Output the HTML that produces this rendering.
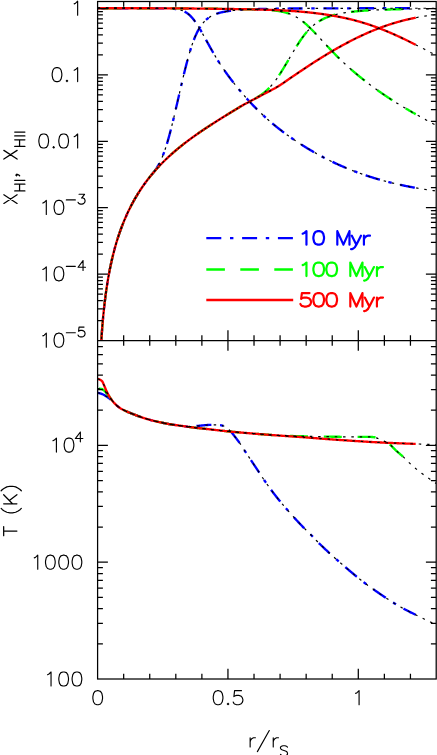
<!DOCTYPE html>
<html><head><meta charset="utf-8"><title>x_HI, x_HII and T profiles</title>
<style>
html,body{margin:0;padding:0;background:#ffffff;font-family:"Liberation Sans",sans-serif;}
body{width:437px;height:755px;overflow:hidden;}
svg{display:block;}
</style></head>
<body>
<svg width="437" height="755" viewBox="0 0 437 755" role="img" aria-label="Profiles of X_HI, X_HII and T (K) versus r/r_S at 10 Myr, 100 Myr and 500 Myr">
<desc>Top panel: X_HI, X_HII (1, 0.1, 0.01, 10^-3, 10^-4, 10^-5) versus r/r_S. Bottom panel: T (K) (10^4, 1000, 100) versus r/r_S (0, 0.5, 1). Legend: 10 Myr (blue dash-dot), 100 Myr (green dashed), 500 Myr (red solid).</desc>
<rect x="0" y="0" width="437" height="755" fill="#ffffff"/>
<defs><clipPath id="ct"><rect x="97.60" y="1.50" width="338.60" height="339.00"/></clipPath>
<clipPath id="cb"><rect x="97.60" y="340.50" width="338.60" height="338.50"/></clipPath></defs>
<g clip-path="url(#ct)">
<path d="M100.70 351.51L100.80 349.65L100.90 347.85L101.00 346.09L101.10 344.39L101.20 342.74L101.30 341.12L101.40 339.56L101.50 338.03L101.60 336.54L101.70 335.08L101.80 333.66L101.90 332.27L102.00 330.91L102.10 329.58L102.20 328.28L102.30 327.01L102.40 325.76L102.50 324.54L102.60 323.35L102.70 322.17L102.80 321.02L102.90 319.89L103.00 318.78L103.10 317.69L103.20 316.61L103.30 315.56L103.40 314.52L103.50 313.51L103.60 312.50L103.70 311.52L103.80 310.55L103.90 309.59L104.00 308.65L104.10 307.72L104.20 306.81L104.30 305.91L104.40 305.02L104.50 304.15L104.60 303.28L104.70 302.43L104.80 301.59L104.90 300.76L105.00 299.95L105.10 299.14L105.20 298.34L105.30 297.55L105.40 296.78L105.50 296.01L105.60 295.25L105.70 294.50L105.80 293.76L105.90 293.03L106.00 292.31L106.10 291.59L106.20 290.88L106.30 290.18L106.40 289.49L106.50 288.81L106.60 288.13L106.70 287.46L106.80 286.80L106.90 286.14L107.00 285.49L107.10 284.85L107.20 284.21L107.30 283.58L107.40 282.96L107.50 282.34L107.60 281.73L107.70 281.12L107.80 280.52L107.90 279.93L108.00 279.34L108.10 278.75L108.20 278.17L108.30 277.60L108.40 277.03L108.50 276.47L108.60 275.91L108.70 275.36L108.80 274.81L108.90 274.26L109.00 273.72L109.10 273.19L109.20 272.66L109.30 272.13L109.40 271.61L109.50 271.09L109.60 270.57L109.70 270.06L109.80 269.56L109.90 269.06L110.00 268.56L110.10 268.06L110.20 267.57L110.30 267.09L110.40 266.60L110.50 266.12L110.60 265.65L110.70 265.17L110.80 264.70L110.90 264.24L111.00 263.77L111.10 263.31L111.20 262.86L111.30 262.41L111.40 261.96L111.50 261.51L111.60 261.06L111.70 260.62L111.80 260.19L111.90 259.75L112.00 259.32L112.10 258.89L112.20 258.46L112.30 258.04L112.40 257.62L112.50 257.20L112.60 256.78L112.70 256.37L112.80 255.96L112.90 255.55L113.00 255.15L113.10 254.74L113.20 254.34L113.30 253.94L113.40 253.55L113.50 253.15L113.60 252.76L113.70 252.37L113.80 251.99L113.90 251.60L114.00 251.22L114.10 250.84L114.20 250.46L114.30 250.09L114.40 249.72L114.50 249.34L114.60 248.98L114.70 248.61L114.80 248.24L114.90 247.88L115.00 247.52L115.10 247.16L115.20 246.80L115.30 246.45L115.40 246.09L115.50 245.74L115.60 245.39L115.70 245.04L115.80 244.70L115.90 244.35L116.00 244.01L116.10 243.67L116.20 243.33L116.30 242.99L116.40 242.66L116.50 242.32L116.60 241.99L116.70 241.66L116.80 241.33L116.90 241.01L117.00 240.68L117.10 240.36L117.20 240.03L117.30 239.71L117.40 239.39L117.50 239.07L117.60 238.76L117.70 238.44L117.80 238.13L117.90 237.82L118.00 237.51L118.10 237.20L118.20 236.89L118.30 236.58L118.40 236.28L118.50 235.98L118.60 235.67L118.70 235.37L118.80 235.07L118.90 234.78L119.00 234.48L119.10 234.18L119.20 233.89L119.30 233.60L119.40 233.30L119.50 233.01L119.60 232.73L119.70 232.44L119.80 232.15L119.90 231.87L120.00 231.58L120.10 231.30L120.20 231.02L120.30 230.74L120.40 230.46L120.50 230.18L120.60 229.90L120.70 229.63L120.80 229.35L120.90 229.08L121.00 228.80L121.10 228.53L121.20 228.26L121.30 227.99L121.40 227.73L121.50 227.46L121.60 227.19L121.70 226.93L121.80 226.66L121.90 226.40L122.00 226.14L122.10 225.88L122.20 225.62L122.30 225.36L122.40 225.10L122.50 224.84L122.60 224.59L122.70 224.33L122.80 224.08L122.90 223.83L123.00 223.57L123.10 223.32L123.20 223.07L123.30 222.82L123.40 222.57L123.50 222.33L123.60 222.08L123.70 221.84L123.80 221.59L123.90 221.35L124.00 221.10L124.10 220.86L124.20 220.62L124.30 220.38L124.40 220.14L124.50 219.90L124.60 219.66L124.70 219.43L124.80 219.19L124.90 218.96L125.00 218.72L125.50 217.56L126.00 216.42L126.50 215.30L127.00 214.20L127.50 213.11L128.00 212.04L128.50 210.99L129.00 209.96L129.50 208.94L130.00 207.93L130.50 206.95L131.00 205.97L131.50 205.01L132.00 204.06L132.50 203.13L133.00 202.21L133.50 201.30L134.00 200.40L134.50 199.52L135.00 198.65L135.50 197.79L136.00 196.94L136.50 196.10L137.00 195.27L137.50 194.45L138.00 193.64L138.50 192.84L139.00 192.05L139.50 191.27L140.00 190.50L140.50 189.74L141.00 188.98L141.50 188.24L142.00 187.50L142.50 186.77L143.00 186.05L143.50 185.34L144.00 184.63L144.50 183.92L145.00 183.23L145.50 182.55L146.00 181.87L146.50 181.20L147.00 180.54L147.50 179.88L148.00 179.24L148.50 178.60L149.00 177.97L149.50 177.35L150.00 176.73L150.50 176.12L151.00 175.52L151.50 174.92L152.00 174.31L152.50 173.71L153.00 173.09L153.50 172.47L154.00 171.83L154.50 171.17L155.00 170.50L155.50 169.80L156.00 169.07L156.50 168.32L157.00 167.54L157.50 166.72L158.00 165.86L158.50 164.97L159.00 164.04L159.50 163.07L160.00 162.07L160.50 161.02L161.00 159.94L161.50 158.81L162.00 157.65L162.50 156.44L163.00 155.18L163.50 153.89L164.00 152.55L164.50 151.16L165.00 149.74L165.50 148.26L166.00 146.74L166.50 145.17L167.00 143.55L167.50 141.88L168.00 140.17L168.50 138.41L169.00 136.61L169.50 134.77L170.00 132.90L170.50 130.99L171.00 129.04L171.50 127.06L172.00 125.06L172.50 123.02L173.00 120.97L173.50 118.89L174.00 116.79L174.50 114.67L175.00 112.54L175.50 110.40L176.00 108.24L176.50 106.08L177.00 103.91L177.50 101.74L178.00 99.57L178.50 97.39L179.00 95.21L179.50 93.04L180.00 90.87L180.50 88.70L181.00 86.55L181.50 84.40L182.00 82.27L182.50 80.15L183.00 78.04L183.50 75.95L184.00 73.89L184.50 71.84L185.00 69.82L185.50 67.82L186.00 65.85L186.50 63.91L187.00 62.00L187.50 60.13L188.00 58.29L188.50 56.49L189.00 54.73L189.50 53.00L190.00 51.32L190.50 49.68L191.00 48.09L191.50 46.54L192.00 45.04L192.50 43.58L193.00 42.17L193.50 40.81L194.00 39.50L194.50 38.24L195.00 37.02L195.50 35.85L196.00 34.72L196.50 33.64L197.00 32.60L197.50 31.61L198.00 30.65L198.50 29.73L199.00 28.86L199.50 28.01L200.00 27.21L200.50 26.44L201.00 25.70L201.50 25.00L202.00 24.32L202.50 23.68L203.00 23.07L203.50 22.48L204.00 21.92L204.50 21.38L205.00 20.87L205.50 20.38L206.00 19.92L206.50 19.47L207.00 19.05L207.50 18.64L208.00 18.26L208.50 17.89L209.00 17.54L209.50 17.20L210.00 16.88L210.50 16.57L211.00 16.28L211.50 16.00L212.00 15.73L212.50 15.48L213.00 15.23L213.50 15.00L214.00 14.78L214.50 14.56L215.00 14.36L215.50 14.16L216.00 13.97L216.50 13.79L217.00 13.62L217.50 13.46L218.00 13.30L218.50 13.15L219.00 13.00L219.50 12.86L220.00 12.73L220.50 12.60L221.00 12.47L221.50 12.36L222.00 12.24L222.50 12.13L223.00 12.02L223.50 11.92L224.00 11.82L224.50 11.73L225.00 11.64L225.50 11.55L226.00 11.46L226.50 11.38L227.00 11.30L227.50 11.23L228.00 11.15L228.50 11.08L229.00 11.01L229.50 10.94L230.00 10.88L230.50 10.81L231.00 10.75L231.50 10.69L232.00 10.64L232.50 10.58L233.00 10.52L233.50 10.47L234.00 10.42L234.50 10.37L235.00 10.32L235.50 10.27L236.00 10.23L236.50 10.18L237.00 10.14L237.50 10.10L238.00 10.06L238.50 10.02L239.00 9.98L239.50 9.94L240.00 9.90L240.50 9.87L241.00 9.83L241.50 9.80L242.00 9.76L242.50 9.73L243.00 9.70L243.50 9.67L244.00 9.64L244.50 9.61L245.00 9.58L245.50 9.55L246.00 9.53L246.50 9.50L247.00 9.48L247.50 9.45L248.00 9.43L248.50 9.40L249.00 9.38L249.50 9.36L250.00 9.34L250.50 9.31L251.00 9.29L251.50 9.27L252.00 9.25L252.50 9.23L253.00 9.21L253.50 9.20L254.00 9.18L254.50 9.16L255.00 9.14L255.50 9.13L256.00 9.11L256.50 9.09L257.00 9.08L257.50 9.06L258.00 9.05L258.50 9.03L259.00 9.02L259.50 9.01L260.00 8.99L260.50 8.98L261.00 8.97L261.50 8.95L262.00 8.94L262.50 8.93L263.00 8.92L263.50 8.90L264.00 8.89L264.50 8.88L265.00 8.87L265.50 8.86L266.00 8.85L266.50 8.84L267.00 8.83L267.50 8.82L268.00 8.81L268.50 8.80L269.00 8.79L269.50 8.78L270.00 8.77L270.50 8.77L271.00 8.76L271.50 8.75L272.00 8.74L272.50 8.73L273.00 8.73L273.50 8.72L274.00 8.71L274.50 8.70L275.00 8.70L275.50 8.69L276.00 8.68L276.50 8.68L277.00 8.67L277.50 8.66L278.00 8.66L278.50 8.65L279.00 8.64L279.50 8.64L280.00 8.63L280.50 8.63L281.00 8.62L281.50 8.61L282.00 8.61L282.50 8.60L283.00 8.60L283.50 8.59L284.00 8.59L284.50 8.58L285.00 8.58L285.50 8.57L286.00 8.57L286.50 8.56L287.00 8.56L287.50 8.56L288.00 8.55L288.50 8.55L289.00 8.54L289.50 8.54L290.00 8.53L290.50 8.53L291.00 8.53L291.50 8.52L292.00 8.52L292.50 8.51L293.00 8.51L293.50 8.51L294.00 8.50L294.50 8.50L295.00 8.50L295.50 8.49L296.00 8.49L296.50 8.49L297.00 8.48L297.50 8.48L298.00 8.48L298.50 8.47L299.00 8.47L299.50 8.47L300.00 8.46L300.50 8.46L301.00 8.46L301.50 8.46L302.00 8.45L302.50 8.45L303.00 8.45L303.50 8.44L304.00 8.44L304.50 8.44L305.00 8.44L305.50 8.43L306.00 8.43L306.50 8.43L307.00 8.43L307.50 8.42L308.00 8.42L308.50 8.42L309.00 8.42L309.50 8.42L310.00 8.41L310.50 8.41L311.00 8.41L311.50 8.41L312.00 8.40L312.50 8.40L313.00 8.40L313.50 8.40L314.00 8.40L314.50 8.39L315.00 8.39L315.50 8.39L316.00 8.39L316.50 8.39L317.00 8.39L317.50 8.38L318.00 8.38L318.50 8.38L319.00 8.38L319.50 8.38L320.00 8.37L320.50 8.37L321.00 8.37L321.50 8.37L322.00 8.37L322.50 8.37L323.00 8.37L323.50 8.36L324.00 8.36L324.50 8.36L325.00 8.36L325.50 8.36L326.00 8.36L326.50 8.36L327.00 8.35L327.50 8.35L328.00 8.35L328.50 8.35L329.00 8.35L329.50 8.35L330.00 8.35L330.50 8.34L331.00 8.34L331.50 8.34L332.00 8.34L332.50 8.34L333.00 8.34L333.50 8.34L334.00 8.34L334.50 8.34L335.00 8.33L335.50 8.33L336.00 8.33L336.50 8.33L337.00 8.33L337.50 8.33L338.00 8.33L338.50 8.33L339.00 8.33L339.50 8.33L340.00 8.32L340.50 8.32L341.00 8.32L341.50 8.32L342.00 8.32L342.50 8.32L343.00 8.32L343.50 8.32L344.00 8.32L344.50 8.32L345.00 8.32L345.50 8.31L346.00 8.31L346.50 8.31L347.00 8.31L347.50 8.31L348.00 8.31L348.50 8.31L349.00 8.31L349.50 8.31L350.00 8.31L350.50 8.31L351.00 8.31L351.50 8.31L352.00 8.30L352.50 8.30L353.00 8.30L353.50 8.30L354.00 8.30L354.50 8.30L355.00 8.30L355.50 8.30L356.00 8.30L356.50 8.30L357.00 8.30L357.50 8.30L358.00 8.30L358.50 8.30L359.00 8.30L359.50 8.29L360.00 8.29L360.50 8.29L361.00 8.29L361.50 8.29L362.00 8.29L362.50 8.29L363.00 8.29L363.50 8.29L364.00 8.29L364.50 8.29L365.00 8.29L365.50 8.29L366.00 8.29L366.50 8.29L367.00 8.29L367.50 8.29L368.00 8.29L368.50 8.29L369.00 8.28L369.50 8.28L370.00 8.28L370.50 8.28L371.00 8.28L371.50 8.28L372.00 8.28L372.50 8.28L373.00 8.28L373.50 8.28L374.00 8.28L374.50 8.28L375.00 8.28L375.50 8.28L376.00 8.28L376.50 8.28L377.00 8.28L377.50 8.28L378.00 8.28L378.50 8.28L379.00 8.28L379.50 8.28L380.00 8.28L380.50 8.27L381.00 8.27L381.50 8.27L382.00 8.27L382.50 8.27L383.00 8.27L383.50 8.27L384.00 8.27L384.50 8.27L385.00 8.27L385.50 8.27L386.00 8.27L386.50 8.27L387.00 8.27L387.50 8.27L388.00 8.27L388.50 8.27L389.00 8.27L389.50 8.27L390.00 8.27L390.50 8.27L391.00 8.27L391.50 8.27L392.00 8.27L392.50 8.27L393.00 8.27L393.50 8.27L394.00 8.27L394.50 8.27L395.00 8.27L395.50 8.27L396.00 8.27L396.50 8.27L397.00 8.26L397.50 8.26L398.00 8.26L398.50 8.26L399.00 8.26L399.50 8.26L400.00 8.26L400.50 8.26L401.00 8.26L401.50 8.26L402.00 8.26L402.50 8.26L403.00 8.26L403.50 8.26L404.00 8.26L404.50 8.26L405.00 8.26L405.50 8.26L406.00 8.26L406.50 8.26L407.00 8.26L407.50 8.26L408.00 8.26L408.50 8.26L409.00 8.26L409.50 8.26L410.00 8.26L410.50 8.26L411.00 8.26L411.50 8.26L412.00 8.26L412.50 8.26L413.00 8.26L413.50 8.26L414.00 8.26L414.50 8.26L415.00 8.26L415.50 8.26L415.70 8.26" fill="none" stroke="#0000ff" stroke-width="2.35" stroke-dasharray="15 8.7 3.4 8.7" stroke-dashoffset="28.61" stroke-linejoin="round" />
<path d="M97.60 8.20L98.10 8.20L98.60 8.20L99.10 8.20L99.60 8.20L100.10 8.20L100.60 8.20L101.10 8.20L101.60 8.20L102.10 8.20L102.60 8.20L103.10 8.20L103.60 8.20L104.10 8.20L104.60 8.20L105.10 8.20L105.60 8.20L106.10 8.20L106.60 8.20L107.10 8.20L107.60 8.20L108.10 8.20L108.60 8.20L109.10 8.20L109.60 8.20L110.10 8.20L110.60 8.20L111.10 8.20L111.60 8.20L112.10 8.20L112.60 8.21L113.10 8.21L113.60 8.21L114.10 8.21L114.60 8.21L115.10 8.21L115.60 8.21L116.10 8.21L116.60 8.21L117.10 8.21L117.60 8.21L118.10 8.21L118.60 8.21L119.10 8.21L119.60 8.21L120.10 8.21L120.60 8.21L121.10 8.21L121.60 8.21L122.10 8.22L122.60 8.22L123.10 8.22L123.60 8.22L124.10 8.22L124.60 8.22L125.10 8.22L125.60 8.22L126.10 8.22L126.60 8.22L127.10 8.22L127.60 8.22L128.10 8.22L128.60 8.23L129.10 8.23L129.60 8.23L130.10 8.23L130.60 8.23L131.10 8.23L131.60 8.23L132.10 8.23L132.60 8.23L133.10 8.23L133.60 8.24L134.10 8.24L134.60 8.24L135.10 8.24L135.60 8.24L136.10 8.24L136.60 8.24L137.10 8.24L137.60 8.25L138.10 8.25L138.60 8.25L139.10 8.25L139.60 8.25L140.10 8.25L140.60 8.25L141.10 8.25L141.60 8.26L142.10 8.26L142.60 8.26L143.10 8.26L143.60 8.26L144.10 8.26L144.60 8.27L145.10 8.27L145.60 8.27L146.10 8.27L146.60 8.27L147.10 8.27L147.60 8.28L148.10 8.28L148.60 8.28L149.10 8.28L149.60 8.28L150.10 8.28L150.60 8.29L151.10 8.29L151.60 8.29L152.10 8.29L152.60 8.29L153.10 8.30L153.60 8.30L154.10 8.30L154.60 8.30L155.10 8.30L155.60 8.31L156.10 8.31L156.60 8.31L157.10 8.32L157.60 8.32L158.10 8.32L158.60 8.33L159.10 8.33L159.60 8.34L160.10 8.34L160.60 8.35L161.10 8.35L161.60 8.36L162.10 8.36L162.60 8.37L163.10 8.38L163.60 8.39L164.10 8.40L164.60 8.41L165.10 8.42L165.60 8.43L166.10 8.44L166.60 8.45L167.10 8.47L167.60 8.48L168.10 8.50L168.60 8.52L169.10 8.54L169.60 8.56L170.10 8.59L170.60 8.62L171.10 8.65L171.60 8.68L172.10 8.71L172.60 8.75L173.10 8.79L173.60 8.84L174.10 8.89L174.60 8.94L175.10 9.00L175.60 9.06L176.10 9.13L176.60 9.20L177.10 9.28L177.60 9.37L178.10 9.46L178.60 9.56L179.10 9.67L179.60 9.79L180.10 9.92L180.60 10.05L181.10 10.20L181.60 10.36L182.10 10.54L182.60 10.72L183.10 10.92L183.60 11.14L184.10 11.37L184.60 11.61L185.10 11.88L185.60 12.16L186.10 12.46L186.60 12.78L187.10 13.12L187.60 13.48L188.10 13.86L188.60 14.27L189.10 14.69L189.60 15.14L190.10 15.62L190.60 16.11L191.10 16.63L191.60 17.17L192.10 17.74L192.60 18.33L193.10 18.94L193.60 19.57L194.10 20.22L194.60 20.89L195.10 21.58L195.60 22.28L196.10 23.01L196.60 23.75L197.10 24.51L197.60 25.29L198.10 26.08L198.60 26.88L199.10 27.70L199.60 28.53L200.10 29.37L200.60 30.22L201.10 31.08L201.60 31.95L202.10 32.83L202.60 33.71L203.10 34.60L203.60 35.49L204.10 36.39L204.60 37.29L205.10 38.20L205.60 39.10L206.10 40.01L206.60 40.92L207.10 41.83L207.60 42.73L208.10 43.64L208.60 44.54L209.10 45.44L209.60 46.34L210.10 47.24L210.60 48.13L211.10 49.01L211.60 49.90L212.10 50.77L212.60 51.64L213.10 52.51L213.60 53.37L214.10 54.23L214.60 55.08L215.10 55.92L215.60 56.76L216.10 57.59L216.60 58.41L217.10 59.23L217.60 60.04L218.10 60.84L218.60 61.64L219.10 62.42L219.60 63.21L220.10 63.98L220.60 64.75L221.10 65.51L221.60 66.27L222.10 67.02L222.60 67.76L223.10 68.50L223.60 69.23L224.10 69.95L224.60 70.67L225.10 71.38L225.60 72.08L226.10 72.78L226.60 73.48L227.10 74.17L227.60 74.85L228.10 75.53L228.60 76.21L229.10 76.88L229.60 77.54L230.10 78.20L230.60 78.86L231.10 79.51L231.60 80.17L232.10 80.81L232.60 81.46L233.10 82.10L233.60 82.74L234.10 83.37L234.60 84.00L235.10 84.63L235.60 85.26L236.10 85.88L236.60 86.51L237.10 87.12L237.60 87.74L238.10 88.35L238.60 88.96L239.10 89.57L239.60 90.17L240.10 90.77L240.60 91.37L241.10 91.97L241.60 92.56L242.10 93.15L242.60 93.73L243.10 94.31L243.60 94.89L244.10 95.47L244.60 96.04L245.10 96.62L245.60 97.18L246.10 97.75L246.60 98.31L247.10 98.87L247.60 99.42L248.10 99.98L248.60 100.53L249.10 101.07L249.60 101.62L250.10 102.16L250.60 102.70L251.10 103.23L251.60 103.76L252.10 104.29L252.60 104.82L253.10 105.34L253.60 105.86L254.10 106.38L254.60 106.90L255.10 107.41L255.60 107.92L256.10 108.42L256.60 108.93L257.10 109.43L257.60 109.92L258.10 110.42L258.60 110.91L259.10 111.40L259.60 111.89L260.10 112.37L260.60 112.85L261.10 113.33L261.60 113.80L262.10 114.28L262.60 114.75L263.10 115.22L263.60 115.68L264.10 116.14L264.60 116.60L265.10 117.06L265.60 117.51L266.10 117.97L266.60 118.42L267.10 118.86L267.60 119.31L268.10 119.75L268.60 120.19L269.10 120.62L269.60 121.06L270.10 121.49L270.60 121.92L271.10 122.35L271.60 122.77L272.10 123.20L272.60 123.62L273.10 124.04L273.60 124.45L274.10 124.86L274.60 125.28L275.10 125.68L275.60 126.09L276.10 126.50L276.60 126.90L277.10 127.30L277.60 127.70L278.10 128.09L278.60 128.49L279.10 128.88L279.60 129.27L280.10 129.66L280.60 130.04L281.10 130.43L281.60 130.81L282.10 131.19L282.60 131.57L283.10 131.94L283.60 132.32L284.10 132.69L284.60 133.06L285.10 133.43L285.60 133.80L286.10 134.16L286.60 134.53L287.10 134.89L287.60 135.25L288.10 135.61L288.60 135.96L289.10 136.32L289.60 136.67L290.10 137.02L290.60 137.37L291.10 137.72L291.60 138.07L292.10 138.41L292.60 138.76L293.10 139.10L293.60 139.44L294.10 139.78L294.60 140.12L295.10 140.46L295.60 140.79L296.10 141.13L296.60 141.46L297.10 141.79L297.60 142.12L298.10 142.45L298.60 142.77L299.10 143.10L299.60 143.42L300.10 143.75L300.60 144.07L301.10 144.39L301.60 144.71L302.10 145.03L302.60 145.34L303.10 145.66L303.60 145.97L304.10 146.28L304.60 146.59L305.10 146.90L305.60 147.21L306.10 147.52L306.60 147.82L307.10 148.13L307.60 148.43L308.10 148.73L308.60 149.03L309.10 149.33L309.60 149.63L310.10 149.92L310.60 150.22L311.10 150.51L311.60 150.80L312.10 151.09L312.60 151.38L313.10 151.67L313.60 151.96L314.10 152.24L314.60 152.53L315.10 152.81L315.60 153.09L316.10 153.37L316.60 153.65L317.10 153.93L317.60 154.21L318.10 154.48L318.60 154.76L319.10 155.03L319.60 155.30L320.10 155.57L320.60 155.84L321.10 156.11L321.60 156.37L322.10 156.64L322.60 156.90L323.10 157.16L323.60 157.43L324.10 157.69L324.60 157.94L325.10 158.20L325.60 158.46L326.10 158.71L326.60 158.97L327.10 159.22L327.60 159.47L328.10 159.72L328.60 159.97L329.10 160.22L329.60 160.47L330.10 160.71L330.60 160.96L331.10 161.20L331.60 161.44L332.10 161.68L332.60 161.92L333.10 162.16L333.60 162.40L334.10 162.64L334.60 162.87L335.10 163.10L335.60 163.34L336.10 163.57L336.60 163.80L337.10 164.03L337.60 164.26L338.10 164.48L338.60 164.71L339.10 164.93L339.60 165.16L340.10 165.38L340.60 165.60L341.10 165.82L341.60 166.04L342.10 166.26L342.60 166.47L343.10 166.69L343.60 166.90L344.10 167.12L344.60 167.33L345.10 167.54L345.60 167.75L346.10 167.96L346.60 168.17L347.10 168.37L347.60 168.58L348.10 168.78L348.60 168.99L349.10 169.19L349.60 169.39L350.10 169.59L350.60 169.79L351.10 169.99L351.60 170.18L352.10 170.38L352.60 170.57L353.10 170.77L353.60 170.96L354.10 171.15L354.60 171.34L355.10 171.53L355.60 171.72L356.10 171.91L356.60 172.10L357.10 172.28L357.60 172.47L358.10 172.65L358.60 172.83L359.10 173.01L359.60 173.19L360.10 173.37L360.60 173.55L361.10 173.73L361.60 173.91L362.10 174.08L362.60 174.26L363.10 174.43L363.60 174.60L364.10 174.77L364.60 174.94L365.10 175.11L365.60 175.28L366.10 175.45L366.60 175.62L367.10 175.78L367.60 175.95L368.10 176.11L368.60 176.28L369.10 176.44L369.60 176.60L370.10 176.76L370.60 176.92L371.10 177.08L371.60 177.23L372.10 177.39L372.60 177.54L373.10 177.70L373.60 177.85L374.10 178.01L374.60 178.16L375.10 178.31L375.60 178.46L376.10 178.61L376.60 178.76L377.10 178.90L377.60 179.05L378.10 179.19L378.60 179.34L379.10 179.48L379.60 179.63L380.10 179.77L380.60 179.91L381.10 180.05L381.60 180.19L382.10 180.33L382.60 180.47L383.10 180.60L383.60 180.74L384.10 180.87L384.60 181.01L385.10 181.14L385.60 181.27L386.10 181.41L386.60 181.54L387.10 181.67L387.60 181.80L388.10 181.92L388.60 182.05L389.10 182.18L389.60 182.31L390.10 182.43L390.60 182.56L391.10 182.68L391.60 182.80L392.10 182.92L392.60 183.05L393.10 183.17L393.60 183.29L394.10 183.41L394.60 183.52L395.10 183.64L395.60 183.76L396.10 183.87L396.60 183.99L397.10 184.10L397.60 184.22L398.10 184.33L398.60 184.44L399.10 184.55L399.60 184.66L400.10 184.77L400.60 184.88L401.10 184.99L401.60 185.10L402.10 185.21L402.60 185.31L403.10 185.42L403.60 185.52L404.10 185.63L404.60 185.73L405.10 185.83L405.60 185.94L406.10 186.04L406.60 186.14L407.10 186.24L407.60 186.34L408.10 186.44L408.60 186.53L409.10 186.63L409.60 186.73L410.10 186.82L410.60 186.92L411.10 187.01L411.60 187.11L412.10 187.20L412.60 187.29L413.10 187.39L413.60 187.48L414.10 187.57L414.60 187.66L415.10 187.75L415.60 187.84L415.70 187.85" fill="none" stroke="#0000ff" stroke-width="2.35" stroke-dasharray="15 8.7 3.4 8.7" stroke-dashoffset="19.97" stroke-linejoin="round" />
<path d="M100.70 351.51L100.80 349.65L100.90 347.85L101.00 346.09L101.10 344.39L101.20 342.74L101.30 341.12L101.40 339.56L101.50 338.03L101.60 336.54L101.70 335.08L101.80 333.66L101.90 332.27L102.00 330.91L102.10 329.58L102.20 328.28L102.30 327.01L102.40 325.76L102.50 324.54L102.60 323.35L102.70 322.17L102.80 321.02L102.90 319.89L103.00 318.78L103.10 317.69L103.20 316.61L103.30 315.56L103.40 314.52L103.50 313.51L103.60 312.50L103.70 311.52L103.80 310.55L103.90 309.59L104.00 308.65L104.10 307.72L104.20 306.81L104.30 305.91L104.40 305.02L104.50 304.15L104.60 303.28L104.70 302.43L104.80 301.59L104.90 300.76L105.00 299.95L105.10 299.14L105.20 298.34L105.30 297.55L105.40 296.78L105.50 296.01L105.60 295.25L105.70 294.50L105.80 293.76L105.90 293.03L106.00 292.31L106.10 291.59L106.20 290.88L106.30 290.18L106.40 289.49L106.50 288.81L106.60 288.13L106.70 287.46L106.80 286.80L106.90 286.14L107.00 285.49L107.10 284.85L107.20 284.21L107.30 283.58L107.40 282.96L107.50 282.34L107.60 281.73L107.70 281.12L107.80 280.52L107.90 279.93L108.00 279.34L108.10 278.75L108.20 278.17L108.30 277.60L108.40 277.03L108.50 276.47L108.60 275.91L108.70 275.36L108.80 274.81L108.90 274.26L109.00 273.72L109.10 273.19L109.20 272.66L109.30 272.13L109.40 271.61L109.50 271.09L109.60 270.57L109.70 270.06L109.80 269.56L109.90 269.06L110.00 268.56L110.10 268.06L110.20 267.57L110.30 267.09L110.40 266.60L110.50 266.12L110.60 265.65L110.70 265.17L110.80 264.70L110.90 264.24L111.00 263.77L111.10 263.31L111.20 262.86L111.30 262.41L111.40 261.96L111.50 261.51L111.60 261.06L111.70 260.62L111.80 260.19L111.90 259.75L112.00 259.32L112.10 258.89L112.20 258.46L112.30 258.04L112.40 257.62L112.50 257.20L112.60 256.78L112.70 256.37L112.80 255.96L112.90 255.55L113.00 255.15L113.10 254.74L113.20 254.34L113.30 253.94L113.40 253.55L113.50 253.15L113.60 252.76L113.70 252.37L113.80 251.99L113.90 251.60L114.00 251.22L114.10 250.84L114.20 250.46L114.30 250.09L114.40 249.72L114.50 249.34L114.60 248.98L114.70 248.61L114.80 248.24L114.90 247.88L115.00 247.52L115.10 247.16L115.20 246.80L115.30 246.45L115.40 246.09L115.50 245.74L115.60 245.39L115.70 245.04L115.80 244.70L115.90 244.35L116.00 244.01L116.10 243.67L116.20 243.33L116.30 242.99L116.40 242.66L116.50 242.32L116.60 241.99L116.70 241.66L116.80 241.33L116.90 241.01L117.00 240.68L117.10 240.36L117.20 240.03L117.30 239.71L117.40 239.39L117.50 239.07L117.60 238.76L117.70 238.44L117.80 238.13L117.90 237.82L118.00 237.51L118.10 237.20L118.20 236.89L118.30 236.58L118.40 236.28L118.50 235.98L118.60 235.67L118.70 235.37L118.80 235.07L118.90 234.78L119.00 234.48L119.10 234.18L119.20 233.89L119.30 233.60L119.40 233.30L119.50 233.01L119.60 232.73L119.70 232.44L119.80 232.15L119.90 231.87L120.00 231.58L120.10 231.30L120.20 231.02L120.30 230.74L120.40 230.46L120.50 230.18L120.60 229.90L120.70 229.63L120.80 229.35L120.90 229.08L121.00 228.80L121.10 228.53L121.20 228.26L121.30 227.99L121.40 227.73L121.50 227.46L121.60 227.19L121.70 226.93L121.80 226.66L121.90 226.40L122.00 226.14L122.10 225.88L122.20 225.62L122.30 225.36L122.40 225.10L122.50 224.84L122.60 224.59L122.70 224.33L122.80 224.08L122.90 223.83L123.00 223.57L123.10 223.32L123.20 223.07L123.30 222.82L123.40 222.57L123.50 222.33L123.60 222.08L123.70 221.84L123.80 221.59L123.90 221.35L124.00 221.10L124.10 220.86L124.20 220.62L124.30 220.38L124.40 220.14L124.50 219.90L124.60 219.66L124.70 219.43L124.80 219.19L124.90 218.96L125.00 218.72L125.50 217.56L126.00 216.42L126.50 215.30L127.00 214.20L127.50 213.11L128.00 212.04L128.50 210.99L129.00 209.96L129.50 208.94L130.00 207.93L130.50 206.95L131.00 205.97L131.50 205.01L132.00 204.06L132.50 203.13L133.00 202.21L133.50 201.30L134.00 200.40L134.50 199.52L135.00 198.65L135.50 197.79L136.00 196.94L136.50 196.10L137.00 195.27L137.50 194.45L138.00 193.64L138.50 192.84L139.00 192.05L139.50 191.27L140.00 190.50L140.50 189.74L141.00 188.98L141.50 188.24L142.00 187.50L142.50 186.77L143.00 186.05L143.50 185.34L144.00 184.63L144.50 183.93L145.00 183.24L145.50 182.56L146.00 181.88L146.50 181.21L147.00 180.55L147.50 179.89L148.00 179.24L148.50 178.60L149.00 177.96L149.50 177.33L150.00 176.70L150.50 176.08L151.00 175.47L151.50 174.86L152.00 174.26L152.50 173.66L153.00 173.07L153.50 172.48L154.00 171.90L154.50 171.32L155.00 170.75L155.50 170.18L156.00 169.62L156.50 169.06L157.00 168.51L157.50 167.96L158.00 167.42L158.50 166.88L159.00 166.34L159.50 165.81L160.00 165.29L160.50 164.76L161.00 164.25L161.50 163.73L162.00 163.22L162.50 162.71L163.00 162.21L163.50 161.71L164.00 161.22L164.50 160.72L165.00 160.24L165.50 159.75L166.00 159.27L166.50 158.79L167.00 158.31L167.50 157.84L168.00 157.37L168.50 156.91L169.00 156.45L169.50 155.99L170.00 155.53L170.50 155.08L171.00 154.63L171.50 154.18L172.00 153.73L172.50 153.29L173.00 152.85L173.50 152.41L174.00 151.98L174.50 151.55L175.00 151.12L175.50 150.69L176.00 150.27L176.50 149.85L177.00 149.43L177.50 149.01L178.00 148.59L178.50 148.18L179.00 147.77L179.50 147.36L180.00 146.96L180.50 146.55L181.00 146.15L181.50 145.75L182.00 145.35L182.50 144.96L183.00 144.56L183.50 144.17L184.00 143.78L184.50 143.39L185.00 143.01L185.50 142.62L186.00 142.24L186.50 141.86L187.00 141.48L187.50 141.10L188.00 140.73L188.50 140.35L189.00 139.98L189.50 139.61L190.00 139.24L190.50 138.87L191.00 138.51L191.50 138.14L192.00 137.78L192.50 137.42L193.00 137.06L193.50 136.70L194.00 136.34L194.50 135.98L195.00 135.63L195.50 135.27L196.00 134.92L196.50 134.57L197.00 134.22L197.50 133.87L198.00 133.52L198.50 133.18L199.00 132.83L199.50 132.49L200.00 132.14L200.50 131.80L201.00 131.46L201.50 131.12L202.00 130.78L202.50 130.44L203.00 130.11L203.50 129.77L204.00 129.43L204.50 129.10L205.00 128.77L205.50 128.43L206.00 128.10L206.50 127.77L207.00 127.44L207.50 127.11L208.00 126.78L208.50 126.46L209.00 126.13L209.50 125.80L210.00 125.48L210.50 125.16L211.00 124.83L211.50 124.51L212.00 124.19L212.50 123.86L213.00 123.54L213.50 123.22L214.00 122.90L214.50 122.58L215.00 122.27L215.50 121.95L216.00 121.63L216.50 121.31L217.00 121.00L217.50 120.68L218.00 120.37L218.50 120.05L219.00 119.74L219.50 119.43L220.00 119.11L220.50 118.80L221.00 118.49L221.50 118.18L222.00 117.86L222.50 117.55L223.00 117.24L223.50 116.93L224.00 116.62L224.50 116.31L225.00 116.00L225.50 115.70L226.00 115.39L226.50 115.08L227.00 114.77L227.50 114.46L228.00 114.16L228.50 113.85L229.00 113.54L229.50 113.24L230.00 112.93L230.50 112.63L231.00 112.32L231.50 112.02L232.00 111.71L232.50 111.41L233.00 111.10L233.50 110.80L234.00 110.49L234.50 110.19L235.00 109.89L235.50 109.58L236.00 109.28L236.50 108.98L237.00 108.67L237.50 108.37L238.00 108.07L238.50 107.76L239.00 107.46L239.50 107.16L240.00 106.86L240.50 106.56L241.00 106.26L241.50 105.97L242.00 105.68L242.50 105.43L243.00 105.15L243.50 104.87L244.00 104.59L244.50 104.32L245.00 104.04L245.50 103.77L246.00 103.50L246.50 103.23L247.00 102.96L247.50 102.69L248.00 102.42L248.50 102.16L249.00 101.89L249.50 101.63L250.00 101.36L250.50 101.10L251.00 100.83L251.50 100.57L252.00 100.30L252.50 100.03L253.00 99.76L253.50 99.49L254.00 99.21L254.50 98.93L255.00 98.65L255.50 98.37L256.00 98.08L256.50 97.78L257.00 97.49L257.50 97.18L258.00 96.87L258.50 96.56L259.00 96.24L259.50 95.92L260.00 95.58L260.50 95.24L261.00 94.90L261.50 94.55L262.00 94.18L262.50 93.81L263.00 93.44L263.50 93.05L264.00 92.66L264.50 92.25L265.00 91.84L265.50 91.41L266.00 90.98L266.50 90.53L267.00 90.08L267.50 89.61L268.00 89.13L268.50 88.64L269.00 88.14L269.50 87.63L270.00 87.10L270.50 86.56L271.00 86.01L271.50 85.44L272.00 84.86L272.50 84.27L273.00 83.66L273.50 83.04L274.00 82.41L274.50 81.76L275.00 81.10L275.50 80.43L276.00 79.74L276.50 79.04L277.00 78.33L277.50 77.61L278.00 76.88L278.50 76.14L279.00 75.39L279.50 74.62L280.00 73.85L280.50 73.08L281.00 72.29L281.50 71.50L282.00 70.69L282.50 69.89L283.00 69.07L283.50 68.25L284.00 67.43L284.50 66.59L285.00 65.76L285.50 64.92L286.00 64.08L286.50 63.23L287.00 62.38L287.50 61.53L288.00 60.68L288.50 59.82L289.00 58.97L289.50 58.12L290.00 57.26L290.50 56.41L291.00 55.56L291.50 54.71L292.00 53.86L292.50 53.01L293.00 52.17L293.50 51.33L294.00 50.50L294.50 49.67L295.00 48.85L295.50 48.03L296.00 47.22L296.50 46.42L297.00 45.62L297.50 44.83L298.00 44.05L298.50 43.27L299.00 42.51L299.50 41.76L300.00 41.01L300.50 40.27L301.00 39.55L301.50 38.83L302.00 38.13L302.50 37.44L303.00 36.75L303.50 36.08L304.00 35.43L304.50 34.78L305.00 34.14L305.50 33.52L306.00 32.91L306.50 32.32L307.00 31.73L307.50 31.16L308.00 30.60L308.50 30.06L309.00 29.52L309.50 29.00L310.00 28.49L310.50 28.00L311.00 27.52L311.50 27.05L312.00 26.59L312.50 26.15L313.00 25.71L313.50 25.29L314.00 24.88L314.50 24.48L315.00 24.09L315.50 23.71L316.00 23.34L316.50 22.98L317.00 22.63L317.50 22.29L318.00 21.96L318.50 21.64L319.00 21.32L319.50 21.02L320.00 20.72L320.50 20.43L321.00 20.15L321.50 19.88L322.00 19.61L322.50 19.35L323.00 19.10L323.50 18.86L324.00 18.62L324.50 18.39L325.00 18.16L325.50 17.94L326.00 17.73L326.50 17.52L327.00 17.32L327.50 17.13L328.00 16.94L328.50 16.75L329.00 16.57L329.50 16.39L330.00 16.22L330.50 16.06L331.00 15.89L331.50 15.73L332.00 15.58L332.50 15.43L333.00 15.29L333.50 15.14L334.00 15.01L334.50 14.87L335.00 14.74L335.50 14.61L336.00 14.49L336.50 14.37L337.00 14.25L337.50 14.13L338.00 14.02L338.50 13.91L339.00 13.80L339.50 13.70L340.00 13.60L340.50 13.50L341.00 13.40L341.50 13.31L342.00 13.22L342.50 13.13L343.00 13.04L343.50 12.96L344.00 12.87L344.50 12.79L345.00 12.71L345.50 12.63L346.00 12.56L346.50 12.48L347.00 12.41L347.50 12.34L348.00 12.27L348.50 12.20L349.00 12.14L349.50 12.07L350.00 12.01L350.50 11.95L351.00 11.89L351.50 11.83L352.00 11.77L352.50 11.72L353.00 11.66L353.50 11.61L354.00 11.55L354.50 11.50L355.00 11.45L355.50 11.40L356.00 11.35L356.50 11.30L357.00 11.26L357.50 11.21L358.00 11.17L358.50 11.12L359.00 11.08L359.50 11.04L360.00 11.00L360.50 10.95L361.00 10.91L361.50 10.88L362.00 10.84L362.50 10.80L363.00 10.76L363.50 10.73L364.00 10.69L364.50 10.65L365.00 10.62L365.50 10.59L366.00 10.55L366.50 10.52L367.00 10.49L367.50 10.46L368.00 10.43L368.50 10.39L369.00 10.36L369.50 10.34L370.00 10.31L370.50 10.28L371.00 10.25L371.50 10.22L372.00 10.20L372.50 10.17L373.00 10.14L373.50 10.12L374.00 10.09L374.50 10.07L375.00 10.04L375.50 10.02L376.00 10.00L376.50 9.97L377.00 9.95L377.50 9.93L378.00 9.91L378.50 9.89L379.00 9.86L379.50 9.84L380.00 9.82L380.50 9.80L381.00 9.78L381.50 9.76L382.00 9.75L382.50 9.73L383.00 9.71L383.50 9.69L384.00 9.67L384.50 9.65L385.00 9.64L385.50 9.62L386.00 9.60L386.50 9.59L387.00 9.57L387.50 9.55L388.00 9.54L388.50 9.52L389.00 9.51L389.50 9.49L390.00 9.48L390.50 9.46L391.00 9.45L391.50 9.43L392.00 9.42L392.50 9.41L393.00 9.39L393.50 9.38L394.00 9.37L394.50 9.35L395.00 9.34L395.50 9.33L396.00 9.32L396.50 9.30L397.00 9.29L397.50 9.28L398.00 9.27L398.50 9.26L399.00 9.24L399.50 9.23L400.00 9.22L400.50 9.21L401.00 9.20L401.50 9.19L402.00 9.18L402.50 9.17L403.00 9.16L403.50 9.15L404.00 9.14L404.50 9.13L405.00 9.12L405.50 9.11L406.00 9.10L406.50 9.09L407.00 9.08L407.50 9.07L408.00 9.06L408.50 9.06L409.00 9.05L409.50 9.04L410.00 9.03L410.50 9.02L411.00 9.01L411.50 9.00L412.00 9.00L412.50 8.99L413.00 8.98L413.50 8.97L414.00 8.97L414.50 8.96L415.00 8.95L415.50 8.94L415.70 8.94" fill="none" stroke="#00ff00" stroke-width="2.35" stroke-dasharray="18 15.8" stroke-dashoffset="21.57" stroke-linejoin="round" />
<path d="M97.60 8.20L98.10 8.20L98.60 8.20L99.10 8.20L99.60 8.20L100.10 8.20L100.60 8.20L101.10 8.20L101.60 8.20L102.10 8.20L102.60 8.20L103.10 8.20L103.60 8.20L104.10 8.20L104.60 8.20L105.10 8.20L105.60 8.20L106.10 8.20L106.60 8.20L107.10 8.20L107.60 8.20L108.10 8.20L108.60 8.20L109.10 8.20L109.60 8.20L110.10 8.20L110.60 8.20L111.10 8.20L111.60 8.20L112.10 8.20L112.60 8.21L113.10 8.21L113.60 8.21L114.10 8.21L114.60 8.21L115.10 8.21L115.60 8.21L116.10 8.21L116.60 8.21L117.10 8.21L117.60 8.21L118.10 8.21L118.60 8.21L119.10 8.21L119.60 8.21L120.10 8.21L120.60 8.21L121.10 8.21L121.60 8.21L122.10 8.22L122.60 8.22L123.10 8.22L123.60 8.22L124.10 8.22L124.60 8.22L125.10 8.22L125.60 8.22L126.10 8.22L126.60 8.22L127.10 8.22L127.60 8.22L128.10 8.22L128.60 8.23L129.10 8.23L129.60 8.23L130.10 8.23L130.60 8.23L131.10 8.23L131.60 8.23L132.10 8.23L132.60 8.23L133.10 8.23L133.60 8.24L134.10 8.24L134.60 8.24L135.10 8.24L135.60 8.24L136.10 8.24L136.60 8.24L137.10 8.24L137.60 8.25L138.10 8.25L138.60 8.25L139.10 8.25L139.60 8.25L140.10 8.25L140.60 8.25L141.10 8.25L141.60 8.26L142.10 8.26L142.60 8.26L143.10 8.26L143.60 8.26L144.10 8.26L144.60 8.27L145.10 8.27L145.60 8.27L146.10 8.27L146.60 8.27L147.10 8.27L147.60 8.28L148.10 8.28L148.60 8.28L149.10 8.28L149.60 8.28L150.10 8.28L150.60 8.29L151.10 8.29L151.60 8.29L152.10 8.29L152.60 8.29L153.10 8.30L153.60 8.30L154.10 8.30L154.60 8.30L155.10 8.30L155.60 8.31L156.10 8.31L156.60 8.31L157.10 8.31L157.60 8.31L158.10 8.32L158.60 8.32L159.10 8.32L159.60 8.32L160.10 8.32L160.60 8.33L161.10 8.33L161.60 8.33L162.10 8.33L162.60 8.34L163.10 8.34L163.60 8.34L164.10 8.34L164.60 8.35L165.10 8.35L165.60 8.35L166.10 8.35L166.60 8.36L167.10 8.36L167.60 8.36L168.10 8.36L168.60 8.37L169.10 8.37L169.60 8.37L170.10 8.38L170.60 8.38L171.10 8.38L171.60 8.38L172.10 8.39L172.60 8.39L173.10 8.39L173.60 8.40L174.10 8.40L174.60 8.40L175.10 8.40L175.60 8.41L176.10 8.41L176.60 8.41L177.10 8.42L177.60 8.42L178.10 8.42L178.60 8.43L179.10 8.43L179.60 8.43L180.10 8.44L180.60 8.44L181.10 8.44L181.60 8.45L182.10 8.45L182.60 8.45L183.10 8.46L183.60 8.46L184.10 8.46L184.60 8.47L185.10 8.47L185.60 8.47L186.10 8.48L186.60 8.48L187.10 8.49L187.60 8.49L188.10 8.49L188.60 8.50L189.10 8.50L189.60 8.50L190.10 8.51L190.60 8.51L191.10 8.52L191.60 8.52L192.10 8.53L192.60 8.53L193.10 8.53L193.60 8.54L194.10 8.54L194.60 8.55L195.10 8.55L195.60 8.55L196.10 8.56L196.60 8.56L197.10 8.57L197.60 8.57L198.10 8.58L198.60 8.58L199.10 8.59L199.60 8.59L200.10 8.60L200.60 8.60L201.10 8.61L201.60 8.61L202.10 8.61L202.60 8.62L203.10 8.62L203.60 8.63L204.10 8.63L204.60 8.64L205.10 8.65L205.60 8.65L206.10 8.66L206.60 8.66L207.10 8.67L207.60 8.67L208.10 8.68L208.60 8.68L209.10 8.69L209.60 8.69L210.10 8.70L210.60 8.71L211.10 8.71L211.60 8.72L212.10 8.72L212.60 8.73L213.10 8.73L213.60 8.74L214.10 8.75L214.60 8.75L215.10 8.76L215.60 8.77L216.10 8.77L216.60 8.78L217.10 8.78L217.60 8.79L218.10 8.80L218.60 8.80L219.10 8.81L219.60 8.82L220.10 8.82L220.60 8.83L221.10 8.84L221.60 8.84L222.10 8.85L222.60 8.86L223.10 8.87L223.60 8.87L224.10 8.88L224.60 8.89L225.10 8.90L225.60 8.90L226.10 8.91L226.60 8.92L227.10 8.93L227.60 8.93L228.10 8.94L228.60 8.95L229.10 8.96L229.60 8.97L230.10 8.98L230.60 8.98L231.10 8.99L231.60 9.00L232.10 9.01L232.60 9.02L233.10 9.03L233.60 9.04L234.10 9.04L234.60 9.05L235.10 9.06L235.60 9.07L236.10 9.08L236.60 9.09L237.10 9.10L237.60 9.11L238.10 9.12L238.60 9.13L239.10 9.14L239.60 9.15L240.10 9.16L240.60 9.17L241.10 9.18L241.60 9.19L242.10 9.20L242.60 9.21L243.10 9.22L243.60 9.23L244.10 9.24L244.60 9.25L245.10 9.26L245.60 9.27L246.10 9.28L246.60 9.29L247.10 9.30L247.60 9.31L248.10 9.32L248.60 9.33L249.10 9.34L249.60 9.35L250.10 9.37L250.60 9.38L251.10 9.39L251.60 9.40L252.10 9.41L252.60 9.42L253.10 9.43L253.60 9.45L254.10 9.46L254.60 9.47L255.10 9.48L255.60 9.50L256.10 9.51L256.60 9.52L257.10 9.54L257.60 9.55L258.10 9.57L258.60 9.58L259.10 9.60L259.60 9.61L260.10 9.63L260.60 9.65L261.10 9.67L261.60 9.69L262.10 9.70L262.60 9.72L263.10 9.75L263.60 9.77L264.10 9.79L264.60 9.81L265.10 9.84L265.60 9.86L266.10 9.89L266.60 9.91L267.10 9.94L267.60 9.97L268.10 10.00L268.60 10.04L269.10 10.07L269.60 10.10L270.10 10.14L270.60 10.18L271.10 10.22L271.60 10.26L272.10 10.30L272.60 10.35L273.10 10.40L273.60 10.45L274.10 10.50L274.60 10.55L275.10 10.61L275.60 10.67L276.10 10.73L276.60 10.80L277.10 10.87L277.60 10.94L278.10 11.01L278.60 11.09L279.10 11.17L279.60 11.25L280.10 11.34L280.60 11.43L281.10 11.53L281.60 11.62L282.10 11.73L282.60 11.83L283.10 11.95L283.60 12.06L284.10 12.18L284.60 12.31L285.10 12.44L285.60 12.57L286.10 12.71L286.60 12.86L287.10 13.01L287.60 13.17L288.10 13.33L288.60 13.50L289.10 13.68L289.60 13.86L290.10 14.05L290.60 14.24L291.10 14.44L291.60 14.65L292.10 14.87L292.60 15.09L293.10 15.33L293.60 15.56L294.10 15.81L294.60 16.07L295.10 16.33L295.60 16.60L296.10 16.88L296.60 17.17L297.10 17.46L297.60 17.77L298.10 18.08L298.60 18.40L299.10 18.73L299.60 19.07L300.10 19.41L300.60 19.77L301.10 20.13L301.60 20.51L302.10 20.89L302.60 21.28L303.10 21.67L303.60 22.08L304.10 22.49L304.60 22.91L305.10 23.34L305.60 23.78L306.10 24.22L306.60 24.67L307.10 25.12L307.60 25.59L308.10 26.06L308.60 26.53L309.10 27.01L309.60 27.49L310.10 27.98L310.60 28.48L311.10 28.97L311.60 29.48L312.10 29.98L312.60 30.49L313.10 31.00L313.60 31.52L314.10 32.03L314.60 32.55L315.10 33.08L315.60 33.60L316.10 34.13L316.60 34.66L317.10 35.19L317.60 35.72L318.10 36.25L318.60 36.79L319.10 37.33L319.60 37.86L320.10 38.40L320.60 38.94L321.10 39.48L321.60 40.02L322.10 40.56L322.60 41.10L323.10 41.64L323.60 42.18L324.10 42.71L324.60 43.25L325.10 43.79L325.60 44.33L326.10 44.87L326.60 45.40L327.10 45.94L327.60 46.47L328.10 47.00L328.60 47.53L329.10 48.06L329.60 48.59L330.10 49.12L330.60 49.65L331.10 50.17L331.60 50.69L332.10 51.21L332.60 51.73L333.10 52.25L333.60 52.76L334.10 53.28L334.60 53.79L335.10 54.30L335.60 54.80L336.10 55.31L336.60 55.81L337.10 56.31L337.60 56.81L338.10 57.31L338.60 57.80L339.10 58.29L339.60 58.78L340.10 59.27L340.60 59.75L341.10 60.24L341.60 60.72L342.10 61.20L342.60 61.67L343.10 62.14L343.60 62.62L344.10 63.08L344.60 63.55L345.10 64.01L345.60 64.48L346.10 64.94L346.60 65.39L347.10 65.85L347.60 66.30L348.10 66.75L348.60 67.20L349.10 67.65L349.60 68.09L350.10 68.53L350.60 68.97L351.10 69.41L351.60 69.84L352.10 70.28L352.60 70.71L353.10 71.14L353.60 71.57L354.10 71.99L354.60 72.42L355.10 72.84L355.60 73.26L356.10 73.68L356.60 74.09L357.10 74.51L357.60 74.92L358.10 75.33L358.60 75.74L359.10 76.15L359.60 76.56L360.10 76.96L360.60 77.37L361.10 77.77L361.60 78.17L362.10 78.57L362.60 78.97L363.10 79.37L363.60 79.76L364.10 80.16L364.60 80.55L365.10 80.94L365.60 81.33L366.10 81.72L366.60 82.11L367.10 82.49L367.60 82.88L368.10 83.26L368.60 83.64L369.10 84.02L369.60 84.40L370.10 84.78L370.60 85.15L371.10 85.53L371.60 85.90L372.10 86.27L372.60 86.65L373.10 87.01L373.60 87.38L374.10 87.75L374.60 88.11L375.10 88.48L375.60 88.84L376.10 89.20L376.60 89.56L377.10 89.92L377.60 90.28L378.10 90.63L378.60 90.99L379.10 91.34L379.60 91.69L380.10 92.04L380.60 92.39L381.10 92.74L381.60 93.09L382.10 93.43L382.60 93.78L383.10 94.12L383.60 94.46L384.10 94.80L384.60 95.14L385.10 95.48L385.60 95.81L386.10 96.15L386.60 96.48L387.10 96.82L387.60 97.15L388.10 97.48L388.60 97.81L389.10 98.14L389.60 98.46L390.10 98.79L390.60 99.12L391.10 99.44L391.60 99.76L392.10 100.08L392.60 100.40L393.10 100.72L393.60 101.04L394.10 101.36L394.60 101.68L395.10 101.99L395.60 102.30L396.10 102.62L396.60 102.93L397.10 103.24L397.60 103.55L398.10 103.86L398.60 104.17L399.10 104.48L399.60 104.78L400.10 105.09L400.60 105.39L401.10 105.69L401.60 106.00L402.10 106.30L402.60 106.60L403.10 106.90L403.60 107.20L404.10 107.50L404.60 107.79L405.10 108.09L405.60 108.38L406.10 108.68L406.60 108.97L407.10 109.27L407.60 109.56L408.10 109.85L408.60 110.14L409.10 110.43L409.60 110.72L410.10 111.01L410.60 111.30L411.10 111.58L411.60 111.87L412.10 112.16L412.60 112.44L413.10 112.72L413.60 113.01L414.10 113.29L414.60 113.57L415.10 113.86L415.60 114.14L415.70 114.19" fill="none" stroke="#00ff00" stroke-width="2.35" stroke-dasharray="18 15.8" stroke-dashoffset="28.62" stroke-linejoin="round" />
<path d="M100.70 351.51L100.80 349.65L100.90 347.85L101.00 346.09L101.10 344.39L101.20 342.74L101.30 341.12L101.40 339.56L101.50 338.03L101.60 336.54L101.70 335.08L101.80 333.66L101.90 332.27L102.00 330.91L102.10 329.58L102.20 328.28L102.30 327.01L102.40 325.76L102.50 324.54L102.60 323.35L102.70 322.17L102.80 321.02L102.90 319.89L103.00 318.78L103.10 317.69L103.20 316.61L103.30 315.56L103.40 314.52L103.50 313.51L103.60 312.50L103.70 311.52L103.80 310.55L103.90 309.59L104.00 308.65L104.10 307.72L104.20 306.81L104.30 305.91L104.40 305.02L104.50 304.15L104.60 303.28L104.70 302.43L104.80 301.59L104.90 300.76L105.00 299.95L105.10 299.14L105.20 298.34L105.30 297.55L105.40 296.78L105.50 296.01L105.60 295.25L105.70 294.50L105.80 293.76L105.90 293.03L106.00 292.31L106.10 291.59L106.20 290.88L106.30 290.18L106.40 289.49L106.50 288.81L106.60 288.13L106.70 287.46L106.80 286.80L106.90 286.14L107.00 285.49L107.10 284.85L107.20 284.21L107.30 283.58L107.40 282.96L107.50 282.34L107.60 281.73L107.70 281.12L107.80 280.52L107.90 279.93L108.00 279.34L108.10 278.75L108.20 278.17L108.30 277.60L108.40 277.03L108.50 276.47L108.60 275.91L108.70 275.36L108.80 274.81L108.90 274.26L109.00 273.72L109.10 273.19L109.20 272.66L109.30 272.13L109.40 271.61L109.50 271.09L109.60 270.57L109.70 270.06L109.80 269.56L109.90 269.06L110.00 268.56L110.10 268.06L110.20 267.57L110.30 267.09L110.40 266.60L110.50 266.12L110.60 265.65L110.70 265.17L110.80 264.70L110.90 264.24L111.00 263.77L111.10 263.31L111.20 262.86L111.30 262.41L111.40 261.96L111.50 261.51L111.60 261.06L111.70 260.62L111.80 260.19L111.90 259.75L112.00 259.32L112.10 258.89L112.20 258.46L112.30 258.04L112.40 257.62L112.50 257.20L112.60 256.78L112.70 256.37L112.80 255.96L112.90 255.55L113.00 255.15L113.10 254.74L113.20 254.34L113.30 253.94L113.40 253.55L113.50 253.15L113.60 252.76L113.70 252.37L113.80 251.99L113.90 251.60L114.00 251.22L114.10 250.84L114.20 250.46L114.30 250.09L114.40 249.72L114.50 249.34L114.60 248.98L114.70 248.61L114.80 248.24L114.90 247.88L115.00 247.52L115.10 247.16L115.20 246.80L115.30 246.45L115.40 246.09L115.50 245.74L115.60 245.39L115.70 245.04L115.80 244.70L115.90 244.35L116.00 244.01L116.10 243.67L116.20 243.33L116.30 242.99L116.40 242.66L116.50 242.32L116.60 241.99L116.70 241.66L116.80 241.33L116.90 241.01L117.00 240.68L117.10 240.36L117.20 240.03L117.30 239.71L117.40 239.39L117.50 239.07L117.60 238.76L117.70 238.44L117.80 238.13L117.90 237.82L118.00 237.51L118.10 237.20L118.20 236.89L118.30 236.58L118.40 236.28L118.50 235.98L118.60 235.67L118.70 235.37L118.80 235.07L118.90 234.78L119.00 234.48L119.10 234.18L119.20 233.89L119.30 233.60L119.40 233.30L119.50 233.01L119.60 232.73L119.70 232.44L119.80 232.15L119.90 231.87L120.00 231.58L120.10 231.30L120.20 231.02L120.30 230.74L120.40 230.46L120.50 230.18L120.60 229.90L120.70 229.63L120.80 229.35L120.90 229.08L121.00 228.80L121.10 228.53L121.20 228.26L121.30 227.99L121.40 227.73L121.50 227.46L121.60 227.19L121.70 226.93L121.80 226.66L121.90 226.40L122.00 226.14L122.10 225.88L122.20 225.62L122.30 225.36L122.40 225.10L122.50 224.84L122.60 224.59L122.70 224.33L122.80 224.08L122.90 223.83L123.00 223.57L123.10 223.32L123.20 223.07L123.30 222.82L123.40 222.57L123.50 222.33L123.60 222.08L123.70 221.84L123.80 221.59L123.90 221.35L124.00 221.10L124.10 220.86L124.20 220.62L124.30 220.38L124.40 220.14L124.50 219.90L124.60 219.66L124.70 219.43L124.80 219.19L124.90 218.96L125.00 218.72L125.50 217.56L126.00 216.42L126.50 215.30L127.00 214.20L127.50 213.11L128.00 212.04L128.50 210.99L129.00 209.96L129.50 208.94L130.00 207.93L130.50 206.95L131.00 205.97L131.50 205.01L132.00 204.06L132.50 203.13L133.00 202.21L133.50 201.30L134.00 200.40L134.50 199.52L135.00 198.65L135.50 197.79L136.00 196.94L136.50 196.10L137.00 195.27L137.50 194.45L138.00 193.64L138.50 192.84L139.00 192.05L139.50 191.27L140.00 190.50L140.50 189.74L141.00 188.98L141.50 188.24L142.00 187.50L142.50 186.77L143.00 186.05L143.50 185.34L144.00 184.63L144.50 183.93L145.00 183.24L145.50 182.56L146.00 181.88L146.50 181.21L147.00 180.55L147.50 179.89L148.00 179.24L148.50 178.60L149.00 177.96L149.50 177.33L150.00 176.70L150.50 176.08L151.00 175.47L151.50 174.86L152.00 174.26L152.50 173.66L153.00 173.07L153.50 172.48L154.00 171.90L154.50 171.32L155.00 170.75L155.50 170.18L156.00 169.62L156.50 169.06L157.00 168.51L157.50 167.96L158.00 167.42L158.50 166.88L159.00 166.34L159.50 165.81L160.00 165.29L160.50 164.76L161.00 164.25L161.50 163.73L162.00 163.22L162.50 162.71L163.00 162.21L163.50 161.71L164.00 161.22L164.50 160.72L165.00 160.24L165.50 159.75L166.00 159.27L166.50 158.79L167.00 158.31L167.50 157.84L168.00 157.37L168.50 156.91L169.00 156.45L169.50 155.99L170.00 155.53L170.50 155.08L171.00 154.63L171.50 154.18L172.00 153.73L172.50 153.29L173.00 152.85L173.50 152.41L174.00 151.98L174.50 151.55L175.00 151.12L175.50 150.69L176.00 150.27L176.50 149.85L177.00 149.43L177.50 149.01L178.00 148.59L178.50 148.18L179.00 147.77L179.50 147.36L180.00 146.96L180.50 146.55L181.00 146.15L181.50 145.75L182.00 145.35L182.50 144.96L183.00 144.56L183.50 144.17L184.00 143.78L184.50 143.39L185.00 143.01L185.50 142.62L186.00 142.24L186.50 141.86L187.00 141.48L187.50 141.10L188.00 140.73L188.50 140.35L189.00 139.98L189.50 139.61L190.00 139.24L190.50 138.87L191.00 138.51L191.50 138.14L192.00 137.78L192.50 137.42L193.00 137.06L193.50 136.70L194.00 136.34L194.50 135.98L195.00 135.63L195.50 135.27L196.00 134.92L196.50 134.57L197.00 134.22L197.50 133.87L198.00 133.52L198.50 133.18L199.00 132.83L199.50 132.49L200.00 132.14L200.50 131.80L201.00 131.46L201.50 131.12L202.00 130.78L202.50 130.44L203.00 130.11L203.50 129.77L204.00 129.43L204.50 129.10L205.00 128.77L205.50 128.43L206.00 128.10L206.50 127.77L207.00 127.44L207.50 127.11L208.00 126.78L208.50 126.46L209.00 126.13L209.50 125.80L210.00 125.48L210.50 125.16L211.00 124.83L211.50 124.51L212.00 124.19L212.50 123.86L213.00 123.54L213.50 123.22L214.00 122.90L214.50 122.58L215.00 122.27L215.50 121.95L216.00 121.63L216.50 121.31L217.00 121.00L217.50 120.68L218.00 120.37L218.50 120.05L219.00 119.74L219.50 119.43L220.00 119.11L220.50 118.80L221.00 118.49L221.50 118.18L222.00 117.86L222.50 117.55L223.00 117.24L223.50 116.93L224.00 116.62L224.50 116.31L225.00 116.00L225.50 115.70L226.00 115.39L226.50 115.08L227.00 114.77L227.50 114.46L228.00 114.16L228.50 113.85L229.00 113.54L229.50 113.24L230.00 112.93L230.50 112.63L231.00 112.32L231.50 112.02L232.00 111.71L232.50 111.41L233.00 111.10L233.50 110.80L234.00 110.49L234.50 110.19L235.00 109.89L235.50 109.58L236.00 109.28L236.50 108.98L237.00 108.67L237.50 108.37L238.00 108.07L238.50 107.76L239.00 107.46L239.50 107.16L240.00 106.86L240.50 106.56L241.00 106.26L241.50 105.97L242.00 105.68L242.50 105.40L243.00 105.12L243.50 104.84L244.00 104.56L244.50 104.29L245.00 104.02L245.50 103.75L246.00 103.49L246.50 103.22L247.00 102.96L247.50 102.69L248.00 102.43L248.50 102.17L249.00 101.90L249.50 101.64L250.00 101.38L250.50 101.12L251.00 100.85L251.50 100.58L252.00 100.32L252.50 100.05L253.00 99.78L253.50 99.52L254.00 99.25L254.50 98.99L255.00 98.72L255.50 98.46L256.00 98.19L256.50 97.93L257.00 97.67L257.50 97.41L258.00 97.15L258.50 96.88L259.00 96.62L259.50 96.36L260.00 96.10L260.50 95.84L261.00 95.57L261.50 95.31L262.00 95.05L262.50 94.79L263.00 94.52L263.50 94.26L264.00 93.99L264.50 93.73L265.00 93.46L265.50 93.20L266.00 92.93L266.50 92.67L267.00 92.41L267.50 92.15L268.00 91.89L268.50 91.63L269.00 91.38L269.50 91.12L270.00 90.86L270.50 90.60L271.00 90.34L271.50 90.08L272.00 89.82L272.50 89.56L273.00 89.29L273.50 89.02L274.00 88.75L274.50 88.48L275.00 88.20L275.50 87.92L276.00 87.63L276.50 87.34L277.00 87.05L277.50 86.75L278.00 86.45L278.50 86.14L279.00 85.83L279.50 85.51L280.00 85.19L280.50 84.87L281.00 84.54L281.50 84.21L282.00 83.88L282.50 83.54L283.00 83.20L283.50 82.86L284.00 82.51L284.50 82.17L285.00 81.82L285.50 81.48L286.00 81.13L286.50 80.78L287.00 80.43L287.50 80.08L288.00 79.73L288.50 79.38L289.00 79.03L289.50 78.68L290.00 78.34L290.50 77.99L291.00 77.65L291.50 77.31L292.00 76.97L292.50 76.63L293.00 76.29L293.50 75.95L294.00 75.62L294.50 75.28L295.00 74.94L295.50 74.60L296.00 74.26L296.50 73.92L297.00 73.59L297.50 73.25L298.00 72.91L298.50 72.57L299.00 72.24L299.50 71.90L300.00 71.57L300.50 71.23L301.00 70.90L301.50 70.56L302.00 70.23L302.50 69.90L303.00 69.57L303.50 69.24L304.00 68.90L304.50 68.57L305.00 68.24L305.50 67.91L306.00 67.57L306.50 67.24L307.00 66.91L307.50 66.58L308.00 66.25L308.50 65.92L309.00 65.59L309.50 65.26L310.00 64.93L310.50 64.60L311.00 64.27L311.50 63.95L312.00 63.62L312.50 63.29L313.00 62.97L313.50 62.64L314.00 62.32L314.50 62.00L315.00 61.68L315.50 61.36L316.00 61.04L316.50 60.72L317.00 60.40L317.50 60.08L318.00 59.77L318.50 59.45L319.00 59.14L319.50 58.83L320.00 58.52L320.50 58.21L321.00 57.90L321.50 57.59L322.00 57.28L322.50 56.97L323.00 56.67L323.50 56.36L324.00 56.05L324.50 55.75L325.00 55.44L325.50 55.14L326.00 54.83L326.50 54.53L327.00 54.23L327.50 53.93L328.00 53.63L328.50 53.33L329.00 53.03L329.50 52.73L330.00 52.43L330.50 52.13L331.00 51.84L331.50 51.54L332.00 51.25L332.50 50.95L333.00 50.66L333.50 50.37L334.00 50.08L334.50 49.79L335.00 49.50L335.50 49.21L336.00 48.92L336.50 48.64L337.00 48.36L337.50 48.07L338.00 47.79L338.50 47.51L339.00 47.23L339.50 46.95L340.00 46.68L340.50 46.40L341.00 46.13L341.50 45.85L342.00 45.58L342.50 45.31L343.00 45.03L343.50 44.76L344.00 44.49L344.50 44.22L345.00 43.96L345.50 43.69L346.00 43.42L346.50 43.16L347.00 42.89L347.50 42.63L348.00 42.37L348.50 42.10L349.00 41.84L349.50 41.58L350.00 41.32L350.50 41.07L351.00 40.81L351.50 40.55L352.00 40.30L352.50 40.04L353.00 39.79L353.50 39.54L354.00 39.29L354.50 39.04L355.00 38.79L355.50 38.54L356.00 38.29L356.50 38.05L357.00 37.80L357.50 37.56L358.00 37.31L358.50 37.07L359.00 36.83L359.50 36.59L360.00 36.35L360.50 36.12L361.00 35.88L361.50 35.65L362.00 35.41L362.50 35.18L363.00 34.95L363.50 34.72L364.00 34.49L364.50 34.26L365.00 34.04L365.50 33.81L366.00 33.59L366.50 33.37L367.00 33.14L367.50 32.92L368.00 32.70L368.50 32.49L369.00 32.27L369.50 32.05L370.00 31.84L370.50 31.63L371.00 31.42L371.50 31.21L372.00 31.00L372.50 30.79L373.00 30.58L373.50 30.38L374.00 30.17L374.50 29.97L375.00 29.77L375.50 29.57L376.00 29.37L376.50 29.17L377.00 28.98L377.50 28.78L378.00 28.59L378.50 28.40L379.00 28.21L379.50 28.02L380.00 27.83L380.50 27.64L381.00 27.46L381.50 27.27L382.00 27.09L382.50 26.91L383.00 26.73L383.50 26.55L384.00 26.37L384.50 26.19L385.00 26.02L385.50 25.85L386.00 25.67L386.50 25.50L387.00 25.33L387.50 25.16L388.00 25.00L388.50 24.83L389.00 24.67L389.50 24.50L390.00 24.34L390.50 24.18L391.00 24.02L391.50 23.87L392.00 23.71L392.50 23.55L393.00 23.40L393.50 23.25L394.00 23.10L394.50 22.95L395.00 22.80L395.50 22.65L396.00 22.51L396.50 22.36L397.00 22.22L397.50 22.07L398.00 21.93L398.50 21.79L399.00 21.66L399.50 21.52L400.00 21.38L400.50 21.25L401.00 21.11L401.50 20.98L402.00 20.85L402.50 20.72L403.00 20.59L403.50 20.47L404.00 20.34L404.50 20.22L405.00 20.09L405.50 19.97L406.00 19.85L406.50 19.73L407.00 19.61L407.50 19.49L408.00 19.37L408.50 19.26L409.00 19.14L409.50 19.03L410.00 18.92L410.50 18.81L411.00 18.70L411.50 18.59L412.00 18.48L412.50 18.38L413.00 18.27L413.50 18.17L414.00 18.06L414.50 17.96L415.00 17.86L415.50 17.76L415.70 17.72" fill="none" stroke="#ff0000" stroke-width="2.35" stroke-linejoin="round" />
<path d="M97.60 8.20L98.10 8.20L98.60 8.20L99.10 8.20L99.60 8.20L100.10 8.20L100.60 8.20L101.10 8.20L101.60 8.20L102.10 8.20L102.60 8.20L103.10 8.20L103.60 8.20L104.10 8.20L104.60 8.20L105.10 8.20L105.60 8.20L106.10 8.20L106.60 8.20L107.10 8.20L107.60 8.20L108.10 8.20L108.60 8.20L109.10 8.20L109.60 8.20L110.10 8.20L110.60 8.20L111.10 8.20L111.60 8.20L112.10 8.20L112.60 8.21L113.10 8.21L113.60 8.21L114.10 8.21L114.60 8.21L115.10 8.21L115.60 8.21L116.10 8.21L116.60 8.21L117.10 8.21L117.60 8.21L118.10 8.21L118.60 8.21L119.10 8.21L119.60 8.21L120.10 8.21L120.60 8.21L121.10 8.21L121.60 8.21L122.10 8.22L122.60 8.22L123.10 8.22L123.60 8.22L124.10 8.22L124.60 8.22L125.10 8.22L125.60 8.22L126.10 8.22L126.60 8.22L127.10 8.22L127.60 8.22L128.10 8.22L128.60 8.23L129.10 8.23L129.60 8.23L130.10 8.23L130.60 8.23L131.10 8.23L131.60 8.23L132.10 8.23L132.60 8.23L133.10 8.23L133.60 8.24L134.10 8.24L134.60 8.24L135.10 8.24L135.60 8.24L136.10 8.24L136.60 8.24L137.10 8.24L137.60 8.25L138.10 8.25L138.60 8.25L139.10 8.25L139.60 8.25L140.10 8.25L140.60 8.25L141.10 8.25L141.60 8.26L142.10 8.26L142.60 8.26L143.10 8.26L143.60 8.26L144.10 8.26L144.60 8.27L145.10 8.27L145.60 8.27L146.10 8.27L146.60 8.27L147.10 8.27L147.60 8.28L148.10 8.28L148.60 8.28L149.10 8.28L149.60 8.28L150.10 8.28L150.60 8.29L151.10 8.29L151.60 8.29L152.10 8.29L152.60 8.29L153.10 8.30L153.60 8.30L154.10 8.30L154.60 8.30L155.10 8.30L155.60 8.31L156.10 8.31L156.60 8.31L157.10 8.31L157.60 8.31L158.10 8.32L158.60 8.32L159.10 8.32L159.60 8.32L160.10 8.32L160.60 8.33L161.10 8.33L161.60 8.33L162.10 8.33L162.60 8.34L163.10 8.34L163.60 8.34L164.10 8.34L164.60 8.35L165.10 8.35L165.60 8.35L166.10 8.35L166.60 8.36L167.10 8.36L167.60 8.36L168.10 8.36L168.60 8.37L169.10 8.37L169.60 8.37L170.10 8.38L170.60 8.38L171.10 8.38L171.60 8.38L172.10 8.39L172.60 8.39L173.10 8.39L173.60 8.40L174.10 8.40L174.60 8.40L175.10 8.40L175.60 8.41L176.10 8.41L176.60 8.41L177.10 8.42L177.60 8.42L178.10 8.42L178.60 8.43L179.10 8.43L179.60 8.43L180.10 8.44L180.60 8.44L181.10 8.44L181.60 8.45L182.10 8.45L182.60 8.45L183.10 8.46L183.60 8.46L184.10 8.46L184.60 8.47L185.10 8.47L185.60 8.47L186.10 8.48L186.60 8.48L187.10 8.49L187.60 8.49L188.10 8.49L188.60 8.50L189.10 8.50L189.60 8.50L190.10 8.51L190.60 8.51L191.10 8.52L191.60 8.52L192.10 8.53L192.60 8.53L193.10 8.53L193.60 8.54L194.10 8.54L194.60 8.55L195.10 8.55L195.60 8.55L196.10 8.56L196.60 8.56L197.10 8.57L197.60 8.57L198.10 8.58L198.60 8.58L199.10 8.59L199.60 8.59L200.10 8.60L200.60 8.60L201.10 8.61L201.60 8.61L202.10 8.61L202.60 8.62L203.10 8.62L203.60 8.63L204.10 8.63L204.60 8.64L205.10 8.65L205.60 8.65L206.10 8.66L206.60 8.66L207.10 8.67L207.60 8.67L208.10 8.68L208.60 8.68L209.10 8.69L209.60 8.69L210.10 8.70L210.60 8.71L211.10 8.71L211.60 8.72L212.10 8.72L212.60 8.73L213.10 8.73L213.60 8.74L214.10 8.75L214.60 8.75L215.10 8.76L215.60 8.77L216.10 8.77L216.60 8.78L217.10 8.78L217.60 8.79L218.10 8.80L218.60 8.80L219.10 8.81L219.60 8.82L220.10 8.82L220.60 8.83L221.10 8.84L221.60 8.84L222.10 8.85L222.60 8.86L223.10 8.87L223.60 8.87L224.10 8.88L224.60 8.89L225.10 8.90L225.60 8.90L226.10 8.91L226.60 8.92L227.10 8.93L227.60 8.93L228.10 8.94L228.60 8.95L229.10 8.96L229.60 8.97L230.10 8.98L230.60 8.98L231.10 8.99L231.60 9.00L232.10 9.01L232.60 9.02L233.10 9.03L233.60 9.04L234.10 9.04L234.60 9.05L235.10 9.06L235.60 9.07L236.10 9.08L236.60 9.09L237.10 9.10L237.60 9.11L238.10 9.12L238.60 9.13L239.10 9.14L239.60 9.15L240.10 9.16L240.60 9.17L241.10 9.18L241.60 9.19L242.10 9.20L242.60 9.21L243.10 9.22L243.60 9.23L244.10 9.24L244.60 9.25L245.10 9.26L245.60 9.27L246.10 9.28L246.60 9.29L247.10 9.30L247.60 9.31L248.10 9.32L248.60 9.33L249.10 9.34L249.60 9.35L250.10 9.36L250.60 9.38L251.10 9.39L251.60 9.40L252.10 9.41L252.60 9.42L253.10 9.43L253.60 9.44L254.10 9.46L254.60 9.47L255.10 9.48L255.60 9.49L256.10 9.50L256.60 9.52L257.10 9.53L257.60 9.54L258.10 9.55L258.60 9.57L259.10 9.58L259.60 9.59L260.10 9.60L260.60 9.62L261.10 9.63L261.60 9.64L262.10 9.66L262.60 9.67L263.10 9.69L263.60 9.70L264.10 9.71L264.60 9.73L265.10 9.74L265.60 9.76L266.10 9.77L266.60 9.79L267.10 9.80L267.60 9.82L268.10 9.83L268.60 9.85L269.10 9.86L269.60 9.88L270.10 9.89L270.60 9.91L271.10 9.92L271.60 9.94L272.10 9.96L272.60 9.97L273.10 9.99L273.60 10.01L274.10 10.03L274.60 10.04L275.10 10.06L275.60 10.08L276.10 10.10L276.60 10.12L277.10 10.14L277.60 10.16L278.10 10.18L278.60 10.20L279.10 10.23L279.60 10.25L280.10 10.27L280.60 10.30L281.10 10.32L281.60 10.35L282.10 10.38L282.60 10.40L283.10 10.43L283.60 10.46L284.10 10.48L284.60 10.51L285.10 10.54L285.60 10.57L286.10 10.60L286.60 10.63L287.10 10.66L287.60 10.70L288.10 10.73L288.60 10.76L289.10 10.79L289.60 10.82L290.10 10.86L290.60 10.89L291.10 10.93L291.60 10.96L292.10 10.99L292.60 11.03L293.10 11.06L293.60 11.10L294.10 11.13L294.60 11.17L295.10 11.21L295.60 11.25L296.10 11.28L296.60 11.32L297.10 11.36L297.60 11.40L298.10 11.44L298.60 11.48L299.10 11.52L299.60 11.56L300.10 11.60L300.60 11.65L301.10 11.69L301.60 11.73L302.10 11.78L302.60 11.82L303.10 11.86L303.60 11.91L304.10 11.96L304.60 12.00L305.10 12.05L305.60 12.10L306.10 12.15L306.60 12.19L307.10 12.24L307.60 12.29L308.10 12.35L308.60 12.40L309.10 12.45L309.60 12.50L310.10 12.55L310.60 12.61L311.10 12.66L311.60 12.72L312.10 12.77L312.60 12.83L313.10 12.89L313.60 12.94L314.10 13.00L314.60 13.06L315.10 13.12L315.60 13.18L316.10 13.24L316.60 13.30L317.10 13.37L317.60 13.43L318.10 13.49L318.60 13.55L319.10 13.62L319.60 13.68L320.10 13.75L320.60 13.81L321.10 13.88L321.60 13.95L322.10 14.02L322.60 14.09L323.10 14.16L323.60 14.23L324.10 14.30L324.60 14.37L325.10 14.45L325.60 14.52L326.10 14.59L326.60 14.67L327.10 14.75L327.60 14.82L328.10 14.90L328.60 14.98L329.10 15.06L329.60 15.14L330.10 15.22L330.60 15.31L331.10 15.39L331.60 15.47L332.10 15.56L332.60 15.64L333.10 15.73L333.60 15.82L334.10 15.91L334.60 16.00L335.10 16.09L335.60 16.18L336.10 16.27L336.60 16.36L337.10 16.46L337.60 16.55L338.10 16.64L338.60 16.74L339.10 16.84L339.60 16.94L340.10 17.03L340.60 17.13L341.10 17.23L341.60 17.33L342.10 17.44L342.60 17.54L343.10 17.65L343.60 17.75L344.10 17.86L344.60 17.97L345.10 18.07L345.60 18.18L346.10 18.29L346.60 18.41L347.10 18.52L347.60 18.63L348.10 18.75L348.60 18.87L349.10 18.98L349.60 19.10L350.10 19.22L350.60 19.34L351.10 19.46L351.60 19.59L352.10 19.71L352.60 19.84L353.10 19.96L353.60 20.09L354.10 20.22L354.60 20.35L355.10 20.48L355.60 20.61L356.10 20.75L356.60 20.88L357.10 21.02L357.60 21.16L358.10 21.29L358.60 21.43L359.10 21.57L359.60 21.72L360.10 21.86L360.60 22.00L361.10 22.15L361.60 22.30L362.10 22.45L362.60 22.59L363.10 22.75L363.60 22.90L364.10 23.05L364.60 23.20L365.10 23.36L365.60 23.52L366.10 23.67L366.60 23.83L367.10 23.99L367.60 24.15L368.10 24.32L368.60 24.48L369.10 24.65L369.60 24.81L370.10 24.98L370.60 25.15L371.10 25.32L371.60 25.49L372.10 25.66L372.60 25.84L373.10 26.01L373.60 26.19L374.10 26.37L374.60 26.55L375.10 26.73L375.60 26.91L376.10 27.09L376.60 27.27L377.10 27.46L377.60 27.64L378.10 27.83L378.60 28.02L379.10 28.21L379.60 28.40L380.10 28.59L380.60 28.79L381.10 28.98L381.60 29.17L382.10 29.37L382.60 29.57L383.10 29.77L383.60 29.97L384.10 30.17L384.60 30.37L385.10 30.57L385.60 30.78L386.10 30.99L386.60 31.19L387.10 31.40L387.60 31.61L388.10 31.82L388.60 32.03L389.10 32.24L389.60 32.46L390.10 32.67L390.60 32.88L391.10 33.10L391.60 33.32L392.10 33.54L392.60 33.76L393.10 33.98L393.60 34.20L394.10 34.42L394.60 34.64L395.10 34.87L395.60 35.09L396.10 35.32L396.60 35.55L397.10 35.77L397.60 36.00L398.10 36.23L398.60 36.46L399.10 36.69L399.60 36.93L400.10 37.16L400.60 37.39L401.10 37.63L401.60 37.86L402.10 38.10L402.60 38.34L403.10 38.58L403.60 38.81L404.10 39.05L404.60 39.29L405.10 39.53L405.60 39.78L406.10 40.02L406.60 40.26L407.10 40.51L407.60 40.75L408.10 40.99L408.60 41.24L409.10 41.49L409.60 41.73L410.10 41.98L410.60 42.23L411.10 42.48L411.60 42.73L412.10 42.97L412.60 43.22L413.10 43.48L413.60 43.73L414.10 43.98L414.60 44.23L415.10 44.48L415.60 44.73L415.70 44.79" fill="none" stroke="#ff0000" stroke-width="2.35" stroke-linejoin="round" />
<path d="M100.70 351.51L100.80 349.65L100.90 347.85L101.00 346.09L101.10 344.39L101.20 342.74L101.30 341.12L101.40 339.56L101.50 338.03L101.60 336.54L101.70 335.08L101.80 333.66L101.90 332.27L102.00 330.91L102.10 329.58L102.20 328.28L102.30 327.01L102.40 325.76L102.50 324.54L102.60 323.35L102.70 322.17L102.80 321.02L102.90 319.89L103.00 318.78L103.10 317.69L103.20 316.61L103.30 315.56L103.40 314.52L103.50 313.51L103.60 312.50L103.70 311.52L103.80 310.55L103.90 309.59L104.00 308.65L104.10 307.72L104.20 306.81L104.30 305.91L104.40 305.02L104.50 304.15L104.60 303.28L104.70 302.43L104.80 301.59L104.90 300.76L105.00 299.95L105.10 299.14L105.20 298.34L105.30 297.55L105.40 296.78L105.50 296.01L105.60 295.25L105.70 294.50L105.80 293.76L105.90 293.03L106.00 292.31L106.10 291.59L106.20 290.88L106.30 290.18L106.40 289.49L106.50 288.81L106.60 288.13L106.70 287.46L106.80 286.80L106.90 286.14L107.00 285.49L107.10 284.85L107.20 284.21L107.30 283.58L107.40 282.96L107.50 282.34L107.60 281.73L107.70 281.12L107.80 280.52L107.90 279.93L108.00 279.34L108.10 278.75L108.20 278.17L108.30 277.60L108.40 277.03L108.50 276.47L108.60 275.91L108.70 275.36L108.80 274.81L108.90 274.26L109.00 273.72L109.10 273.19L109.20 272.66L109.30 272.13L109.40 271.61L109.50 271.09L109.60 270.57L109.70 270.06L109.80 269.56L109.90 269.06L110.00 268.56L110.10 268.06L110.20 267.57L110.30 267.09L110.40 266.60L110.50 266.12L110.60 265.65L110.70 265.17L110.80 264.70L110.90 264.24L111.00 263.77L111.10 263.31L111.20 262.86L111.30 262.41L111.40 261.96L111.50 261.51L111.60 261.06L111.70 260.62L111.80 260.19L111.90 259.75L112.00 259.32L112.10 258.89L112.20 258.46L112.30 258.04L112.40 257.62L112.50 257.20L112.60 256.78L112.70 256.37L112.80 255.96L112.90 255.55L113.00 255.15L113.10 254.74L113.20 254.34L113.30 253.94L113.40 253.55L113.50 253.15L113.60 252.76L113.70 252.37L113.80 251.99L113.90 251.60L114.00 251.22L114.10 250.84L114.20 250.46L114.30 250.09L114.40 249.72L114.50 249.34L114.60 248.98L114.70 248.61L114.80 248.24L114.90 247.88L115.00 247.52L115.10 247.16L115.20 246.80L115.30 246.45L115.40 246.09L115.50 245.74L115.60 245.39L115.70 245.04L115.80 244.70L115.90 244.35L116.00 244.01L116.10 243.67L116.20 243.33L116.30 242.99L116.40 242.66L116.50 242.32L116.60 241.99L116.70 241.66L116.80 241.33L116.90 241.01L117.00 240.68L117.10 240.36L117.20 240.03L117.30 239.71L117.40 239.39L117.50 239.07L117.60 238.76L117.70 238.44L117.80 238.13L117.90 237.82L118.00 237.51L118.10 237.20L118.20 236.89L118.30 236.58L118.40 236.28L118.50 235.98L118.60 235.67L118.70 235.37L118.80 235.07L118.90 234.78L119.00 234.48L119.10 234.18L119.20 233.89L119.30 233.60L119.40 233.30L119.50 233.01L119.60 232.73L119.70 232.44L119.80 232.15L119.90 231.87L120.00 231.58L120.10 231.30L120.20 231.02L120.30 230.74L120.40 230.46L120.50 230.18L120.60 229.90L120.70 229.63L120.80 229.35L120.90 229.08L121.00 228.80L121.10 228.53L121.20 228.26L121.30 227.99L121.40 227.73L121.50 227.46L121.60 227.19L121.70 226.93L121.80 226.66L121.90 226.40L122.00 226.14L122.10 225.88L122.20 225.62L122.30 225.36L122.40 225.10L122.50 224.84L122.60 224.59L122.70 224.33L122.80 224.08L122.90 223.83L123.00 223.57L123.10 223.32L123.20 223.07L123.30 222.82L123.40 222.57L123.50 222.33L123.60 222.08L123.70 221.84L123.80 221.59L123.90 221.35L124.00 221.10L124.10 220.86L124.20 220.62L124.30 220.38L124.40 220.14L124.50 219.90L124.60 219.66L124.70 219.43L124.80 219.19L124.90 218.96L125.00 218.72L125.50 217.56L126.00 216.42L126.50 215.30L127.00 214.20L127.50 213.11L128.00 212.04L128.50 210.99L129.00 209.96L129.50 208.94L130.00 207.93L130.50 206.95L131.00 205.97L131.50 205.01L132.00 204.06L132.50 203.13L133.00 202.21L133.50 201.30L134.00 200.40L134.50 199.52L135.00 198.65L135.50 197.79L136.00 196.94L136.50 196.10L137.00 195.27L137.50 194.45L138.00 193.64L138.50 192.84L139.00 192.05L139.50 191.27L140.00 190.50L140.50 189.74L141.00 188.98L141.50 188.24L142.00 187.50L142.50 186.77L143.00 186.05L143.50 185.34L144.00 184.63L144.50 183.92L145.00 183.23L145.50 182.55L146.00 181.87L146.50 181.20L147.00 180.54L147.50 179.88L148.00 179.24L148.50 178.60L149.00 177.97L149.50 177.35L150.00 176.73L150.50 176.12L151.00 175.52L151.50 174.92L152.00 174.31L152.50 173.71L153.00 173.09L153.50 172.47L154.00 171.83L154.50 171.17L155.00 170.50L155.50 169.80L156.00 169.07L156.50 168.32L157.00 167.54L157.50 166.72L158.00 165.86L158.50 164.97L159.00 164.04L159.50 163.07L160.00 162.07L160.50 161.02L161.00 159.94L161.50 158.81L162.00 157.65L162.50 156.44L163.00 155.18L163.50 153.89L164.00 152.55L164.50 151.16L165.00 149.74L165.50 148.26L166.00 146.74L166.50 145.17L167.00 143.55L167.50 141.88L168.00 140.17L168.50 138.41L169.00 136.61L169.50 134.77L170.00 132.90L170.50 130.99L171.00 129.04L171.50 127.06L172.00 125.06L172.50 123.02L173.00 120.97L173.50 118.89L174.00 116.79L174.50 114.67L175.00 112.54L175.50 110.40L176.00 108.24L176.50 106.08L177.00 103.91L177.50 101.74L178.00 99.57L178.50 97.39L179.00 95.21L179.50 93.04L180.00 90.87L180.50 88.70L181.00 86.55L181.50 84.40L182.00 82.27L182.50 80.15L183.00 78.04L183.50 75.95L184.00 73.89L184.50 71.84L185.00 69.82L185.50 67.82L186.00 65.85L186.50 63.91L187.00 62.00L187.50 60.13L188.00 58.29L188.50 56.49L189.00 54.73L189.50 53.00L190.00 51.32L190.50 49.68L191.00 48.09L191.50 46.54L192.00 45.04L192.50 43.58L193.00 42.17L193.50 40.81L194.00 39.50L194.50 38.24L195.00 37.02L195.50 35.85L196.00 34.72L196.50 33.64L197.00 32.60L197.50 31.61L198.00 30.65L198.50 29.73L199.00 28.86L199.50 28.01L200.00 27.21L200.50 26.44L201.00 25.70L201.50 25.00L202.00 24.32L202.50 23.68L203.00 23.07L203.50 22.48L204.00 21.92L204.50 21.38L205.00 20.87L205.50 20.38L206.00 19.92L206.50 19.47L207.00 19.05L207.50 18.64L208.00 18.26L208.50 17.89L209.00 17.54L209.50 17.20L210.00 16.88L210.50 16.57L211.00 16.28L211.50 16.00L212.00 15.73L212.50 15.48L213.00 15.23L213.50 15.00L214.00 14.78L214.50 14.56L215.00 14.36L215.50 14.16L216.00 13.97L216.50 13.79L217.00 13.62L217.50 13.46L218.00 13.30L218.50 13.15L219.00 13.00L219.50 12.86L220.00 12.73L220.50 12.60L221.00 12.47L221.50 12.36L222.00 12.24L222.50 12.13L223.00 12.02L223.50 11.92L224.00 11.82L224.50 11.73L225.00 11.64L225.50 11.55L226.00 11.46L226.50 11.38L227.00 11.30L227.50 11.23L228.00 11.15L228.50 11.08L229.00 11.01L229.50 10.94L230.00 10.88L230.50 10.81L231.00 10.75L231.50 10.69L232.00 10.64L232.50 10.58L233.00 10.52L233.50 10.47L234.00 10.42L234.50 10.37L235.00 10.32L235.50 10.27L236.00 10.23L236.50 10.18L237.00 10.14L237.50 10.10L238.00 10.06L238.50 10.02L239.00 9.98L239.50 9.94L240.00 9.90L240.50 9.87L241.00 9.83L241.50 9.80L242.00 9.76L242.50 9.73L243.00 9.70L243.50 9.67L244.00 9.64L244.50 9.61L245.00 9.58L245.50 9.55L246.00 9.53L246.50 9.50L247.00 9.48L247.50 9.45L248.00 9.43L248.50 9.40L249.00 9.38L249.50 9.36L250.00 9.34L250.50 9.31L251.00 9.29L251.50 9.27L252.00 9.25L252.50 9.23L253.00 9.21L253.50 9.20L254.00 9.18L254.50 9.16L255.00 9.14L255.50 9.13L256.00 9.11L256.50 9.09L257.00 9.08L257.50 9.06L258.00 9.05L258.50 9.03L259.00 9.02L259.50 9.01L260.00 8.99L260.50 8.98L261.00 8.97L261.50 8.95L262.00 8.94L262.50 8.93L263.00 8.92L263.50 8.90L264.00 8.89L264.50 8.88L265.00 8.87L265.50 8.86L266.00 8.85L266.50 8.84L267.00 8.83L267.50 8.82L268.00 8.81L268.50 8.80L269.00 8.79L269.50 8.78L270.00 8.77L270.50 8.77L271.00 8.76L271.50 8.75L272.00 8.74L272.50 8.73L273.00 8.73L273.50 8.72L274.00 8.71L274.50 8.70L275.00 8.70L275.50 8.69L276.00 8.68L276.50 8.68L277.00 8.67L277.50 8.66L278.00 8.66L278.50 8.65L279.00 8.64L279.50 8.64L280.00 8.63L280.50 8.63L281.00 8.62L281.50 8.61L282.00 8.61L282.50 8.60L283.00 8.60L283.50 8.59L284.00 8.59L284.50 8.58L285.00 8.58L285.50 8.57L286.00 8.57L286.50 8.56L287.00 8.56L287.50 8.56L288.00 8.55L288.50 8.55L289.00 8.54L289.50 8.54L290.00 8.53L290.50 8.53L291.00 8.53L291.50 8.52L292.00 8.52L292.50 8.51L293.00 8.51L293.50 8.51L294.00 8.50L294.50 8.50L295.00 8.50L295.50 8.49L296.00 8.49L296.50 8.49L297.00 8.48L297.50 8.48L298.00 8.48L298.50 8.47L299.00 8.47L299.50 8.47L300.00 8.46L300.50 8.46L301.00 8.46L301.50 8.46L302.00 8.45L302.50 8.45L303.00 8.45L303.50 8.44L304.00 8.44L304.50 8.44L305.00 8.44L305.50 8.43L306.00 8.43L306.50 8.43L307.00 8.43L307.50 8.42L308.00 8.42L308.50 8.42L309.00 8.42L309.50 8.42L310.00 8.41L310.50 8.41L311.00 8.41L311.50 8.41L312.00 8.40L312.50 8.40L313.00 8.40L313.50 8.40L314.00 8.40L314.50 8.39L315.00 8.39L315.50 8.39L316.00 8.39L316.50 8.39L317.00 8.39L317.50 8.38L318.00 8.38L318.50 8.38L319.00 8.38L319.50 8.38L320.00 8.37L320.50 8.37L321.00 8.37L321.50 8.37L322.00 8.37L322.50 8.37L323.00 8.37L323.50 8.36L324.00 8.36L324.50 8.36L325.00 8.36L325.50 8.36L326.00 8.36L326.50 8.36L327.00 8.35L327.50 8.35L328.00 8.35L328.50 8.35L329.00 8.35L329.50 8.35L330.00 8.35L330.50 8.34L331.00 8.34L331.50 8.34L332.00 8.34L332.50 8.34L333.00 8.34L333.50 8.34L334.00 8.34L334.50 8.34L335.00 8.33L335.50 8.33L336.00 8.33L336.50 8.33L337.00 8.33L337.50 8.33L338.00 8.33L338.50 8.33L339.00 8.33L339.50 8.33L340.00 8.32L340.50 8.32L341.00 8.32L341.50 8.32L342.00 8.32L342.50 8.32L343.00 8.32L343.50 8.32L344.00 8.32L344.50 8.32L345.00 8.32L345.50 8.31L346.00 8.31L346.50 8.31L347.00 8.31L347.50 8.31L348.00 8.31L348.50 8.31L349.00 8.31L349.50 8.31L350.00 8.31L350.50 8.31L351.00 8.31L351.50 8.31L352.00 8.30L352.50 8.30L353.00 8.30L353.50 8.30L354.00 8.30L354.50 8.30L355.00 8.30L355.50 8.30L356.00 8.30L356.50 8.30L357.00 8.30L357.50 8.30L358.00 8.30L358.50 8.30L359.00 8.30L359.50 8.29L360.00 8.29L360.50 8.29L361.00 8.29L361.50 8.29L362.00 8.29L362.50 8.29L363.00 8.29L363.50 8.29L364.00 8.29L364.50 8.29L365.00 8.29L365.50 8.29L366.00 8.29L366.50 8.29L367.00 8.29L367.50 8.29L368.00 8.29L368.50 8.29L369.00 8.28L369.50 8.28L370.00 8.28L370.50 8.28L371.00 8.28L371.50 8.28L372.00 8.28L372.50 8.28L373.00 8.28L373.50 8.28L374.00 8.28L374.50 8.28L375.00 8.28L375.50 8.28L376.00 8.28L376.50 8.28L377.00 8.28L377.50 8.28L378.00 8.28L378.50 8.28L379.00 8.28L379.50 8.28L380.00 8.28L380.50 8.27L381.00 8.27L381.50 8.27L382.00 8.27L382.50 8.27L383.00 8.27L383.50 8.27L384.00 8.27L384.50 8.27L385.00 8.27L385.50 8.27L386.00 8.27L386.50 8.27L387.00 8.27L387.50 8.27L388.00 8.27L388.50 8.27L389.00 8.27L389.50 8.27L390.00 8.27L390.50 8.27L391.00 8.27L391.50 8.27L392.00 8.27L392.50 8.27L393.00 8.27L393.50 8.27L394.00 8.27L394.50 8.27L395.00 8.27L395.50 8.27L396.00 8.27L396.50 8.27L397.00 8.26L397.50 8.26L398.00 8.26L398.50 8.26L399.00 8.26L399.50 8.26L400.00 8.26L400.50 8.26L401.00 8.26L401.50 8.26L402.00 8.26L402.50 8.26L403.00 8.26L403.50 8.26L404.00 8.26L404.50 8.26L405.00 8.26L405.50 8.26L406.00 8.26L406.50 8.26L407.00 8.26L407.50 8.26L408.00 8.26L408.50 8.26L409.00 8.26L409.50 8.26L410.00 8.26L410.50 8.26L411.00 8.26L411.50 8.26L412.00 8.26L412.50 8.26L413.00 8.26L413.50 8.26L414.00 8.26L414.50 8.26L415.00 8.26L415.50 8.26L416.00 8.26L416.50 8.26L417.00 8.26L417.50 8.26L418.00 8.26L418.50 8.26L419.00 8.26L419.50 8.26L420.00 8.26L420.50 8.26L421.00 8.26L421.50 8.25L422.00 8.25L422.50 8.25L423.00 8.25L423.50 8.25L424.00 8.25L424.50 8.25L425.00 8.25L425.50 8.25L426.00 8.25L426.50 8.25L427.00 8.25L427.50 8.25L428.00 8.25L428.50 8.25L429.00 8.25L429.50 8.25L430.00 8.25L430.50 8.25L431.00 8.25L431.50 8.25L432.00 8.25L432.50 8.25L433.00 8.25L433.50 8.25L434.00 8.25L434.50 8.25L435.00 8.25L435.50 8.25L436.00 8.25L436.20 8.25" fill="none" stroke="#000000" stroke-width="1.20" stroke-dasharray="2.5 5.8" stroke-dashoffset="0.00" stroke-linejoin="round" />
<path d="M97.60 8.20L98.10 8.20L98.60 8.20L99.10 8.20L99.60 8.20L100.10 8.20L100.60 8.20L101.10 8.20L101.60 8.20L102.10 8.20L102.60 8.20L103.10 8.20L103.60 8.20L104.10 8.20L104.60 8.20L105.10 8.20L105.60 8.20L106.10 8.20L106.60 8.20L107.10 8.20L107.60 8.20L108.10 8.20L108.60 8.20L109.10 8.20L109.60 8.20L110.10 8.20L110.60 8.20L111.10 8.20L111.60 8.20L112.10 8.20L112.60 8.21L113.10 8.21L113.60 8.21L114.10 8.21L114.60 8.21L115.10 8.21L115.60 8.21L116.10 8.21L116.60 8.21L117.10 8.21L117.60 8.21L118.10 8.21L118.60 8.21L119.10 8.21L119.60 8.21L120.10 8.21L120.60 8.21L121.10 8.21L121.60 8.21L122.10 8.22L122.60 8.22L123.10 8.22L123.60 8.22L124.10 8.22L124.60 8.22L125.10 8.22L125.60 8.22L126.10 8.22L126.60 8.22L127.10 8.22L127.60 8.22L128.10 8.22L128.60 8.23L129.10 8.23L129.60 8.23L130.10 8.23L130.60 8.23L131.10 8.23L131.60 8.23L132.10 8.23L132.60 8.23L133.10 8.23L133.60 8.24L134.10 8.24L134.60 8.24L135.10 8.24L135.60 8.24L136.10 8.24L136.60 8.24L137.10 8.24L137.60 8.25L138.10 8.25L138.60 8.25L139.10 8.25L139.60 8.25L140.10 8.25L140.60 8.25L141.10 8.25L141.60 8.26L142.10 8.26L142.60 8.26L143.10 8.26L143.60 8.26L144.10 8.26L144.60 8.27L145.10 8.27L145.60 8.27L146.10 8.27L146.60 8.27L147.10 8.27L147.60 8.28L148.10 8.28L148.60 8.28L149.10 8.28L149.60 8.28L150.10 8.28L150.60 8.29L151.10 8.29L151.60 8.29L152.10 8.29L152.60 8.29L153.10 8.30L153.60 8.30L154.10 8.30L154.60 8.30L155.10 8.30L155.60 8.31L156.10 8.31L156.60 8.31L157.10 8.32L157.60 8.32L158.10 8.32L158.60 8.33L159.10 8.33L159.60 8.34L160.10 8.34L160.60 8.35L161.10 8.35L161.60 8.36L162.10 8.36L162.60 8.37L163.10 8.38L163.60 8.39L164.10 8.40L164.60 8.41L165.10 8.42L165.60 8.43L166.10 8.44L166.60 8.45L167.10 8.47L167.60 8.48L168.10 8.50L168.60 8.52L169.10 8.54L169.60 8.56L170.10 8.59L170.60 8.62L171.10 8.65L171.60 8.68L172.10 8.71L172.60 8.75L173.10 8.79L173.60 8.84L174.10 8.89L174.60 8.94L175.10 9.00L175.60 9.06L176.10 9.13L176.60 9.20L177.10 9.28L177.60 9.37L178.10 9.46L178.60 9.56L179.10 9.67L179.60 9.79L180.10 9.92L180.60 10.05L181.10 10.20L181.60 10.36L182.10 10.54L182.60 10.72L183.10 10.92L183.60 11.14L184.10 11.37L184.60 11.61L185.10 11.88L185.60 12.16L186.10 12.46L186.60 12.78L187.10 13.12L187.60 13.48L188.10 13.86L188.60 14.27L189.10 14.69L189.60 15.14L190.10 15.62L190.60 16.11L191.10 16.63L191.60 17.17L192.10 17.74L192.60 18.33L193.10 18.94L193.60 19.57L194.10 20.22L194.60 20.89L195.10 21.58L195.60 22.28L196.10 23.01L196.60 23.75L197.10 24.51L197.60 25.29L198.10 26.08L198.60 26.88L199.10 27.70L199.60 28.53L200.10 29.37L200.60 30.22L201.10 31.08L201.60 31.95L202.10 32.83L202.60 33.71L203.10 34.60L203.60 35.49L204.10 36.39L204.60 37.29L205.10 38.20L205.60 39.10L206.10 40.01L206.60 40.92L207.10 41.83L207.60 42.73L208.10 43.64L208.60 44.54L209.10 45.44L209.60 46.34L210.10 47.24L210.60 48.13L211.10 49.01L211.60 49.90L212.10 50.77L212.60 51.64L213.10 52.51L213.60 53.37L214.10 54.23L214.60 55.08L215.10 55.92L215.60 56.76L216.10 57.59L216.60 58.41L217.10 59.23L217.60 60.04L218.10 60.84L218.60 61.64L219.10 62.42L219.60 63.21L220.10 63.98L220.60 64.75L221.10 65.51L221.60 66.27L222.10 67.02L222.60 67.76L223.10 68.50L223.60 69.23L224.10 69.95L224.60 70.67L225.10 71.38L225.60 72.08L226.10 72.78L226.60 73.48L227.10 74.17L227.60 74.85L228.10 75.53L228.60 76.21L229.10 76.88L229.60 77.54L230.10 78.20L230.60 78.86L231.10 79.51L231.60 80.17L232.10 80.81L232.60 81.46L233.10 82.10L233.60 82.74L234.10 83.37L234.60 84.00L235.10 84.63L235.60 85.26L236.10 85.88L236.60 86.51L237.10 87.12L237.60 87.74L238.10 88.35L238.60 88.96L239.10 89.57L239.60 90.17L240.10 90.77L240.60 91.37L241.10 91.97L241.60 92.56L242.10 93.15L242.60 93.73L243.10 94.31L243.60 94.89L244.10 95.47L244.60 96.04L245.10 96.62L245.60 97.18L246.10 97.75L246.60 98.31L247.10 98.87L247.60 99.42L248.10 99.98L248.60 100.53L249.10 101.07L249.60 101.62L250.10 102.16L250.60 102.70L251.10 103.23L251.60 103.76L252.10 104.29L252.60 104.82L253.10 105.34L253.60 105.86L254.10 106.38L254.60 106.90L255.10 107.41L255.60 107.92L256.10 108.42L256.60 108.93L257.10 109.43L257.60 109.92L258.10 110.42L258.60 110.91L259.10 111.40L259.60 111.89L260.10 112.37L260.60 112.85L261.10 113.33L261.60 113.80L262.10 114.28L262.60 114.75L263.10 115.22L263.60 115.68L264.10 116.14L264.60 116.60L265.10 117.06L265.60 117.51L266.10 117.97L266.60 118.42L267.10 118.86L267.60 119.31L268.10 119.75L268.60 120.19L269.10 120.62L269.60 121.06L270.10 121.49L270.60 121.92L271.10 122.35L271.60 122.77L272.10 123.20L272.60 123.62L273.10 124.04L273.60 124.45L274.10 124.86L274.60 125.28L275.10 125.68L275.60 126.09L276.10 126.50L276.60 126.90L277.10 127.30L277.60 127.70L278.10 128.09L278.60 128.49L279.10 128.88L279.60 129.27L280.10 129.66L280.60 130.04L281.10 130.43L281.60 130.81L282.10 131.19L282.60 131.57L283.10 131.94L283.60 132.32L284.10 132.69L284.60 133.06L285.10 133.43L285.60 133.80L286.10 134.16L286.60 134.53L287.10 134.89L287.60 135.25L288.10 135.61L288.60 135.96L289.10 136.32L289.60 136.67L290.10 137.02L290.60 137.37L291.10 137.72L291.60 138.07L292.10 138.41L292.60 138.76L293.10 139.10L293.60 139.44L294.10 139.78L294.60 140.12L295.10 140.46L295.60 140.79L296.10 141.13L296.60 141.46L297.10 141.79L297.60 142.12L298.10 142.45L298.60 142.77L299.10 143.10L299.60 143.42L300.10 143.75L300.60 144.07L301.10 144.39L301.60 144.71L302.10 145.03L302.60 145.34L303.10 145.66L303.60 145.97L304.10 146.28L304.60 146.59L305.10 146.90L305.60 147.21L306.10 147.52L306.60 147.82L307.10 148.13L307.60 148.43L308.10 148.73L308.60 149.03L309.10 149.33L309.60 149.63L310.10 149.92L310.60 150.22L311.10 150.51L311.60 150.80L312.10 151.09L312.60 151.38L313.10 151.67L313.60 151.96L314.10 152.24L314.60 152.53L315.10 152.81L315.60 153.09L316.10 153.37L316.60 153.65L317.10 153.93L317.60 154.21L318.10 154.48L318.60 154.76L319.10 155.03L319.60 155.30L320.10 155.57L320.60 155.84L321.10 156.11L321.60 156.37L322.10 156.64L322.60 156.90L323.10 157.16L323.60 157.43L324.10 157.69L324.60 157.94L325.10 158.20L325.60 158.46L326.10 158.71L326.60 158.97L327.10 159.22L327.60 159.47L328.10 159.72L328.60 159.97L329.10 160.22L329.60 160.47L330.10 160.71L330.60 160.96L331.10 161.20L331.60 161.44L332.10 161.68L332.60 161.92L333.10 162.16L333.60 162.40L334.10 162.64L334.60 162.87L335.10 163.10L335.60 163.34L336.10 163.57L336.60 163.80L337.10 164.03L337.60 164.26L338.10 164.48L338.60 164.71L339.10 164.93L339.60 165.16L340.10 165.38L340.60 165.60L341.10 165.82L341.60 166.04L342.10 166.26L342.60 166.47L343.10 166.69L343.60 166.90L344.10 167.12L344.60 167.33L345.10 167.54L345.60 167.75L346.10 167.96L346.60 168.17L347.10 168.37L347.60 168.58L348.10 168.78L348.60 168.99L349.10 169.19L349.60 169.39L350.10 169.59L350.60 169.79L351.10 169.99L351.60 170.18L352.10 170.38L352.60 170.57L353.10 170.77L353.60 170.96L354.10 171.15L354.60 171.34L355.10 171.53L355.60 171.72L356.10 171.91L356.60 172.10L357.10 172.28L357.60 172.47L358.10 172.65L358.60 172.83L359.10 173.01L359.60 173.19L360.10 173.37L360.60 173.55L361.10 173.73L361.60 173.91L362.10 174.08L362.60 174.26L363.10 174.43L363.60 174.60L364.10 174.77L364.60 174.94L365.10 175.11L365.60 175.28L366.10 175.45L366.60 175.62L367.10 175.78L367.60 175.95L368.10 176.11L368.60 176.28L369.10 176.44L369.60 176.60L370.10 176.76L370.60 176.92L371.10 177.08L371.60 177.23L372.10 177.39L372.60 177.54L373.10 177.70L373.60 177.85L374.10 178.01L374.60 178.16L375.10 178.31L375.60 178.46L376.10 178.61L376.60 178.76L377.10 178.90L377.60 179.05L378.10 179.19L378.60 179.34L379.10 179.48L379.60 179.63L380.10 179.77L380.60 179.91L381.10 180.05L381.60 180.19L382.10 180.33L382.60 180.47L383.10 180.60L383.60 180.74L384.10 180.87L384.60 181.01L385.10 181.14L385.60 181.27L386.10 181.41L386.60 181.54L387.10 181.67L387.60 181.80L388.10 181.92L388.60 182.05L389.10 182.18L389.60 182.31L390.10 182.43L390.60 182.56L391.10 182.68L391.60 182.80L392.10 182.92L392.60 183.05L393.10 183.17L393.60 183.29L394.10 183.41L394.60 183.52L395.10 183.64L395.60 183.76L396.10 183.87L396.60 183.99L397.10 184.10L397.60 184.22L398.10 184.33L398.60 184.44L399.10 184.55L399.60 184.66L400.10 184.77L400.60 184.88L401.10 184.99L401.60 185.10L402.10 185.21L402.60 185.31L403.10 185.42L403.60 185.52L404.10 185.63L404.60 185.73L405.10 185.83L405.60 185.94L406.10 186.04L406.60 186.14L407.10 186.24L407.60 186.34L408.10 186.44L408.60 186.53L409.10 186.63L409.60 186.73L410.10 186.82L410.60 186.92L411.10 187.01L411.60 187.11L412.10 187.20L412.60 187.29L413.10 187.39L413.60 187.48L414.10 187.57L414.60 187.66L415.10 187.75L415.60 187.84L416.10 187.92L416.60 188.01L417.10 188.10L417.60 188.19L418.10 188.27L418.60 188.36L419.10 188.44L419.60 188.52L420.10 188.61L420.60 188.69L421.10 188.77L421.60 188.85L422.10 188.94L422.60 189.02L423.10 189.10L423.60 189.17L424.10 189.25L424.60 189.33L425.10 189.41L425.60 189.49L426.10 189.56L426.60 189.64L427.10 189.71L427.60 189.79L428.10 189.86L428.60 189.94L429.10 190.01L429.60 190.08L430.10 190.15L430.60 190.22L431.10 190.30L431.60 190.37L432.10 190.44L432.60 190.51L433.10 190.57L433.60 190.64L434.10 190.71L434.60 190.78L435.10 190.85L435.60 190.91L436.10 190.98L436.20 190.99" fill="none" stroke="#000000" stroke-width="1.20" stroke-dasharray="2.5 5.8" stroke-dashoffset="0.00" stroke-linejoin="round" />
<path d="M100.70 351.51L100.80 349.65L100.90 347.85L101.00 346.09L101.10 344.39L101.20 342.74L101.30 341.12L101.40 339.56L101.50 338.03L101.60 336.54L101.70 335.08L101.80 333.66L101.90 332.27L102.00 330.91L102.10 329.58L102.20 328.28L102.30 327.01L102.40 325.76L102.50 324.54L102.60 323.35L102.70 322.17L102.80 321.02L102.90 319.89L103.00 318.78L103.10 317.69L103.20 316.61L103.30 315.56L103.40 314.52L103.50 313.51L103.60 312.50L103.70 311.52L103.80 310.55L103.90 309.59L104.00 308.65L104.10 307.72L104.20 306.81L104.30 305.91L104.40 305.02L104.50 304.15L104.60 303.28L104.70 302.43L104.80 301.59L104.90 300.76L105.00 299.95L105.10 299.14L105.20 298.34L105.30 297.55L105.40 296.78L105.50 296.01L105.60 295.25L105.70 294.50L105.80 293.76L105.90 293.03L106.00 292.31L106.10 291.59L106.20 290.88L106.30 290.18L106.40 289.49L106.50 288.81L106.60 288.13L106.70 287.46L106.80 286.80L106.90 286.14L107.00 285.49L107.10 284.85L107.20 284.21L107.30 283.58L107.40 282.96L107.50 282.34L107.60 281.73L107.70 281.12L107.80 280.52L107.90 279.93L108.00 279.34L108.10 278.75L108.20 278.17L108.30 277.60L108.40 277.03L108.50 276.47L108.60 275.91L108.70 275.36L108.80 274.81L108.90 274.26L109.00 273.72L109.10 273.19L109.20 272.66L109.30 272.13L109.40 271.61L109.50 271.09L109.60 270.57L109.70 270.06L109.80 269.56L109.90 269.06L110.00 268.56L110.10 268.06L110.20 267.57L110.30 267.09L110.40 266.60L110.50 266.12L110.60 265.65L110.70 265.17L110.80 264.70L110.90 264.24L111.00 263.77L111.10 263.31L111.20 262.86L111.30 262.41L111.40 261.96L111.50 261.51L111.60 261.06L111.70 260.62L111.80 260.19L111.90 259.75L112.00 259.32L112.10 258.89L112.20 258.46L112.30 258.04L112.40 257.62L112.50 257.20L112.60 256.78L112.70 256.37L112.80 255.96L112.90 255.55L113.00 255.15L113.10 254.74L113.20 254.34L113.30 253.94L113.40 253.55L113.50 253.15L113.60 252.76L113.70 252.37L113.80 251.99L113.90 251.60L114.00 251.22L114.10 250.84L114.20 250.46L114.30 250.09L114.40 249.72L114.50 249.34L114.60 248.98L114.70 248.61L114.80 248.24L114.90 247.88L115.00 247.52L115.10 247.16L115.20 246.80L115.30 246.45L115.40 246.09L115.50 245.74L115.60 245.39L115.70 245.04L115.80 244.70L115.90 244.35L116.00 244.01L116.10 243.67L116.20 243.33L116.30 242.99L116.40 242.66L116.50 242.32L116.60 241.99L116.70 241.66L116.80 241.33L116.90 241.01L117.00 240.68L117.10 240.36L117.20 240.03L117.30 239.71L117.40 239.39L117.50 239.07L117.60 238.76L117.70 238.44L117.80 238.13L117.90 237.82L118.00 237.51L118.10 237.20L118.20 236.89L118.30 236.58L118.40 236.28L118.50 235.98L118.60 235.67L118.70 235.37L118.80 235.07L118.90 234.78L119.00 234.48L119.10 234.18L119.20 233.89L119.30 233.60L119.40 233.30L119.50 233.01L119.60 232.73L119.70 232.44L119.80 232.15L119.90 231.87L120.00 231.58L120.10 231.30L120.20 231.02L120.30 230.74L120.40 230.46L120.50 230.18L120.60 229.90L120.70 229.63L120.80 229.35L120.90 229.08L121.00 228.80L121.10 228.53L121.20 228.26L121.30 227.99L121.40 227.73L121.50 227.46L121.60 227.19L121.70 226.93L121.80 226.66L121.90 226.40L122.00 226.14L122.10 225.88L122.20 225.62L122.30 225.36L122.40 225.10L122.50 224.84L122.60 224.59L122.70 224.33L122.80 224.08L122.90 223.83L123.00 223.57L123.10 223.32L123.20 223.07L123.30 222.82L123.40 222.57L123.50 222.33L123.60 222.08L123.70 221.84L123.80 221.59L123.90 221.35L124.00 221.10L124.10 220.86L124.20 220.62L124.30 220.38L124.40 220.14L124.50 219.90L124.60 219.66L124.70 219.43L124.80 219.19L124.90 218.96L125.00 218.72L125.50 217.56L126.00 216.42L126.50 215.30L127.00 214.20L127.50 213.11L128.00 212.04L128.50 210.99L129.00 209.96L129.50 208.94L130.00 207.93L130.50 206.95L131.00 205.97L131.50 205.01L132.00 204.06L132.50 203.13L133.00 202.21L133.50 201.30L134.00 200.40L134.50 199.52L135.00 198.65L135.50 197.79L136.00 196.94L136.50 196.10L137.00 195.27L137.50 194.45L138.00 193.64L138.50 192.84L139.00 192.05L139.50 191.27L140.00 190.50L140.50 189.74L141.00 188.98L141.50 188.24L142.00 187.50L142.50 186.77L143.00 186.05L143.50 185.34L144.00 184.63L144.50 183.93L145.00 183.24L145.50 182.56L146.00 181.88L146.50 181.21L147.00 180.55L147.50 179.89L148.00 179.24L148.50 178.60L149.00 177.96L149.50 177.33L150.00 176.70L150.50 176.08L151.00 175.47L151.50 174.86L152.00 174.26L152.50 173.66L153.00 173.07L153.50 172.48L154.00 171.90L154.50 171.32L155.00 170.75L155.50 170.18L156.00 169.62L156.50 169.06L157.00 168.51L157.50 167.96L158.00 167.42L158.50 166.88L159.00 166.34L159.50 165.81L160.00 165.29L160.50 164.76L161.00 164.25L161.50 163.73L162.00 163.22L162.50 162.71L163.00 162.21L163.50 161.71L164.00 161.22L164.50 160.72L165.00 160.24L165.50 159.75L166.00 159.27L166.50 158.79L167.00 158.31L167.50 157.84L168.00 157.37L168.50 156.91L169.00 156.45L169.50 155.99L170.00 155.53L170.50 155.08L171.00 154.63L171.50 154.18L172.00 153.73L172.50 153.29L173.00 152.85L173.50 152.41L174.00 151.98L174.50 151.55L175.00 151.12L175.50 150.69L176.00 150.27L176.50 149.85L177.00 149.43L177.50 149.01L178.00 148.59L178.50 148.18L179.00 147.77L179.50 147.36L180.00 146.96L180.50 146.55L181.00 146.15L181.50 145.75L182.00 145.35L182.50 144.96L183.00 144.56L183.50 144.17L184.00 143.78L184.50 143.39L185.00 143.01L185.50 142.62L186.00 142.24L186.50 141.86L187.00 141.48L187.50 141.10L188.00 140.73L188.50 140.35L189.00 139.98L189.50 139.61L190.00 139.24L190.50 138.87L191.00 138.51L191.50 138.14L192.00 137.78L192.50 137.42L193.00 137.06L193.50 136.70L194.00 136.34L194.50 135.98L195.00 135.63L195.50 135.27L196.00 134.92L196.50 134.57L197.00 134.22L197.50 133.87L198.00 133.52L198.50 133.18L199.00 132.83L199.50 132.49L200.00 132.14L200.50 131.80L201.00 131.46L201.50 131.12L202.00 130.78L202.50 130.44L203.00 130.11L203.50 129.77L204.00 129.43L204.50 129.10L205.00 128.77L205.50 128.43L206.00 128.10L206.50 127.77L207.00 127.44L207.50 127.11L208.00 126.78L208.50 126.46L209.00 126.13L209.50 125.80L210.00 125.48L210.50 125.16L211.00 124.83L211.50 124.51L212.00 124.19L212.50 123.86L213.00 123.54L213.50 123.22L214.00 122.90L214.50 122.58L215.00 122.27L215.50 121.95L216.00 121.63L216.50 121.31L217.00 121.00L217.50 120.68L218.00 120.37L218.50 120.05L219.00 119.74L219.50 119.43L220.00 119.11L220.50 118.80L221.00 118.49L221.50 118.18L222.00 117.86L222.50 117.55L223.00 117.24L223.50 116.93L224.00 116.62L224.50 116.31L225.00 116.00L225.50 115.70L226.00 115.39L226.50 115.08L227.00 114.77L227.50 114.46L228.00 114.16L228.50 113.85L229.00 113.54L229.50 113.24L230.00 112.93L230.50 112.63L231.00 112.32L231.50 112.02L232.00 111.71L232.50 111.41L233.00 111.10L233.50 110.80L234.00 110.49L234.50 110.19L235.00 109.89L235.50 109.58L236.00 109.28L236.50 108.98L237.00 108.67L237.50 108.37L238.00 108.07L238.50 107.76L239.00 107.46L239.50 107.16L240.00 106.86L240.50 106.56L241.00 106.26L241.50 105.97L242.00 105.68L242.50 105.43L243.00 105.15L243.50 104.87L244.00 104.59L244.50 104.32L245.00 104.04L245.50 103.77L246.00 103.50L246.50 103.23L247.00 102.96L247.50 102.69L248.00 102.42L248.50 102.16L249.00 101.89L249.50 101.63L250.00 101.36L250.50 101.10L251.00 100.83L251.50 100.57L252.00 100.30L252.50 100.03L253.00 99.76L253.50 99.49L254.00 99.21L254.50 98.93L255.00 98.65L255.50 98.37L256.00 98.08L256.50 97.78L257.00 97.49L257.50 97.18L258.00 96.87L258.50 96.56L259.00 96.24L259.50 95.92L260.00 95.58L260.50 95.24L261.00 94.90L261.50 94.55L262.00 94.18L262.50 93.81L263.00 93.44L263.50 93.05L264.00 92.66L264.50 92.25L265.00 91.84L265.50 91.41L266.00 90.98L266.50 90.53L267.00 90.08L267.50 89.61L268.00 89.13L268.50 88.64L269.00 88.14L269.50 87.63L270.00 87.10L270.50 86.56L271.00 86.01L271.50 85.44L272.00 84.86L272.50 84.27L273.00 83.66L273.50 83.04L274.00 82.41L274.50 81.76L275.00 81.10L275.50 80.43L276.00 79.74L276.50 79.04L277.00 78.33L277.50 77.61L278.00 76.88L278.50 76.14L279.00 75.39L279.50 74.62L280.00 73.85L280.50 73.08L281.00 72.29L281.50 71.50L282.00 70.69L282.50 69.89L283.00 69.07L283.50 68.25L284.00 67.43L284.50 66.59L285.00 65.76L285.50 64.92L286.00 64.08L286.50 63.23L287.00 62.38L287.50 61.53L288.00 60.68L288.50 59.82L289.00 58.97L289.50 58.12L290.00 57.26L290.50 56.41L291.00 55.56L291.50 54.71L292.00 53.86L292.50 53.01L293.00 52.17L293.50 51.33L294.00 50.50L294.50 49.67L295.00 48.85L295.50 48.03L296.00 47.22L296.50 46.42L297.00 45.62L297.50 44.83L298.00 44.05L298.50 43.27L299.00 42.51L299.50 41.76L300.00 41.01L300.50 40.27L301.00 39.55L301.50 38.83L302.00 38.13L302.50 37.44L303.00 36.75L303.50 36.08L304.00 35.43L304.50 34.78L305.00 34.14L305.50 33.52L306.00 32.91L306.50 32.32L307.00 31.73L307.50 31.16L308.00 30.60L308.50 30.06L309.00 29.52L309.50 29.00L310.00 28.49L310.50 28.00L311.00 27.52L311.50 27.05L312.00 26.59L312.50 26.15L313.00 25.71L313.50 25.29L314.00 24.88L314.50 24.48L315.00 24.09L315.50 23.71L316.00 23.34L316.50 22.98L317.00 22.63L317.50 22.29L318.00 21.96L318.50 21.64L319.00 21.32L319.50 21.02L320.00 20.72L320.50 20.43L321.00 20.15L321.50 19.88L322.00 19.61L322.50 19.35L323.00 19.10L323.50 18.86L324.00 18.62L324.50 18.39L325.00 18.16L325.50 17.94L326.00 17.73L326.50 17.52L327.00 17.32L327.50 17.13L328.00 16.94L328.50 16.75L329.00 16.57L329.50 16.39L330.00 16.22L330.50 16.06L331.00 15.89L331.50 15.73L332.00 15.58L332.50 15.43L333.00 15.29L333.50 15.14L334.00 15.01L334.50 14.87L335.00 14.74L335.50 14.61L336.00 14.49L336.50 14.37L337.00 14.25L337.50 14.13L338.00 14.02L338.50 13.91L339.00 13.80L339.50 13.70L340.00 13.60L340.50 13.50L341.00 13.40L341.50 13.31L342.00 13.22L342.50 13.13L343.00 13.04L343.50 12.96L344.00 12.87L344.50 12.79L345.00 12.71L345.50 12.63L346.00 12.56L346.50 12.48L347.00 12.41L347.50 12.34L348.00 12.27L348.50 12.20L349.00 12.14L349.50 12.07L350.00 12.01L350.50 11.95L351.00 11.89L351.50 11.83L352.00 11.77L352.50 11.72L353.00 11.66L353.50 11.61L354.00 11.55L354.50 11.50L355.00 11.45L355.50 11.40L356.00 11.35L356.50 11.30L357.00 11.26L357.50 11.21L358.00 11.17L358.50 11.12L359.00 11.08L359.50 11.04L360.00 11.00L360.50 10.95L361.00 10.91L361.50 10.88L362.00 10.84L362.50 10.80L363.00 10.76L363.50 10.73L364.00 10.69L364.50 10.65L365.00 10.62L365.50 10.59L366.00 10.55L366.50 10.52L367.00 10.49L367.50 10.46L368.00 10.43L368.50 10.39L369.00 10.36L369.50 10.34L370.00 10.31L370.50 10.28L371.00 10.25L371.50 10.22L372.00 10.20L372.50 10.17L373.00 10.14L373.50 10.12L374.00 10.09L374.50 10.07L375.00 10.04L375.50 10.02L376.00 10.00L376.50 9.97L377.00 9.95L377.50 9.93L378.00 9.91L378.50 9.89L379.00 9.86L379.50 9.84L380.00 9.82L380.50 9.80L381.00 9.78L381.50 9.76L382.00 9.75L382.50 9.73L383.00 9.71L383.50 9.69L384.00 9.67L384.50 9.65L385.00 9.64L385.50 9.62L386.00 9.60L386.50 9.59L387.00 9.57L387.50 9.55L388.00 9.54L388.50 9.52L389.00 9.51L389.50 9.49L390.00 9.48L390.50 9.46L391.00 9.45L391.50 9.43L392.00 9.42L392.50 9.41L393.00 9.39L393.50 9.38L394.00 9.37L394.50 9.35L395.00 9.34L395.50 9.33L396.00 9.32L396.50 9.30L397.00 9.29L397.50 9.28L398.00 9.27L398.50 9.26L399.00 9.24L399.50 9.23L400.00 9.22L400.50 9.21L401.00 9.20L401.50 9.19L402.00 9.18L402.50 9.17L403.00 9.16L403.50 9.15L404.00 9.14L404.50 9.13L405.00 9.12L405.50 9.11L406.00 9.10L406.50 9.09L407.00 9.08L407.50 9.07L408.00 9.06L408.50 9.06L409.00 9.05L409.50 9.04L410.00 9.03L410.50 9.02L411.00 9.01L411.50 9.00L412.00 9.00L412.50 8.99L413.00 8.98L413.50 8.97L414.00 8.97L414.50 8.96L415.00 8.95L415.50 8.94L416.00 8.94L416.50 8.93L417.00 8.92L417.50 8.91L418.00 8.91L418.50 8.90L419.00 8.89L419.50 8.89L420.00 8.88L420.50 8.87L421.00 8.87L421.50 8.86L422.00 8.85L422.50 8.85L423.00 8.84L423.50 8.84L424.00 8.83L424.50 8.82L425.00 8.82L425.50 8.81L426.00 8.81L426.50 8.80L427.00 8.79L427.50 8.79L428.00 8.78L428.50 8.78L429.00 8.77L429.50 8.77L430.00 8.76L430.50 8.76L431.00 8.75L431.50 8.75L432.00 8.74L432.50 8.74L433.00 8.73L433.50 8.73L434.00 8.72L434.50 8.72L435.00 8.71L435.50 8.71L436.00 8.70L436.20 8.70" fill="none" stroke="#000000" stroke-width="1.20" stroke-dasharray="2.5 5.8" stroke-dashoffset="4.20" stroke-linejoin="round" />
<path d="M97.60 8.20L98.10 8.20L98.60 8.20L99.10 8.20L99.60 8.20L100.10 8.20L100.60 8.20L101.10 8.20L101.60 8.20L102.10 8.20L102.60 8.20L103.10 8.20L103.60 8.20L104.10 8.20L104.60 8.20L105.10 8.20L105.60 8.20L106.10 8.20L106.60 8.20L107.10 8.20L107.60 8.20L108.10 8.20L108.60 8.20L109.10 8.20L109.60 8.20L110.10 8.20L110.60 8.20L111.10 8.20L111.60 8.20L112.10 8.20L112.60 8.21L113.10 8.21L113.60 8.21L114.10 8.21L114.60 8.21L115.10 8.21L115.60 8.21L116.10 8.21L116.60 8.21L117.10 8.21L117.60 8.21L118.10 8.21L118.60 8.21L119.10 8.21L119.60 8.21L120.10 8.21L120.60 8.21L121.10 8.21L121.60 8.21L122.10 8.22L122.60 8.22L123.10 8.22L123.60 8.22L124.10 8.22L124.60 8.22L125.10 8.22L125.60 8.22L126.10 8.22L126.60 8.22L127.10 8.22L127.60 8.22L128.10 8.22L128.60 8.23L129.10 8.23L129.60 8.23L130.10 8.23L130.60 8.23L131.10 8.23L131.60 8.23L132.10 8.23L132.60 8.23L133.10 8.23L133.60 8.24L134.10 8.24L134.60 8.24L135.10 8.24L135.60 8.24L136.10 8.24L136.60 8.24L137.10 8.24L137.60 8.25L138.10 8.25L138.60 8.25L139.10 8.25L139.60 8.25L140.10 8.25L140.60 8.25L141.10 8.25L141.60 8.26L142.10 8.26L142.60 8.26L143.10 8.26L143.60 8.26L144.10 8.26L144.60 8.27L145.10 8.27L145.60 8.27L146.10 8.27L146.60 8.27L147.10 8.27L147.60 8.28L148.10 8.28L148.60 8.28L149.10 8.28L149.60 8.28L150.10 8.28L150.60 8.29L151.10 8.29L151.60 8.29L152.10 8.29L152.60 8.29L153.10 8.30L153.60 8.30L154.10 8.30L154.60 8.30L155.10 8.30L155.60 8.31L156.10 8.31L156.60 8.31L157.10 8.31L157.60 8.31L158.10 8.32L158.60 8.32L159.10 8.32L159.60 8.32L160.10 8.32L160.60 8.33L161.10 8.33L161.60 8.33L162.10 8.33L162.60 8.34L163.10 8.34L163.60 8.34L164.10 8.34L164.60 8.35L165.10 8.35L165.60 8.35L166.10 8.35L166.60 8.36L167.10 8.36L167.60 8.36L168.10 8.36L168.60 8.37L169.10 8.37L169.60 8.37L170.10 8.38L170.60 8.38L171.10 8.38L171.60 8.38L172.10 8.39L172.60 8.39L173.10 8.39L173.60 8.40L174.10 8.40L174.60 8.40L175.10 8.40L175.60 8.41L176.10 8.41L176.60 8.41L177.10 8.42L177.60 8.42L178.10 8.42L178.60 8.43L179.10 8.43L179.60 8.43L180.10 8.44L180.60 8.44L181.10 8.44L181.60 8.45L182.10 8.45L182.60 8.45L183.10 8.46L183.60 8.46L184.10 8.46L184.60 8.47L185.10 8.47L185.60 8.47L186.10 8.48L186.60 8.48L187.10 8.49L187.60 8.49L188.10 8.49L188.60 8.50L189.10 8.50L189.60 8.50L190.10 8.51L190.60 8.51L191.10 8.52L191.60 8.52L192.10 8.53L192.60 8.53L193.10 8.53L193.60 8.54L194.10 8.54L194.60 8.55L195.10 8.55L195.60 8.55L196.10 8.56L196.60 8.56L197.10 8.57L197.60 8.57L198.10 8.58L198.60 8.58L199.10 8.59L199.60 8.59L200.10 8.60L200.60 8.60L201.10 8.61L201.60 8.61L202.10 8.61L202.60 8.62L203.10 8.62L203.60 8.63L204.10 8.63L204.60 8.64L205.10 8.65L205.60 8.65L206.10 8.66L206.60 8.66L207.10 8.67L207.60 8.67L208.10 8.68L208.60 8.68L209.10 8.69L209.60 8.69L210.10 8.70L210.60 8.71L211.10 8.71L211.60 8.72L212.10 8.72L212.60 8.73L213.10 8.73L213.60 8.74L214.10 8.75L214.60 8.75L215.10 8.76L215.60 8.77L216.10 8.77L216.60 8.78L217.10 8.78L217.60 8.79L218.10 8.80L218.60 8.80L219.10 8.81L219.60 8.82L220.10 8.82L220.60 8.83L221.10 8.84L221.60 8.84L222.10 8.85L222.60 8.86L223.10 8.87L223.60 8.87L224.10 8.88L224.60 8.89L225.10 8.90L225.60 8.90L226.10 8.91L226.60 8.92L227.10 8.93L227.60 8.93L228.10 8.94L228.60 8.95L229.10 8.96L229.60 8.97L230.10 8.98L230.60 8.98L231.10 8.99L231.60 9.00L232.10 9.01L232.60 9.02L233.10 9.03L233.60 9.04L234.10 9.04L234.60 9.05L235.10 9.06L235.60 9.07L236.10 9.08L236.60 9.09L237.10 9.10L237.60 9.11L238.10 9.12L238.60 9.13L239.10 9.14L239.60 9.15L240.10 9.16L240.60 9.17L241.10 9.18L241.60 9.19L242.10 9.20L242.60 9.21L243.10 9.22L243.60 9.23L244.10 9.24L244.60 9.25L245.10 9.26L245.60 9.27L246.10 9.28L246.60 9.29L247.10 9.30L247.60 9.31L248.10 9.32L248.60 9.33L249.10 9.34L249.60 9.35L250.10 9.37L250.60 9.38L251.10 9.39L251.60 9.40L252.10 9.41L252.60 9.42L253.10 9.43L253.60 9.45L254.10 9.46L254.60 9.47L255.10 9.48L255.60 9.50L256.10 9.51L256.60 9.52L257.10 9.54L257.60 9.55L258.10 9.57L258.60 9.58L259.10 9.60L259.60 9.61L260.10 9.63L260.60 9.65L261.10 9.67L261.60 9.69L262.10 9.70L262.60 9.72L263.10 9.75L263.60 9.77L264.10 9.79L264.60 9.81L265.10 9.84L265.60 9.86L266.10 9.89L266.60 9.91L267.10 9.94L267.60 9.97L268.10 10.00L268.60 10.04L269.10 10.07L269.60 10.10L270.10 10.14L270.60 10.18L271.10 10.22L271.60 10.26L272.10 10.30L272.60 10.35L273.10 10.40L273.60 10.45L274.10 10.50L274.60 10.55L275.10 10.61L275.60 10.67L276.10 10.73L276.60 10.80L277.10 10.87L277.60 10.94L278.10 11.01L278.60 11.09L279.10 11.17L279.60 11.25L280.10 11.34L280.60 11.43L281.10 11.53L281.60 11.62L282.10 11.73L282.60 11.83L283.10 11.95L283.60 12.06L284.10 12.18L284.60 12.31L285.10 12.44L285.60 12.57L286.10 12.71L286.60 12.86L287.10 13.01L287.60 13.17L288.10 13.33L288.60 13.50L289.10 13.68L289.60 13.86L290.10 14.05L290.60 14.24L291.10 14.44L291.60 14.65L292.10 14.87L292.60 15.09L293.10 15.33L293.60 15.56L294.10 15.81L294.60 16.07L295.10 16.33L295.60 16.60L296.10 16.88L296.60 17.17L297.10 17.46L297.60 17.77L298.10 18.08L298.60 18.40L299.10 18.73L299.60 19.07L300.10 19.41L300.60 19.77L301.10 20.13L301.60 20.51L302.10 20.89L302.60 21.28L303.10 21.67L303.60 22.08L304.10 22.49L304.60 22.91L305.10 23.34L305.60 23.78L306.10 24.22L306.60 24.67L307.10 25.12L307.60 25.59L308.10 26.06L308.60 26.53L309.10 27.01L309.60 27.49L310.10 27.98L310.60 28.48L311.10 28.97L311.60 29.48L312.10 29.98L312.60 30.49L313.10 31.00L313.60 31.52L314.10 32.03L314.60 32.55L315.10 33.08L315.60 33.60L316.10 34.13L316.60 34.66L317.10 35.19L317.60 35.72L318.10 36.25L318.60 36.79L319.10 37.33L319.60 37.86L320.10 38.40L320.60 38.94L321.10 39.48L321.60 40.02L322.10 40.56L322.60 41.10L323.10 41.64L323.60 42.18L324.10 42.71L324.60 43.25L325.10 43.79L325.60 44.33L326.10 44.87L326.60 45.40L327.10 45.94L327.60 46.47L328.10 47.00L328.60 47.53L329.10 48.06L329.60 48.59L330.10 49.12L330.60 49.65L331.10 50.17L331.60 50.69L332.10 51.21L332.60 51.73L333.10 52.25L333.60 52.76L334.10 53.28L334.60 53.79L335.10 54.30L335.60 54.80L336.10 55.31L336.60 55.81L337.10 56.31L337.60 56.81L338.10 57.31L338.60 57.80L339.10 58.29L339.60 58.78L340.10 59.27L340.60 59.75L341.10 60.24L341.60 60.72L342.10 61.20L342.60 61.67L343.10 62.14L343.60 62.62L344.10 63.08L344.60 63.55L345.10 64.01L345.60 64.48L346.10 64.94L346.60 65.39L347.10 65.85L347.60 66.30L348.10 66.75L348.60 67.20L349.10 67.65L349.60 68.09L350.10 68.53L350.60 68.97L351.10 69.41L351.60 69.84L352.10 70.28L352.60 70.71L353.10 71.14L353.60 71.57L354.10 71.99L354.60 72.42L355.10 72.84L355.60 73.26L356.10 73.68L356.60 74.09L357.10 74.51L357.60 74.92L358.10 75.33L358.60 75.74L359.10 76.15L359.60 76.56L360.10 76.96L360.60 77.37L361.10 77.77L361.60 78.17L362.10 78.57L362.60 78.97L363.10 79.37L363.60 79.76L364.10 80.16L364.60 80.55L365.10 80.94L365.60 81.33L366.10 81.72L366.60 82.11L367.10 82.49L367.60 82.88L368.10 83.26L368.60 83.64L369.10 84.02L369.60 84.40L370.10 84.78L370.60 85.15L371.10 85.53L371.60 85.90L372.10 86.27L372.60 86.65L373.10 87.01L373.60 87.38L374.10 87.75L374.60 88.11L375.10 88.48L375.60 88.84L376.10 89.20L376.60 89.56L377.10 89.92L377.60 90.28L378.10 90.63L378.60 90.99L379.10 91.34L379.60 91.69L380.10 92.04L380.60 92.39L381.10 92.74L381.60 93.09L382.10 93.43L382.60 93.78L383.10 94.12L383.60 94.46L384.10 94.80L384.60 95.14L385.10 95.48L385.60 95.81L386.10 96.15L386.60 96.48L387.10 96.82L387.60 97.15L388.10 97.48L388.60 97.81L389.10 98.14L389.60 98.46L390.10 98.79L390.60 99.12L391.10 99.44L391.60 99.76L392.10 100.08L392.60 100.40L393.10 100.72L393.60 101.04L394.10 101.36L394.60 101.68L395.10 101.99L395.60 102.30L396.10 102.62L396.60 102.93L397.10 103.24L397.60 103.55L398.10 103.86L398.60 104.17L399.10 104.48L399.60 104.78L400.10 105.09L400.60 105.39L401.10 105.69L401.60 106.00L402.10 106.30L402.60 106.60L403.10 106.90L403.60 107.20L404.10 107.50L404.60 107.79L405.10 108.09L405.60 108.38L406.10 108.68L406.60 108.97L407.10 109.27L407.60 109.56L408.10 109.85L408.60 110.14L409.10 110.43L409.60 110.72L410.10 111.01L410.60 111.30L411.10 111.58L411.60 111.87L412.10 112.16L412.60 112.44L413.10 112.72L413.60 113.01L414.10 113.29L414.60 113.57L415.10 113.86L415.60 114.14L416.10 114.42L416.60 114.70L417.10 114.98L417.60 115.26L418.10 115.53L418.60 115.81L419.10 116.09L419.60 116.37L420.10 116.64L420.60 116.92L421.10 117.19L421.60 117.47L422.10 117.74L422.60 118.02L423.10 118.29L423.60 118.56L424.10 118.84L424.60 119.11L425.10 119.38L425.60 119.65L426.10 119.92L426.60 120.20L427.10 120.47L427.60 120.74L428.10 121.01L428.60 121.28L429.10 121.55L429.60 121.81L430.10 122.08L430.60 122.35L431.10 122.62L431.60 122.89L432.10 123.16L432.60 123.43L433.10 123.69L433.60 123.96L434.10 124.23L434.60 124.50L435.10 124.76L435.60 125.03L436.10 125.30L436.20 125.35" fill="none" stroke="#000000" stroke-width="1.20" stroke-dasharray="2.5 5.8" stroke-dashoffset="0.00" stroke-linejoin="round" />
<path d="M100.70 351.51L100.80 349.65L100.90 347.85L101.00 346.09L101.10 344.39L101.20 342.74L101.30 341.12L101.40 339.56L101.50 338.03L101.60 336.54L101.70 335.08L101.80 333.66L101.90 332.27L102.00 330.91L102.10 329.58L102.20 328.28L102.30 327.01L102.40 325.76L102.50 324.54L102.60 323.35L102.70 322.17L102.80 321.02L102.90 319.89L103.00 318.78L103.10 317.69L103.20 316.61L103.30 315.56L103.40 314.52L103.50 313.51L103.60 312.50L103.70 311.52L103.80 310.55L103.90 309.59L104.00 308.65L104.10 307.72L104.20 306.81L104.30 305.91L104.40 305.02L104.50 304.15L104.60 303.28L104.70 302.43L104.80 301.59L104.90 300.76L105.00 299.95L105.10 299.14L105.20 298.34L105.30 297.55L105.40 296.78L105.50 296.01L105.60 295.25L105.70 294.50L105.80 293.76L105.90 293.03L106.00 292.31L106.10 291.59L106.20 290.88L106.30 290.18L106.40 289.49L106.50 288.81L106.60 288.13L106.70 287.46L106.80 286.80L106.90 286.14L107.00 285.49L107.10 284.85L107.20 284.21L107.30 283.58L107.40 282.96L107.50 282.34L107.60 281.73L107.70 281.12L107.80 280.52L107.90 279.93L108.00 279.34L108.10 278.75L108.20 278.17L108.30 277.60L108.40 277.03L108.50 276.47L108.60 275.91L108.70 275.36L108.80 274.81L108.90 274.26L109.00 273.72L109.10 273.19L109.20 272.66L109.30 272.13L109.40 271.61L109.50 271.09L109.60 270.57L109.70 270.06L109.80 269.56L109.90 269.06L110.00 268.56L110.10 268.06L110.20 267.57L110.30 267.09L110.40 266.60L110.50 266.12L110.60 265.65L110.70 265.17L110.80 264.70L110.90 264.24L111.00 263.77L111.10 263.31L111.20 262.86L111.30 262.41L111.40 261.96L111.50 261.51L111.60 261.06L111.70 260.62L111.80 260.19L111.90 259.75L112.00 259.32L112.10 258.89L112.20 258.46L112.30 258.04L112.40 257.62L112.50 257.20L112.60 256.78L112.70 256.37L112.80 255.96L112.90 255.55L113.00 255.15L113.10 254.74L113.20 254.34L113.30 253.94L113.40 253.55L113.50 253.15L113.60 252.76L113.70 252.37L113.80 251.99L113.90 251.60L114.00 251.22L114.10 250.84L114.20 250.46L114.30 250.09L114.40 249.72L114.50 249.34L114.60 248.98L114.70 248.61L114.80 248.24L114.90 247.88L115.00 247.52L115.10 247.16L115.20 246.80L115.30 246.45L115.40 246.09L115.50 245.74L115.60 245.39L115.70 245.04L115.80 244.70L115.90 244.35L116.00 244.01L116.10 243.67L116.20 243.33L116.30 242.99L116.40 242.66L116.50 242.32L116.60 241.99L116.70 241.66L116.80 241.33L116.90 241.01L117.00 240.68L117.10 240.36L117.20 240.03L117.30 239.71L117.40 239.39L117.50 239.07L117.60 238.76L117.70 238.44L117.80 238.13L117.90 237.82L118.00 237.51L118.10 237.20L118.20 236.89L118.30 236.58L118.40 236.28L118.50 235.98L118.60 235.67L118.70 235.37L118.80 235.07L118.90 234.78L119.00 234.48L119.10 234.18L119.20 233.89L119.30 233.60L119.40 233.30L119.50 233.01L119.60 232.73L119.70 232.44L119.80 232.15L119.90 231.87L120.00 231.58L120.10 231.30L120.20 231.02L120.30 230.74L120.40 230.46L120.50 230.18L120.60 229.90L120.70 229.63L120.80 229.35L120.90 229.08L121.00 228.80L121.10 228.53L121.20 228.26L121.30 227.99L121.40 227.73L121.50 227.46L121.60 227.19L121.70 226.93L121.80 226.66L121.90 226.40L122.00 226.14L122.10 225.88L122.20 225.62L122.30 225.36L122.40 225.10L122.50 224.84L122.60 224.59L122.70 224.33L122.80 224.08L122.90 223.83L123.00 223.57L123.10 223.32L123.20 223.07L123.30 222.82L123.40 222.57L123.50 222.33L123.60 222.08L123.70 221.84L123.80 221.59L123.90 221.35L124.00 221.10L124.10 220.86L124.20 220.62L124.30 220.38L124.40 220.14L124.50 219.90L124.60 219.66L124.70 219.43L124.80 219.19L124.90 218.96L125.00 218.72L125.50 217.56L126.00 216.42L126.50 215.30L127.00 214.20L127.50 213.11L128.00 212.04L128.50 210.99L129.00 209.96L129.50 208.94L130.00 207.93L130.50 206.95L131.00 205.97L131.50 205.01L132.00 204.06L132.50 203.13L133.00 202.21L133.50 201.30L134.00 200.40L134.50 199.52L135.00 198.65L135.50 197.79L136.00 196.94L136.50 196.10L137.00 195.27L137.50 194.45L138.00 193.64L138.50 192.84L139.00 192.05L139.50 191.27L140.00 190.50L140.50 189.74L141.00 188.98L141.50 188.24L142.00 187.50L142.50 186.77L143.00 186.05L143.50 185.34L144.00 184.63L144.50 183.93L145.00 183.24L145.50 182.56L146.00 181.88L146.50 181.21L147.00 180.55L147.50 179.89L148.00 179.24L148.50 178.60L149.00 177.96L149.50 177.33L150.00 176.70L150.50 176.08L151.00 175.47L151.50 174.86L152.00 174.26L152.50 173.66L153.00 173.07L153.50 172.48L154.00 171.90L154.50 171.32L155.00 170.75L155.50 170.18L156.00 169.62L156.50 169.06L157.00 168.51L157.50 167.96L158.00 167.42L158.50 166.88L159.00 166.34L159.50 165.81L160.00 165.29L160.50 164.76L161.00 164.25L161.50 163.73L162.00 163.22L162.50 162.71L163.00 162.21L163.50 161.71L164.00 161.22L164.50 160.72L165.00 160.24L165.50 159.75L166.00 159.27L166.50 158.79L167.00 158.31L167.50 157.84L168.00 157.37L168.50 156.91L169.00 156.45L169.50 155.99L170.00 155.53L170.50 155.08L171.00 154.63L171.50 154.18L172.00 153.73L172.50 153.29L173.00 152.85L173.50 152.41L174.00 151.98L174.50 151.55L175.00 151.12L175.50 150.69L176.00 150.27L176.50 149.85L177.00 149.43L177.50 149.01L178.00 148.59L178.50 148.18L179.00 147.77L179.50 147.36L180.00 146.96L180.50 146.55L181.00 146.15L181.50 145.75L182.00 145.35L182.50 144.96L183.00 144.56L183.50 144.17L184.00 143.78L184.50 143.39L185.00 143.01L185.50 142.62L186.00 142.24L186.50 141.86L187.00 141.48L187.50 141.10L188.00 140.73L188.50 140.35L189.00 139.98L189.50 139.61L190.00 139.24L190.50 138.87L191.00 138.51L191.50 138.14L192.00 137.78L192.50 137.42L193.00 137.06L193.50 136.70L194.00 136.34L194.50 135.98L195.00 135.63L195.50 135.27L196.00 134.92L196.50 134.57L197.00 134.22L197.50 133.87L198.00 133.52L198.50 133.18L199.00 132.83L199.50 132.49L200.00 132.14L200.50 131.80L201.00 131.46L201.50 131.12L202.00 130.78L202.50 130.44L203.00 130.11L203.50 129.77L204.00 129.43L204.50 129.10L205.00 128.77L205.50 128.43L206.00 128.10L206.50 127.77L207.00 127.44L207.50 127.11L208.00 126.78L208.50 126.46L209.00 126.13L209.50 125.80L210.00 125.48L210.50 125.16L211.00 124.83L211.50 124.51L212.00 124.19L212.50 123.86L213.00 123.54L213.50 123.22L214.00 122.90L214.50 122.58L215.00 122.27L215.50 121.95L216.00 121.63L216.50 121.31L217.00 121.00L217.50 120.68L218.00 120.37L218.50 120.05L219.00 119.74L219.50 119.43L220.00 119.11L220.50 118.80L221.00 118.49L221.50 118.18L222.00 117.86L222.50 117.55L223.00 117.24L223.50 116.93L224.00 116.62L224.50 116.31L225.00 116.00L225.50 115.70L226.00 115.39L226.50 115.08L227.00 114.77L227.50 114.46L228.00 114.16L228.50 113.85L229.00 113.54L229.50 113.24L230.00 112.93L230.50 112.63L231.00 112.32L231.50 112.02L232.00 111.71L232.50 111.41L233.00 111.10L233.50 110.80L234.00 110.49L234.50 110.19L235.00 109.89L235.50 109.58L236.00 109.28L236.50 108.98L237.00 108.67L237.50 108.37L238.00 108.07L238.50 107.76L239.00 107.46L239.50 107.16L240.00 106.86L240.50 106.56L241.00 106.26L241.50 105.97L242.00 105.68L242.50 105.40L243.00 105.12L243.50 104.84L244.00 104.56L244.50 104.29L245.00 104.02L245.50 103.75L246.00 103.49L246.50 103.22L247.00 102.96L247.50 102.69L248.00 102.43L248.50 102.17L249.00 101.90L249.50 101.64L250.00 101.38L250.50 101.12L251.00 100.85L251.50 100.58L252.00 100.32L252.50 100.05L253.00 99.78L253.50 99.52L254.00 99.25L254.50 98.99L255.00 98.72L255.50 98.46L256.00 98.19L256.50 97.93L257.00 97.67L257.50 97.41L258.00 97.15L258.50 96.88L259.00 96.62L259.50 96.36L260.00 96.10L260.50 95.84L261.00 95.57L261.50 95.31L262.00 95.05L262.50 94.79L263.00 94.52L263.50 94.26L264.00 93.99L264.50 93.73L265.00 93.46L265.50 93.20L266.00 92.93L266.50 92.67L267.00 92.41L267.50 92.15L268.00 91.89L268.50 91.63L269.00 91.38L269.50 91.12L270.00 90.86L270.50 90.60L271.00 90.34L271.50 90.08L272.00 89.82L272.50 89.56L273.00 89.29L273.50 89.02L274.00 88.75L274.50 88.48L275.00 88.20L275.50 87.92L276.00 87.63L276.50 87.34L277.00 87.05L277.50 86.75L278.00 86.45L278.50 86.14L279.00 85.83L279.50 85.51L280.00 85.19L280.50 84.87L281.00 84.54L281.50 84.21L282.00 83.88L282.50 83.54L283.00 83.20L283.50 82.86L284.00 82.51L284.50 82.17L285.00 81.82L285.50 81.48L286.00 81.13L286.50 80.78L287.00 80.43L287.50 80.08L288.00 79.73L288.50 79.38L289.00 79.03L289.50 78.68L290.00 78.34L290.50 77.99L291.00 77.65L291.50 77.31L292.00 76.97L292.50 76.63L293.00 76.29L293.50 75.95L294.00 75.62L294.50 75.28L295.00 74.94L295.50 74.60L296.00 74.26L296.50 73.92L297.00 73.59L297.50 73.25L298.00 72.91L298.50 72.57L299.00 72.24L299.50 71.90L300.00 71.57L300.50 71.23L301.00 70.90L301.50 70.56L302.00 70.23L302.50 69.90L303.00 69.57L303.50 69.24L304.00 68.90L304.50 68.57L305.00 68.24L305.50 67.91L306.00 67.57L306.50 67.24L307.00 66.91L307.50 66.58L308.00 66.25L308.50 65.92L309.00 65.59L309.50 65.26L310.00 64.93L310.50 64.60L311.00 64.27L311.50 63.95L312.00 63.62L312.50 63.29L313.00 62.97L313.50 62.64L314.00 62.32L314.50 62.00L315.00 61.68L315.50 61.36L316.00 61.04L316.50 60.72L317.00 60.40L317.50 60.08L318.00 59.77L318.50 59.45L319.00 59.14L319.50 58.83L320.00 58.52L320.50 58.21L321.00 57.90L321.50 57.59L322.00 57.28L322.50 56.97L323.00 56.67L323.50 56.36L324.00 56.05L324.50 55.75L325.00 55.44L325.50 55.14L326.00 54.83L326.50 54.53L327.00 54.23L327.50 53.93L328.00 53.63L328.50 53.33L329.00 53.03L329.50 52.73L330.00 52.43L330.50 52.13L331.00 51.84L331.50 51.54L332.00 51.25L332.50 50.95L333.00 50.66L333.50 50.37L334.00 50.08L334.50 49.79L335.00 49.50L335.50 49.21L336.00 48.92L336.50 48.64L337.00 48.36L337.50 48.07L338.00 47.79L338.50 47.51L339.00 47.23L339.50 46.95L340.00 46.68L340.50 46.40L341.00 46.13L341.50 45.85L342.00 45.58L342.50 45.31L343.00 45.03L343.50 44.76L344.00 44.49L344.50 44.22L345.00 43.96L345.50 43.69L346.00 43.42L346.50 43.16L347.00 42.89L347.50 42.63L348.00 42.37L348.50 42.10L349.00 41.84L349.50 41.58L350.00 41.32L350.50 41.07L351.00 40.81L351.50 40.55L352.00 40.30L352.50 40.04L353.00 39.79L353.50 39.54L354.00 39.29L354.50 39.04L355.00 38.79L355.50 38.54L356.00 38.29L356.50 38.05L357.00 37.80L357.50 37.56L358.00 37.31L358.50 37.07L359.00 36.83L359.50 36.59L360.00 36.35L360.50 36.12L361.00 35.88L361.50 35.65L362.00 35.41L362.50 35.18L363.00 34.95L363.50 34.72L364.00 34.49L364.50 34.26L365.00 34.04L365.50 33.81L366.00 33.59L366.50 33.37L367.00 33.14L367.50 32.92L368.00 32.70L368.50 32.49L369.00 32.27L369.50 32.05L370.00 31.84L370.50 31.63L371.00 31.42L371.50 31.21L372.00 31.00L372.50 30.79L373.00 30.58L373.50 30.38L374.00 30.17L374.50 29.97L375.00 29.77L375.50 29.57L376.00 29.37L376.50 29.17L377.00 28.98L377.50 28.78L378.00 28.59L378.50 28.40L379.00 28.21L379.50 28.02L380.00 27.83L380.50 27.64L381.00 27.46L381.50 27.27L382.00 27.09L382.50 26.91L383.00 26.73L383.50 26.55L384.00 26.37L384.50 26.19L385.00 26.02L385.50 25.85L386.00 25.67L386.50 25.50L387.00 25.33L387.50 25.16L388.00 25.00L388.50 24.83L389.00 24.67L389.50 24.50L390.00 24.34L390.50 24.18L391.00 24.02L391.50 23.87L392.00 23.71L392.50 23.55L393.00 23.40L393.50 23.25L394.00 23.10L394.50 22.95L395.00 22.80L395.50 22.65L396.00 22.51L396.50 22.36L397.00 22.22L397.50 22.07L398.00 21.93L398.50 21.79L399.00 21.66L399.50 21.52L400.00 21.38L400.50 21.25L401.00 21.11L401.50 20.98L402.00 20.85L402.50 20.72L403.00 20.59L403.50 20.47L404.00 20.34L404.50 20.22L405.00 20.09L405.50 19.97L406.00 19.85L406.50 19.73L407.00 19.61L407.50 19.49L408.00 19.37L408.50 19.26L409.00 19.14L409.50 19.03L410.00 18.92L410.50 18.81L411.00 18.70L411.50 18.59L412.00 18.48L412.50 18.38L413.00 18.27L413.50 18.17L414.00 18.06L414.50 17.96L415.00 17.86L415.50 17.76L416.00 17.66L416.50 17.56L417.00 17.47L417.50 17.37L418.00 17.28L418.50 17.18L419.00 17.09L419.50 17.00L420.00 16.91L420.50 16.82L421.00 16.73L421.50 16.64L422.00 16.56L422.50 16.47L423.00 16.38L423.50 16.30L424.00 16.22L424.50 16.14L425.00 16.05L425.50 15.97L426.00 15.89L426.50 15.82L427.00 15.74L427.50 15.66L428.00 15.59L428.50 15.51L429.00 15.44L429.50 15.36L430.00 15.29L430.50 15.22L431.00 15.15L431.50 15.08L432.00 15.01L432.50 14.94L433.00 14.87L433.50 14.81L434.00 14.74L434.50 14.68L435.00 14.61L435.50 14.55L436.00 14.49L436.20 14.46" fill="none" stroke="#000000" stroke-width="1.20" stroke-dasharray="2.5 5.8" stroke-dashoffset="0.00" stroke-linejoin="round" />
<path d="M97.60 8.20L98.10 8.20L98.60 8.20L99.10 8.20L99.60 8.20L100.10 8.20L100.60 8.20L101.10 8.20L101.60 8.20L102.10 8.20L102.60 8.20L103.10 8.20L103.60 8.20L104.10 8.20L104.60 8.20L105.10 8.20L105.60 8.20L106.10 8.20L106.60 8.20L107.10 8.20L107.60 8.20L108.10 8.20L108.60 8.20L109.10 8.20L109.60 8.20L110.10 8.20L110.60 8.20L111.10 8.20L111.60 8.20L112.10 8.20L112.60 8.21L113.10 8.21L113.60 8.21L114.10 8.21L114.60 8.21L115.10 8.21L115.60 8.21L116.10 8.21L116.60 8.21L117.10 8.21L117.60 8.21L118.10 8.21L118.60 8.21L119.10 8.21L119.60 8.21L120.10 8.21L120.60 8.21L121.10 8.21L121.60 8.21L122.10 8.22L122.60 8.22L123.10 8.22L123.60 8.22L124.10 8.22L124.60 8.22L125.10 8.22L125.60 8.22L126.10 8.22L126.60 8.22L127.10 8.22L127.60 8.22L128.10 8.22L128.60 8.23L129.10 8.23L129.60 8.23L130.10 8.23L130.60 8.23L131.10 8.23L131.60 8.23L132.10 8.23L132.60 8.23L133.10 8.23L133.60 8.24L134.10 8.24L134.60 8.24L135.10 8.24L135.60 8.24L136.10 8.24L136.60 8.24L137.10 8.24L137.60 8.25L138.10 8.25L138.60 8.25L139.10 8.25L139.60 8.25L140.10 8.25L140.60 8.25L141.10 8.25L141.60 8.26L142.10 8.26L142.60 8.26L143.10 8.26L143.60 8.26L144.10 8.26L144.60 8.27L145.10 8.27L145.60 8.27L146.10 8.27L146.60 8.27L147.10 8.27L147.60 8.28L148.10 8.28L148.60 8.28L149.10 8.28L149.60 8.28L150.10 8.28L150.60 8.29L151.10 8.29L151.60 8.29L152.10 8.29L152.60 8.29L153.10 8.30L153.60 8.30L154.10 8.30L154.60 8.30L155.10 8.30L155.60 8.31L156.10 8.31L156.60 8.31L157.10 8.31L157.60 8.31L158.10 8.32L158.60 8.32L159.10 8.32L159.60 8.32L160.10 8.32L160.60 8.33L161.10 8.33L161.60 8.33L162.10 8.33L162.60 8.34L163.10 8.34L163.60 8.34L164.10 8.34L164.60 8.35L165.10 8.35L165.60 8.35L166.10 8.35L166.60 8.36L167.10 8.36L167.60 8.36L168.10 8.36L168.60 8.37L169.10 8.37L169.60 8.37L170.10 8.38L170.60 8.38L171.10 8.38L171.60 8.38L172.10 8.39L172.60 8.39L173.10 8.39L173.60 8.40L174.10 8.40L174.60 8.40L175.10 8.40L175.60 8.41L176.10 8.41L176.60 8.41L177.10 8.42L177.60 8.42L178.10 8.42L178.60 8.43L179.10 8.43L179.60 8.43L180.10 8.44L180.60 8.44L181.10 8.44L181.60 8.45L182.10 8.45L182.60 8.45L183.10 8.46L183.60 8.46L184.10 8.46L184.60 8.47L185.10 8.47L185.60 8.47L186.10 8.48L186.60 8.48L187.10 8.49L187.60 8.49L188.10 8.49L188.60 8.50L189.10 8.50L189.60 8.50L190.10 8.51L190.60 8.51L191.10 8.52L191.60 8.52L192.10 8.53L192.60 8.53L193.10 8.53L193.60 8.54L194.10 8.54L194.60 8.55L195.10 8.55L195.60 8.55L196.10 8.56L196.60 8.56L197.10 8.57L197.60 8.57L198.10 8.58L198.60 8.58L199.10 8.59L199.60 8.59L200.10 8.60L200.60 8.60L201.10 8.61L201.60 8.61L202.10 8.61L202.60 8.62L203.10 8.62L203.60 8.63L204.10 8.63L204.60 8.64L205.10 8.65L205.60 8.65L206.10 8.66L206.60 8.66L207.10 8.67L207.60 8.67L208.10 8.68L208.60 8.68L209.10 8.69L209.60 8.69L210.10 8.70L210.60 8.71L211.10 8.71L211.60 8.72L212.10 8.72L212.60 8.73L213.10 8.73L213.60 8.74L214.10 8.75L214.60 8.75L215.10 8.76L215.60 8.77L216.10 8.77L216.60 8.78L217.10 8.78L217.60 8.79L218.10 8.80L218.60 8.80L219.10 8.81L219.60 8.82L220.10 8.82L220.60 8.83L221.10 8.84L221.60 8.84L222.10 8.85L222.60 8.86L223.10 8.87L223.60 8.87L224.10 8.88L224.60 8.89L225.10 8.90L225.60 8.90L226.10 8.91L226.60 8.92L227.10 8.93L227.60 8.93L228.10 8.94L228.60 8.95L229.10 8.96L229.60 8.97L230.10 8.98L230.60 8.98L231.10 8.99L231.60 9.00L232.10 9.01L232.60 9.02L233.10 9.03L233.60 9.04L234.10 9.04L234.60 9.05L235.10 9.06L235.60 9.07L236.10 9.08L236.60 9.09L237.10 9.10L237.60 9.11L238.10 9.12L238.60 9.13L239.10 9.14L239.60 9.15L240.10 9.16L240.60 9.17L241.10 9.18L241.60 9.19L242.10 9.20L242.60 9.21L243.10 9.22L243.60 9.23L244.10 9.24L244.60 9.25L245.10 9.26L245.60 9.27L246.10 9.28L246.60 9.29L247.10 9.30L247.60 9.31L248.10 9.32L248.60 9.33L249.10 9.34L249.60 9.35L250.10 9.36L250.60 9.38L251.10 9.39L251.60 9.40L252.10 9.41L252.60 9.42L253.10 9.43L253.60 9.44L254.10 9.46L254.60 9.47L255.10 9.48L255.60 9.49L256.10 9.50L256.60 9.52L257.10 9.53L257.60 9.54L258.10 9.55L258.60 9.57L259.10 9.58L259.60 9.59L260.10 9.60L260.60 9.62L261.10 9.63L261.60 9.64L262.10 9.66L262.60 9.67L263.10 9.69L263.60 9.70L264.10 9.71L264.60 9.73L265.10 9.74L265.60 9.76L266.10 9.77L266.60 9.79L267.10 9.80L267.60 9.82L268.10 9.83L268.60 9.85L269.10 9.86L269.60 9.88L270.10 9.89L270.60 9.91L271.10 9.92L271.60 9.94L272.10 9.96L272.60 9.97L273.10 9.99L273.60 10.01L274.10 10.03L274.60 10.04L275.10 10.06L275.60 10.08L276.10 10.10L276.60 10.12L277.10 10.14L277.60 10.16L278.10 10.18L278.60 10.20L279.10 10.23L279.60 10.25L280.10 10.27L280.60 10.30L281.10 10.32L281.60 10.35L282.10 10.38L282.60 10.40L283.10 10.43L283.60 10.46L284.10 10.48L284.60 10.51L285.10 10.54L285.60 10.57L286.10 10.60L286.60 10.63L287.10 10.66L287.60 10.70L288.10 10.73L288.60 10.76L289.10 10.79L289.60 10.82L290.10 10.86L290.60 10.89L291.10 10.93L291.60 10.96L292.10 10.99L292.60 11.03L293.10 11.06L293.60 11.10L294.10 11.13L294.60 11.17L295.10 11.21L295.60 11.25L296.10 11.28L296.60 11.32L297.10 11.36L297.60 11.40L298.10 11.44L298.60 11.48L299.10 11.52L299.60 11.56L300.10 11.60L300.60 11.65L301.10 11.69L301.60 11.73L302.10 11.78L302.60 11.82L303.10 11.86L303.60 11.91L304.10 11.96L304.60 12.00L305.10 12.05L305.60 12.10L306.10 12.15L306.60 12.19L307.10 12.24L307.60 12.29L308.10 12.35L308.60 12.40L309.10 12.45L309.60 12.50L310.10 12.55L310.60 12.61L311.10 12.66L311.60 12.72L312.10 12.77L312.60 12.83L313.10 12.89L313.60 12.94L314.10 13.00L314.60 13.06L315.10 13.12L315.60 13.18L316.10 13.24L316.60 13.30L317.10 13.37L317.60 13.43L318.10 13.49L318.60 13.55L319.10 13.62L319.60 13.68L320.10 13.75L320.60 13.81L321.10 13.88L321.60 13.95L322.10 14.02L322.60 14.09L323.10 14.16L323.60 14.23L324.10 14.30L324.60 14.37L325.10 14.45L325.60 14.52L326.10 14.59L326.60 14.67L327.10 14.75L327.60 14.82L328.10 14.90L328.60 14.98L329.10 15.06L329.60 15.14L330.10 15.22L330.60 15.31L331.10 15.39L331.60 15.47L332.10 15.56L332.60 15.64L333.10 15.73L333.60 15.82L334.10 15.91L334.60 16.00L335.10 16.09L335.60 16.18L336.10 16.27L336.60 16.36L337.10 16.46L337.60 16.55L338.10 16.64L338.60 16.74L339.10 16.84L339.60 16.94L340.10 17.03L340.60 17.13L341.10 17.23L341.60 17.33L342.10 17.44L342.60 17.54L343.10 17.65L343.60 17.75L344.10 17.86L344.60 17.97L345.10 18.07L345.60 18.18L346.10 18.29L346.60 18.41L347.10 18.52L347.60 18.63L348.10 18.75L348.60 18.87L349.10 18.98L349.60 19.10L350.10 19.22L350.60 19.34L351.10 19.46L351.60 19.59L352.10 19.71L352.60 19.84L353.10 19.96L353.60 20.09L354.10 20.22L354.60 20.35L355.10 20.48L355.60 20.61L356.10 20.75L356.60 20.88L357.10 21.02L357.60 21.16L358.10 21.29L358.60 21.43L359.10 21.57L359.60 21.72L360.10 21.86L360.60 22.00L361.10 22.15L361.60 22.30L362.10 22.45L362.60 22.59L363.10 22.75L363.60 22.90L364.10 23.05L364.60 23.20L365.10 23.36L365.60 23.52L366.10 23.67L366.60 23.83L367.10 23.99L367.60 24.15L368.10 24.32L368.60 24.48L369.10 24.65L369.60 24.81L370.10 24.98L370.60 25.15L371.10 25.32L371.60 25.49L372.10 25.66L372.60 25.84L373.10 26.01L373.60 26.19L374.10 26.37L374.60 26.55L375.10 26.73L375.60 26.91L376.10 27.09L376.60 27.27L377.10 27.46L377.60 27.64L378.10 27.83L378.60 28.02L379.10 28.21L379.60 28.40L380.10 28.59L380.60 28.79L381.10 28.98L381.60 29.17L382.10 29.37L382.60 29.57L383.10 29.77L383.60 29.97L384.10 30.17L384.60 30.37L385.10 30.57L385.60 30.78L386.10 30.99L386.60 31.19L387.10 31.40L387.60 31.61L388.10 31.82L388.60 32.03L389.10 32.24L389.60 32.46L390.10 32.67L390.60 32.88L391.10 33.10L391.60 33.32L392.10 33.54L392.60 33.76L393.10 33.98L393.60 34.20L394.10 34.42L394.60 34.64L395.10 34.87L395.60 35.09L396.10 35.32L396.60 35.55L397.10 35.77L397.60 36.00L398.10 36.23L398.60 36.46L399.10 36.69L399.60 36.93L400.10 37.16L400.60 37.39L401.10 37.63L401.60 37.86L402.10 38.10L402.60 38.34L403.10 38.58L403.60 38.81L404.10 39.05L404.60 39.29L405.10 39.53L405.60 39.78L406.10 40.02L406.60 40.26L407.10 40.51L407.60 40.75L408.10 40.99L408.60 41.24L409.10 41.49L409.60 41.73L410.10 41.98L410.60 42.23L411.10 42.48L411.60 42.73L412.10 42.97L412.60 43.22L413.10 43.48L413.60 43.73L414.10 43.98L414.60 44.23L415.10 44.48L415.60 44.73L416.10 44.99L416.60 45.24L417.10 45.50L417.60 45.75L418.10 46.00L418.60 46.26L419.10 46.51L419.60 46.77L420.10 47.03L420.60 47.28L421.10 47.54L421.60 47.79L422.10 48.05L422.60 48.31L423.10 48.57L423.60 48.82L424.10 49.08L424.60 49.34L425.10 49.60L425.60 49.85L426.10 50.11L426.60 50.37L427.10 50.63L427.60 50.89L428.10 51.14L428.60 51.40L429.10 51.66L429.60 51.92L430.10 52.18L430.60 52.44L431.10 52.69L431.60 52.95L432.10 53.21L432.60 53.47L433.10 53.73L433.60 53.98L434.10 54.24L434.60 54.50L435.10 54.75L435.60 55.01L436.10 55.27L436.20 55.32" fill="none" stroke="#000000" stroke-width="1.20" stroke-dasharray="2.5 5.8" stroke-dashoffset="0.00" stroke-linejoin="round" />
</g>
<g clip-path="url(#cb)">
<path d="M97.60 392.80L98.10 392.89L98.60 392.99L99.10 393.11L99.60 393.24L100.10 393.39L100.60 393.55L101.10 393.72L101.60 393.89L102.10 394.08L102.60 394.28L103.10 394.52L103.60 394.77L104.10 395.04L104.60 395.32L105.10 395.60L105.60 395.89L106.10 396.20L106.60 396.53L107.10 396.87L107.60 397.21L108.10 397.57L108.60 397.93L109.10 398.29L109.60 398.67L110.10 399.06L110.60 399.46L111.10 399.87L111.60 399.79L112.10 400.46L112.60 401.10L113.10 401.71L113.60 402.30L114.10 402.86L114.60 403.39L115.10 403.90L115.60 404.39L116.10 404.86L116.60 405.32L117.10 405.76L117.60 406.19L118.10 406.60L118.60 407.00L119.10 407.37L119.60 407.73L120.10 408.08L120.60 408.40L121.10 408.71L121.60 409.00L122.10 409.27L122.60 409.54L123.10 409.79L123.60 410.04L124.10 410.28L124.60 410.51L125.10 410.74L125.60 410.97L126.10 411.20L126.60 411.43L127.10 411.65L127.60 411.87L128.10 412.09L128.60 412.30L129.10 412.51L129.60 412.72L130.10 412.93L130.60 413.13L131.10 413.33L131.60 413.53L132.10 413.73L132.60 413.92L133.10 414.12L133.60 414.31L134.10 414.51L134.60 414.70L135.10 414.89L135.60 415.09L136.10 415.28L136.60 415.47L137.10 415.66L137.60 415.85L138.10 416.03L138.60 416.22L139.10 416.40L139.60 416.59L140.10 416.77L140.60 416.94L141.10 417.12L141.60 417.29L142.10 417.47L142.60 417.64L143.10 417.80L143.60 417.97L144.10 418.13L144.60 418.28L145.10 418.44L145.60 418.59L146.10 418.74L146.60 418.89L147.10 419.03L147.60 419.18L148.10 419.32L148.60 419.46L149.10 419.60L149.60 419.74L150.10 419.87L150.60 420.01L151.10 420.14L151.60 420.27L152.10 420.40L152.60 420.53L153.10 420.66L153.60 420.78L154.10 420.90L154.60 421.03L155.10 421.15L155.60 421.27L156.10 421.39L156.60 421.50L157.10 421.62L157.60 421.73L158.10 421.85L158.60 421.96L159.10 422.07L159.60 422.18L160.10 422.29L160.60 422.40L161.10 422.50L161.60 422.61L162.10 422.71L162.60 422.82L163.10 422.92L163.60 423.02L164.10 423.12L164.60 423.22L165.10 423.32L165.60 423.42L166.10 423.51L166.60 423.61L167.10 423.70L167.60 423.79L168.10 423.88L168.60 423.97L169.10 424.06L169.60 424.15L170.10 424.23L170.60 424.32L171.10 424.40L171.60 424.48L172.10 424.56L172.60 424.64L173.10 424.71L173.60 424.79L174.10 424.86L174.60 424.93L175.10 425.00L175.60 425.08L176.10 425.15L176.60 425.22L177.10 425.28L177.60 425.35L178.10 425.42L178.60 425.49L179.10 425.56L179.60 425.62L180.10 425.69L180.60 425.76L181.10 425.83L181.60 425.89L182.10 425.96L182.60 426.03L183.10 426.10L183.60 426.17L184.10 426.24L184.60 426.31L185.10 426.38L185.60 426.45L186.10 426.52L186.60 426.59L187.10 426.66L187.60 426.73L188.10 426.78L188.60 426.74L189.10 426.69L189.60 426.65L190.10 426.61L190.60 426.57L191.10 426.52L191.60 426.48L192.10 426.44L192.60 426.39L193.10 426.35L193.60 426.30L194.10 426.26L194.60 426.21L195.10 426.17L195.60 426.12L196.10 426.07L196.60 426.03L197.10 425.98L197.60 425.93L198.10 425.88L198.60 425.83L199.10 425.78L199.60 425.72L200.10 425.67L200.60 425.62L201.10 425.56L201.60 425.51L202.10 425.46L202.60 425.41L203.10 425.36L203.60 425.31L204.10 425.27L204.60 425.23L205.10 425.19L205.60 425.16L206.10 425.12L206.60 425.08L207.10 425.04L207.60 425.00L208.10 424.96L208.60 424.93L209.10 424.90L209.60 424.87L210.10 424.85L210.60 424.83L211.10 424.81L211.60 424.80L212.10 424.80L212.60 424.80L213.10 424.80L213.60 424.81L214.10 424.81L214.60 424.82L215.10 424.83L215.60 424.84L216.10 424.85L216.60 424.86L217.10 424.87L217.60 424.89L218.10 424.90L218.60 424.93L219.10 424.98L219.60 425.05L220.10 425.12L220.60 425.21L221.10 425.31L221.60 425.41L222.10 425.52L222.60 425.65L223.10 425.81L223.60 425.99L224.10 426.19L224.60 426.41L225.10 426.65L225.60 426.94L226.10 427.27L226.60 427.64L227.10 428.04L227.60 428.46L228.10 428.89L228.60 429.33L229.10 429.80L229.60 430.29L230.10 430.81L230.60 431.34L231.10 431.89L231.60 432.46L232.10 433.05L232.60 433.67L233.10 434.31L233.60 434.96L234.10 435.62L234.60 436.28L235.10 436.93L235.60 437.58L236.10 438.22L236.60 438.87L237.10 439.52L237.60 440.18L238.10 440.84L238.60 441.51L239.10 442.20L239.60 442.89L240.10 443.60L240.60 444.33L241.10 445.08L241.60 445.85L242.10 446.63L242.60 447.42L243.10 448.22L243.60 449.01L244.10 449.80L244.60 450.58L245.10 451.35L245.60 452.11L246.10 452.87L246.60 453.63L247.10 454.39L247.60 455.14L248.10 455.89L248.60 456.64L249.10 457.39L249.60 458.13L250.10 458.88L250.60 459.63L251.10 460.37L251.60 461.12L252.10 461.86L252.60 462.61L253.10 463.35L253.60 464.10L254.10 464.85L254.60 465.60L255.10 466.35L255.60 467.10L256.10 467.86L256.60 468.62L257.10 469.38L257.60 470.15L258.10 470.92L258.60 471.68L259.10 472.45L259.60 473.22L260.10 473.98L260.60 474.75L261.10 475.51L261.60 476.27L262.10 477.03L262.60 477.78L263.10 478.53L263.60 479.27L264.10 480.00L264.60 480.73L265.10 481.46L265.60 482.17L266.10 482.89L266.60 483.60L267.10 484.31L267.60 485.01L268.10 485.71L268.60 486.41L269.10 487.11L269.60 487.80L270.10 488.49L270.60 489.17L271.10 489.85L271.60 490.53L272.10 491.20L272.60 491.87L273.10 492.54L273.60 493.20L274.10 493.85L274.60 494.50L275.10 495.14L275.60 495.78L276.10 496.42L276.60 497.05L277.10 497.68L277.60 498.30L278.10 498.92L278.60 499.53L279.10 500.14L279.60 500.75L280.10 501.36L280.60 501.96L281.10 502.56L281.60 503.16L282.10 503.75L282.60 504.34L283.10 504.93L283.60 505.52L284.10 506.10L284.60 506.69L285.10 507.27L285.60 507.85L286.10 508.43L286.60 509.00L287.10 509.58L287.60 510.16L288.10 510.73L288.60 511.30L289.10 511.87L289.60 512.44L290.10 513.01L290.60 513.58L291.10 514.14L291.60 514.71L292.10 515.27L292.60 515.83L293.10 516.39L293.60 516.94L294.10 517.50L294.60 518.05L295.10 518.60L295.60 519.15L296.10 519.69L296.60 520.24L297.10 520.78L297.60 521.32L298.10 521.86L298.60 522.39L299.10 522.92L299.60 523.45L300.10 523.98L300.60 524.50L301.10 525.03L301.60 525.54L302.10 526.05L302.60 526.56L303.10 527.06L303.60 527.56L304.10 528.06L304.60 528.56L305.10 529.05L305.60 529.55L306.10 530.04L306.60 530.53L307.10 531.02L307.60 531.51L308.10 532.00L308.60 532.49L309.10 532.99L309.60 533.48L310.10 533.98L310.60 534.48L311.10 534.99L311.60 535.50L312.10 536.01L312.60 536.53L313.10 537.05L313.60 537.57L314.10 538.10L314.60 538.63L315.10 539.16L315.60 539.69L316.10 540.22L316.60 540.74L317.10 541.27L317.60 541.78L318.10 542.30L318.60 542.80L319.10 543.30L319.60 543.79L320.10 544.28L320.60 544.77L321.10 545.26L321.60 545.75L322.10 546.23L322.60 546.71L323.10 547.19L323.60 547.66L324.10 548.13L324.60 548.61L325.10 549.08L325.60 549.55L326.10 550.01L326.60 550.48L327.10 550.94L327.60 551.40L328.10 551.87L328.60 552.33L329.10 552.79L329.60 553.25L330.10 553.70L330.60 554.16L331.10 554.62L331.60 555.07L332.10 555.53L332.60 555.98L333.10 556.43L333.60 556.88L334.10 557.32L334.60 557.76L335.10 558.21L335.60 558.65L336.10 559.09L336.60 559.53L337.10 559.96L337.60 560.40L338.10 560.84L338.60 561.27L339.10 561.71L339.60 562.14L340.10 562.58L340.60 563.01L341.10 563.45L341.60 563.88L342.10 564.31L342.60 564.74L343.10 565.18L343.60 565.61L344.10 566.04L344.60 566.47L345.10 566.90L345.60 567.33L346.10 567.76L346.60 568.18L347.10 568.61L347.60 569.04L348.10 569.46L348.60 569.89L349.10 570.31L349.60 570.73L350.10 571.16L350.60 571.58L351.10 572.00L351.60 572.42L352.10 572.84L352.60 573.25L353.10 573.67L353.60 574.09L354.10 574.50L354.60 574.92L355.10 575.33L355.60 575.74L356.10 576.15L356.60 576.56L357.10 576.97L357.60 577.38L358.10 577.79L358.60 578.20L359.10 578.61L359.60 579.01L360.10 579.41L360.60 579.81L361.10 580.21L361.60 580.61L362.10 581.00L362.60 581.40L363.10 581.78L363.60 582.17L364.10 582.55L364.60 582.93L365.10 583.30L365.60 583.68L366.10 584.05L366.60 584.42L367.10 584.79L367.60 585.16L368.10 585.52L368.60 585.89L369.10 586.25L369.60 586.61L370.10 586.97L370.60 587.33L371.10 587.69L371.60 588.05L372.10 588.40L372.60 588.76L373.10 589.11L373.60 589.46L374.10 589.81L374.60 590.16L375.10 590.51L375.60 590.86L376.10 591.21L376.60 591.56L377.10 591.90L377.60 592.25L378.10 592.59L378.60 592.93L379.10 593.27L379.60 593.62L380.10 593.96L380.60 594.30L381.10 594.64L381.60 594.98L382.10 595.31L382.60 595.65L383.10 595.99L383.60 596.33L384.10 596.66L384.60 597.00L385.10 597.34L385.60 597.67L386.10 598.00L386.60 598.34L387.10 598.67L387.60 599.00L388.10 599.33L388.60 599.66L389.10 599.99L389.60 600.31L390.10 600.64L390.60 600.96L391.10 601.28L391.60 601.60L392.10 601.91L392.60 602.23L393.10 602.54L393.60 602.85L394.10 603.16L394.60 603.47L395.10 603.77L395.60 604.08L396.10 604.38L396.60 604.68L397.10 604.98L397.60 605.28L398.10 605.58L398.60 605.87L399.10 606.17L399.60 606.46L400.10 606.75L400.60 607.03L401.10 607.32L401.60 607.60L402.10 607.88L402.60 608.16L403.10 608.44L403.60 608.71L404.10 608.98L404.60 609.25L405.10 609.51L405.60 609.78L406.10 610.04L406.60 610.30L407.10 610.56L407.60 610.81L408.10 611.07L408.60 611.32L409.10 611.58L409.60 611.83L410.10 612.08L410.60 612.33L411.10 612.57L411.60 612.82L412.10 613.07L412.60 613.32L413.10 613.57L413.60 613.81L414.10 614.06L414.60 614.31L415.10 614.55L415.60 614.80L415.70 614.85" fill="none" stroke="#0000ff" stroke-width="2.35" stroke-dasharray="15 8.7 3.4 8.7" stroke-dashoffset="0.20" stroke-linejoin="round" />
<path d="M97.60 388.70L98.10 388.70L98.60 388.71L99.10 388.73L99.60 388.76L100.10 388.79L100.60 388.83L101.10 388.87L101.60 388.93L102.10 389.10L102.60 389.38L103.10 389.72L103.60 390.12L104.10 390.52L104.60 390.95L105.10 391.47L105.60 392.06L106.10 392.68L106.60 393.31L107.10 393.92L107.60 394.53L108.10 395.15L108.60 395.79L109.10 396.06L109.60 396.88L110.10 397.66L110.60 398.40L111.10 399.11L111.60 399.79L112.10 400.46L112.60 401.10L113.10 401.71L113.60 402.30L114.10 402.86L114.60 403.39L115.10 403.90L115.60 404.39L116.10 404.86L116.60 405.32L117.10 405.76L117.60 406.19L118.10 406.60L118.60 407.00L119.10 407.37L119.60 407.73L120.10 408.08L120.60 408.40L121.10 408.71L121.60 409.00L122.10 409.27L122.60 409.54L123.10 409.79L123.60 410.04L124.10 410.28L124.60 410.51L125.10 410.74L125.60 410.97L126.10 411.20L126.60 411.43L127.10 411.65L127.60 411.87L128.10 412.09L128.60 412.30L129.10 412.51L129.60 412.72L130.10 412.93L130.60 413.13L131.10 413.33L131.60 413.53L132.10 413.73L132.60 413.92L133.10 414.12L133.60 414.31L134.10 414.51L134.60 414.70L135.10 414.89L135.60 415.09L136.10 415.28L136.60 415.47L137.10 415.66L137.60 415.85L138.10 416.03L138.60 416.22L139.10 416.40L139.60 416.59L140.10 416.77L140.60 416.94L141.10 417.12L141.60 417.29L142.10 417.47L142.60 417.64L143.10 417.80L143.60 417.97L144.10 418.13L144.60 418.28L145.10 418.44L145.60 418.59L146.10 418.74L146.60 418.89L147.10 419.03L147.60 419.18L148.10 419.32L148.60 419.46L149.10 419.60L149.60 419.74L150.10 419.87L150.60 420.01L151.10 420.14L151.60 420.27L152.10 420.40L152.60 420.53L153.10 420.66L153.60 420.78L154.10 420.90L154.60 421.03L155.10 421.15L155.60 421.27L156.10 421.39L156.60 421.50L157.10 421.62L157.60 421.73L158.10 421.85L158.60 421.96L159.10 422.07L159.60 422.18L160.10 422.29L160.60 422.40L161.10 422.50L161.60 422.61L162.10 422.71L162.60 422.82L163.10 422.92L163.60 423.02L164.10 423.12L164.60 423.22L165.10 423.32L165.60 423.42L166.10 423.51L166.60 423.61L167.10 423.70L167.60 423.79L168.10 423.88L168.60 423.97L169.10 424.06L169.60 424.15L170.10 424.23L170.60 424.32L171.10 424.40L171.60 424.48L172.10 424.56L172.60 424.64L173.10 424.71L173.60 424.79L174.10 424.86L174.60 424.93L175.10 425.00L175.60 425.08L176.10 425.15L176.60 425.22L177.10 425.28L177.60 425.35L178.10 425.42L178.60 425.49L179.10 425.56L179.60 425.62L180.10 425.69L180.60 425.76L181.10 425.83L181.60 425.89L182.10 425.96L182.60 426.03L183.10 426.10L183.60 426.17L184.10 426.24L184.60 426.31L185.10 426.38L185.60 426.45L186.10 426.52L186.60 426.59L187.10 426.66L187.60 426.73L188.10 426.80L188.60 426.87L189.10 426.94L189.60 427.01L190.10 427.08L190.60 427.15L191.10 427.21L191.60 427.28L192.10 427.35L192.60 427.41L193.10 427.48L193.60 427.54L194.10 427.60L194.60 427.67L195.10 427.73L195.60 427.79L196.10 427.85L196.60 427.91L197.10 427.96L197.60 428.02L198.10 428.07L198.60 428.13L199.10 428.18L199.60 428.23L200.10 428.29L200.60 428.34L201.10 428.39L201.60 428.44L202.10 428.49L202.60 428.55L203.10 428.60L203.60 428.65L204.10 428.70L204.60 428.76L205.10 428.81L205.60 428.87L206.10 428.92L206.60 428.97L207.10 429.03L207.60 429.09L208.10 429.14L208.60 429.20L209.10 429.25L209.60 429.31L210.10 429.37L210.60 429.42L211.10 429.48L211.60 429.53L212.10 429.59L212.60 429.65L213.10 429.71L213.60 429.76L214.10 429.82L214.60 429.88L215.10 429.93L215.60 429.99L216.10 430.05L216.60 430.10L217.10 430.16L217.60 430.22L218.10 430.27L218.60 430.33L219.10 430.39L219.60 430.44L220.10 430.50L220.60 430.56L221.10 430.61L221.60 430.67L222.10 430.72L222.60 430.78L223.10 430.83L223.60 430.89L224.10 430.94L224.60 430.99L225.10 431.05L225.60 431.10L226.10 431.15L226.60 431.21L227.10 431.26L227.60 431.31L228.10 431.36L228.60 431.41L229.10 431.46L229.60 431.51L230.10 431.56L230.60 431.61L231.10 431.66L231.60 431.71L232.10 431.76L232.60 431.80L233.10 431.85L233.60 431.90L234.10 431.94L234.60 431.99L235.10 432.04L235.60 432.08L236.10 432.13L236.60 432.17L237.10 432.21L237.60 432.26L238.10 432.30L238.60 432.35L239.10 432.39L239.60 432.43L240.10 432.47L240.60 432.52L241.10 432.56L241.60 432.60L242.10 432.64L242.60 432.69L243.10 432.73L243.60 432.77L244.10 432.81L244.60 432.85L245.10 432.89L245.60 432.94L246.10 432.98L246.60 433.02L247.10 433.06L247.60 433.10L248.10 433.14L248.60 433.18L249.10 433.23L249.60 433.27L250.10 433.31L250.60 433.35L251.10 433.39L251.60 433.43L252.10 433.47L252.60 433.52L253.10 433.56L253.60 433.60L254.10 433.64L254.60 433.68L255.10 433.72L255.60 433.76L256.10 433.80L256.60 433.84L257.10 433.89L257.60 433.93L258.10 433.97L258.60 434.01L259.10 434.05L259.60 434.09L260.10 434.13L260.60 434.17L261.10 434.21L261.60 434.25L262.10 434.29L262.60 434.33L263.10 434.37L263.60 434.41L264.10 434.45L264.60 434.49L265.10 434.52L265.60 434.56L266.10 434.60L266.60 434.64L267.10 434.68L267.60 434.72L268.10 434.76L268.60 434.79L269.10 434.83L269.60 434.87L270.10 434.91L270.60 434.94L271.10 434.98L271.60 435.02L272.10 435.06L272.60 435.09L273.10 435.13L273.60 435.17L274.10 435.20L274.60 435.21L275.10 435.23L275.60 435.25L276.10 435.26L276.60 435.28L277.10 435.30L277.60 435.32L278.10 435.34L278.60 435.36L279.10 435.38L279.60 435.40L280.10 435.42L280.60 435.44L281.10 435.46L281.60 435.49L282.10 435.51L282.60 435.53L283.10 435.56L283.60 435.59L284.10 435.62L284.60 435.65L285.10 435.68L285.60 435.71L286.10 435.74L286.60 435.78L287.10 435.81L287.60 435.84L288.10 435.86L288.60 435.89L289.10 435.91L289.60 435.94L290.10 435.95L290.60 435.97L291.10 435.99L291.60 436.00L292.10 436.02L292.60 436.03L293.10 436.04L293.60 436.06L294.10 436.07L294.60 436.08L295.10 436.09L295.60 436.10L296.10 436.11L296.60 436.12L297.10 436.13L297.60 436.15L298.10 436.16L298.60 436.17L299.10 436.18L299.60 436.19L300.10 436.20L300.60 436.21L301.10 436.23L301.60 436.24L302.10 436.25L302.60 436.27L303.10 436.28L303.60 436.29L304.10 436.31L304.60 436.32L305.10 436.33L305.60 436.34L306.10 436.35L306.60 436.36L307.10 436.38L307.60 436.39L308.10 436.39L308.60 436.40L309.10 436.41L309.60 436.42L310.10 436.43L310.60 436.44L311.10 436.44L311.60 436.45L312.10 436.46L312.60 436.46L313.10 436.47L313.60 436.48L314.10 436.48L314.60 436.49L315.10 436.50L315.60 436.50L316.10 436.51L316.60 436.52L317.10 436.52L317.60 436.53L318.10 436.53L318.60 436.54L319.10 436.54L319.60 436.55L320.10 436.56L320.60 436.56L321.10 436.57L321.60 436.57L322.10 436.58L322.60 436.58L323.10 436.59L323.60 436.60L324.10 436.60L324.60 436.61L325.10 436.61L325.60 436.62L326.10 436.63L326.60 436.63L327.10 436.64L327.60 436.65L328.10 436.66L328.60 436.66L329.10 436.67L329.60 436.68L330.10 436.69L330.60 436.69L331.10 436.70L331.60 436.71L332.10 436.71L332.60 436.72L333.10 436.73L333.60 436.73L334.10 436.74L334.60 436.75L335.10 436.75L335.60 436.76L336.10 436.77L336.60 436.77L337.10 436.78L337.60 436.78L338.10 436.78L338.60 436.79L339.10 436.79L339.60 436.79L340.10 436.80L340.60 436.80L341.10 436.80L341.60 436.80L342.10 436.80L342.60 436.80L343.10 436.80L343.60 436.80L344.10 436.80L344.60 436.80L345.10 436.80L345.60 436.80L346.10 436.80L346.60 436.80L347.10 436.80L347.60 436.80L348.10 436.80L348.60 436.80L349.10 436.80L349.60 436.80L350.10 436.80L350.60 436.80L351.10 436.80L351.60 436.80L352.10 436.80L352.60 436.80L353.10 436.80L353.60 436.80L354.10 436.80L354.60 436.80L355.10 436.80L355.60 436.80L356.10 436.80L356.60 436.80L357.10 436.80L357.60 436.80L358.10 436.80L358.60 436.80L359.10 436.80L359.60 436.80L360.10 436.80L360.60 436.81L361.10 436.81L361.60 436.81L362.10 436.81L362.60 436.82L363.10 436.82L363.60 436.82L364.10 436.83L364.60 436.83L365.10 436.84L365.60 436.84L366.10 436.85L366.60 436.85L367.10 436.86L367.60 436.86L368.10 436.87L368.60 436.88L369.10 436.89L369.60 436.89L370.10 436.90L370.60 436.92L371.10 436.94L371.60 436.97L372.10 437.00L372.60 437.04L373.10 437.09L373.60 437.15L374.10 437.21L374.60 437.27L375.10 437.35L375.60 437.49L376.10 437.67L376.60 437.89L377.10 438.11L377.60 438.34L378.10 438.56L378.60 438.76L379.10 438.96L379.60 439.16L380.10 439.36L380.60 439.56L381.10 439.77L381.60 439.98L382.10 440.20L382.60 440.42L383.10 440.65L383.60 440.87L384.10 441.10L384.60 441.33L385.10 441.56L385.60 441.79L386.10 442.04L386.60 442.29L387.10 442.56L387.60 442.85L388.10 443.15L388.60 443.47L389.10 443.82L389.60 444.21L390.10 444.63L390.60 445.08L391.10 445.55L391.60 446.04L392.10 446.55L392.60 447.07L393.10 447.59L393.60 448.11L394.10 448.63L394.60 449.14L395.10 449.64L395.60 450.13L396.10 450.59L396.60 451.04L397.10 451.49L397.60 451.93L398.10 452.37L398.60 452.80L399.10 453.23L399.60 453.66L400.10 454.09L400.60 454.52L401.10 454.95L401.60 455.39L402.10 455.83L402.60 456.27L403.10 456.71L403.60 457.17L404.10 457.63L404.60 458.09L405.10 458.58L405.60 459.07L406.10 459.57L406.60 460.08L407.10 460.60L407.60 461.11L408.10 461.63L408.60 462.14L409.10 462.65L409.60 463.15L410.10 463.64L410.60 464.11L411.10 464.57L411.50 464.93" fill="none" stroke="#00ff00" stroke-width="2.35" stroke-dasharray="18 15.8" stroke-dashoffset="32.35" stroke-linejoin="round" />
<path d="M97.60 379.00L98.10 379.03L98.60 379.13L99.10 379.29L99.60 379.49L100.10 379.75L100.60 380.05L101.10 380.39L101.60 380.76L102.10 381.20L102.60 381.97L103.10 383.02L103.60 384.21L104.10 385.38L104.60 386.51L105.10 387.72L105.60 388.98L106.10 390.21L106.60 391.37L107.10 392.40L107.60 393.37L108.10 394.31L108.60 395.21L109.10 396.06L109.60 396.88L110.10 397.66L110.60 398.40L111.10 399.11L111.60 399.79L112.10 400.46L112.60 401.10L113.10 401.71L113.60 402.30L114.10 402.86L114.60 403.39L115.10 403.90L115.60 404.39L116.10 404.86L116.60 405.32L117.10 405.76L117.60 406.19L118.10 406.60L118.60 407.00L119.10 407.37L119.60 407.73L120.10 408.08L120.60 408.40L121.10 408.71L121.60 409.00L122.10 409.27L122.60 409.54L123.10 409.79L123.60 410.04L124.10 410.28L124.60 410.51L125.10 410.74L125.60 410.97L126.10 411.20L126.60 411.43L127.10 411.65L127.60 411.87L128.10 412.09L128.60 412.30L129.10 412.51L129.60 412.72L130.10 412.93L130.60 413.13L131.10 413.33L131.60 413.53L132.10 413.73L132.60 413.92L133.10 414.12L133.60 414.31L134.10 414.51L134.60 414.70L135.10 414.89L135.60 415.09L136.10 415.28L136.60 415.47L137.10 415.66L137.60 415.85L138.10 416.03L138.60 416.22L139.10 416.40L139.60 416.59L140.10 416.77L140.60 416.94L141.10 417.12L141.60 417.29L142.10 417.47L142.60 417.64L143.10 417.80L143.60 417.97L144.10 418.13L144.60 418.28L145.10 418.44L145.60 418.59L146.10 418.74L146.60 418.89L147.10 419.03L147.60 419.18L148.10 419.32L148.60 419.46L149.10 419.60L149.60 419.74L150.10 419.87L150.60 420.01L151.10 420.14L151.60 420.27L152.10 420.40L152.60 420.53L153.10 420.66L153.60 420.78L154.10 420.90L154.60 421.03L155.10 421.15L155.60 421.27L156.10 421.39L156.60 421.50L157.10 421.62L157.60 421.73L158.10 421.85L158.60 421.96L159.10 422.07L159.60 422.18L160.10 422.29L160.60 422.40L161.10 422.50L161.60 422.61L162.10 422.71L162.60 422.82L163.10 422.92L163.60 423.02L164.10 423.12L164.60 423.22L165.10 423.32L165.60 423.42L166.10 423.51L166.60 423.61L167.10 423.70L167.60 423.79L168.10 423.88L168.60 423.97L169.10 424.06L169.60 424.15L170.10 424.23L170.60 424.32L171.10 424.40L171.60 424.48L172.10 424.56L172.60 424.64L173.10 424.71L173.60 424.79L174.10 424.86L174.60 424.93L175.10 425.00L175.60 425.08L176.10 425.15L176.60 425.22L177.10 425.28L177.60 425.35L178.10 425.42L178.60 425.49L179.10 425.56L179.60 425.62L180.10 425.69L180.60 425.76L181.10 425.83L181.60 425.89L182.10 425.96L182.60 426.03L183.10 426.10L183.60 426.17L184.10 426.24L184.60 426.31L185.10 426.38L185.60 426.45L186.10 426.52L186.60 426.59L187.10 426.66L187.60 426.73L188.10 426.80L188.60 426.87L189.10 426.94L189.60 427.01L190.10 427.08L190.60 427.15L191.10 427.21L191.60 427.28L192.10 427.35L192.60 427.41L193.10 427.48L193.60 427.54L194.10 427.60L194.60 427.67L195.10 427.73L195.60 427.79L196.10 427.85L196.60 427.91L197.10 427.96L197.60 428.02L198.10 428.07L198.60 428.13L199.10 428.18L199.60 428.23L200.10 428.29L200.60 428.34L201.10 428.39L201.60 428.44L202.10 428.49L202.60 428.55L203.10 428.60L203.60 428.65L204.10 428.70L204.60 428.76L205.10 428.81L205.60 428.87L206.10 428.92L206.60 428.97L207.10 429.03L207.60 429.09L208.10 429.14L208.60 429.20L209.10 429.25L209.60 429.31L210.10 429.37L210.60 429.42L211.10 429.48L211.60 429.53L212.10 429.59L212.60 429.65L213.10 429.71L213.60 429.76L214.10 429.82L214.60 429.88L215.10 429.93L215.60 429.99L216.10 430.05L216.60 430.10L217.10 430.16L217.60 430.22L218.10 430.27L218.60 430.33L219.10 430.39L219.60 430.44L220.10 430.50L220.60 430.56L221.10 430.61L221.60 430.67L222.10 430.72L222.60 430.78L223.10 430.83L223.60 430.89L224.10 430.94L224.60 430.99L225.10 431.05L225.60 431.10L226.10 431.15L226.60 431.21L227.10 431.26L227.60 431.31L228.10 431.36L228.60 431.41L229.10 431.46L229.60 431.51L230.10 431.56L230.60 431.61L231.10 431.66L231.60 431.71L232.10 431.76L232.60 431.80L233.10 431.85L233.60 431.90L234.10 431.94L234.60 431.99L235.10 432.04L235.60 432.08L236.10 432.13L236.60 432.17L237.10 432.21L237.60 432.26L238.10 432.30L238.60 432.35L239.10 432.39L239.60 432.43L240.10 432.47L240.60 432.52L241.10 432.56L241.60 432.60L242.10 432.64L242.60 432.69L243.10 432.73L243.60 432.77L244.10 432.81L244.60 432.85L245.10 432.89L245.60 432.94L246.10 432.98L246.60 433.02L247.10 433.06L247.60 433.10L248.10 433.14L248.60 433.18L249.10 433.23L249.60 433.27L250.10 433.31L250.60 433.35L251.10 433.39L251.60 433.43L252.10 433.47L252.60 433.52L253.10 433.56L253.60 433.60L254.10 433.64L254.60 433.68L255.10 433.72L255.60 433.76L256.10 433.80L256.60 433.84L257.10 433.89L257.60 433.93L258.10 433.97L258.60 434.01L259.10 434.05L259.60 434.09L260.10 434.13L260.60 434.17L261.10 434.21L261.60 434.25L262.10 434.29L262.60 434.33L263.10 434.37L263.60 434.41L264.10 434.45L264.60 434.49L265.10 434.52L265.60 434.56L266.10 434.60L266.60 434.64L267.10 434.68L267.60 434.72L268.10 434.76L268.60 434.79L269.10 434.83L269.60 434.87L270.10 434.91L270.60 434.94L271.10 434.98L271.60 435.02L272.10 435.06L272.60 435.09L273.10 435.13L273.60 435.17L274.10 435.20L274.60 435.24L275.10 435.27L275.60 435.31L276.10 435.34L276.60 435.38L277.10 435.41L277.60 435.45L278.10 435.48L278.60 435.52L279.10 435.55L279.60 435.59L280.10 435.62L280.60 435.66L281.10 435.69L281.60 435.73L282.10 435.76L282.60 435.80L283.10 435.83L283.60 435.86L284.10 435.90L284.60 435.93L285.10 435.97L285.60 436.00L286.10 436.04L286.60 436.07L287.10 436.10L287.60 436.14L288.10 436.17L288.60 436.21L289.10 436.24L289.60 436.27L290.10 436.31L290.60 436.34L291.10 436.38L291.60 436.41L292.10 436.44L292.60 436.48L293.10 436.51L293.60 436.55L294.10 436.58L294.60 436.62L295.10 436.65L295.60 436.69L296.10 436.72L296.60 436.76L297.10 436.79L297.60 436.83L298.10 436.86L298.60 436.90L299.10 436.94L299.60 436.97L300.10 437.01L300.60 437.04L301.10 437.08L301.60 437.12L302.10 437.15L302.60 437.19L303.10 437.23L303.60 437.26L304.10 437.30L304.60 437.34L305.10 437.38L305.60 437.41L306.10 437.45L306.60 437.49L307.10 437.53L307.60 437.57L308.10 437.60L308.60 437.64L309.10 437.68L309.60 437.72L310.10 437.76L310.60 437.80L311.10 437.83L311.60 437.87L312.10 437.91L312.60 437.95L313.10 437.99L313.60 438.03L314.10 438.07L314.60 438.11L315.10 438.14L315.60 438.18L316.10 438.22L316.60 438.26L317.10 438.30L317.60 438.34L318.10 438.38L318.60 438.42L319.10 438.46L319.60 438.49L320.10 438.53L320.60 438.57L321.10 438.61L321.60 438.65L322.10 438.69L322.60 438.73L323.10 438.77L323.60 438.80L324.10 438.84L324.60 438.88L325.10 438.92L325.60 438.96L326.10 439.00L326.60 439.03L327.10 439.07L327.60 439.11L328.10 439.15L328.60 439.18L329.10 439.22L329.60 439.26L330.10 439.30L330.60 439.33L331.10 439.37L331.60 439.41L332.10 439.44L332.60 439.48L333.10 439.52L333.60 439.55L334.10 439.59L334.60 439.62L335.10 439.66L335.60 439.70L336.10 439.73L336.60 439.77L337.10 439.80L337.60 439.84L338.10 439.87L338.60 439.91L339.10 439.94L339.60 439.97L340.10 440.01L340.60 440.04L341.10 440.07L341.60 440.11L342.10 440.14L342.60 440.17L343.10 440.21L343.60 440.24L344.10 440.28L344.60 440.31L345.10 440.34L345.60 440.38L346.10 440.41L346.60 440.44L347.10 440.48L347.60 440.51L348.10 440.54L348.60 440.58L349.10 440.61L349.60 440.64L350.10 440.68L350.60 440.71L351.10 440.74L351.60 440.78L352.10 440.81L352.60 440.84L353.10 440.87L353.60 440.91L354.10 440.94L354.60 440.97L355.10 441.00L355.60 441.04L356.10 441.07L356.60 441.10L357.10 441.13L357.60 441.17L358.10 441.20L358.60 441.23L359.10 441.26L359.60 441.29L360.10 441.33L360.60 441.36L361.10 441.39L361.60 441.42L362.10 441.45L362.60 441.48L363.10 441.51L363.60 441.54L364.10 441.57L364.60 441.60L365.10 441.64L365.60 441.67L366.10 441.70L366.60 441.73L367.10 441.76L367.60 441.78L368.10 441.81L368.60 441.84L369.10 441.87L369.60 441.90L370.10 441.93L370.60 441.96L371.10 441.99L371.60 442.02L372.10 442.04L372.60 442.07L373.10 442.10L373.60 442.13L374.10 442.16L374.60 442.18L375.10 442.21L375.60 442.24L376.10 442.26L376.60 442.29L377.10 442.32L377.60 442.34L378.10 442.37L378.60 442.39L379.10 442.42L379.60 442.44L380.10 442.47L380.60 442.49L381.10 442.52L381.60 442.54L382.10 442.57L382.60 442.59L383.10 442.61L383.60 442.64L384.10 442.66L384.60 442.68L385.10 442.71L385.60 442.73L386.10 442.75L386.60 442.77L387.10 442.80L387.60 442.82L388.10 442.84L388.60 442.86L389.10 442.89L389.60 442.91L390.10 442.93L390.60 442.95L391.10 442.97L391.60 442.99L392.10 443.01L392.60 443.03L393.10 443.06L393.60 443.08L394.10 443.10L394.60 443.12L395.10 443.14L395.60 443.16L396.10 443.18L396.60 443.20L397.10 443.22L397.60 443.24L398.10 443.26L398.60 443.28L399.10 443.30L399.60 443.31L400.10 443.33L400.60 443.35L401.10 443.37L401.60 443.39L402.10 443.41L402.60 443.43L403.10 443.45L403.60 443.47L404.10 443.48L404.60 443.50L405.10 443.52L405.60 443.54L406.10 443.56L406.60 443.58L407.10 443.59L407.60 443.61L408.10 443.63L408.60 443.65L409.10 443.66L409.60 443.68L410.10 443.70L410.60 443.72L411.10 443.73L411.60 443.75L412.10 443.77L412.60 443.79L413.10 443.80L413.60 443.82L414.10 443.84L414.60 443.85L415.10 443.87L415.60 443.89L415.70 443.89" fill="none" stroke="#ff0000" stroke-width="2.35" stroke-linejoin="round" />
<path d="M97.60 392.80L98.10 392.89L98.60 392.99L99.10 393.11L99.60 393.24L100.10 393.39L100.60 393.55L101.10 393.72L101.60 393.89L102.10 394.08L102.60 394.28L103.10 394.52L103.60 394.77L104.10 395.04L104.60 395.32L105.10 395.60L105.60 395.89L106.10 396.20L106.60 396.53L107.10 396.87L107.60 397.21L108.10 397.57L108.60 397.93L109.10 398.29L109.60 398.67L110.10 399.06L110.60 399.46L111.10 399.87L111.60 399.79L112.10 400.46L112.60 401.10L113.10 401.71L113.60 402.30L114.10 402.86L114.60 403.39L115.10 403.90L115.60 404.39L116.10 404.86L116.60 405.32L117.10 405.76L117.60 406.19L118.10 406.60L118.60 407.00L119.10 407.37L119.60 407.73L120.10 408.08L120.60 408.40L121.10 408.71L121.60 409.00L122.10 409.27L122.60 409.54L123.10 409.79L123.60 410.04L124.10 410.28L124.60 410.51L125.10 410.74L125.60 410.97L126.10 411.20L126.60 411.43L127.10 411.65L127.60 411.87L128.10 412.09L128.60 412.30L129.10 412.51L129.60 412.72L130.10 412.93L130.60 413.13L131.10 413.33L131.60 413.53L132.10 413.73L132.60 413.92L133.10 414.12L133.60 414.31L134.10 414.51L134.60 414.70L135.10 414.89L135.60 415.09L136.10 415.28L136.60 415.47L137.10 415.66L137.60 415.85L138.10 416.03L138.60 416.22L139.10 416.40L139.60 416.59L140.10 416.77L140.60 416.94L141.10 417.12L141.60 417.29L142.10 417.47L142.60 417.64L143.10 417.80L143.60 417.97L144.10 418.13L144.60 418.28L145.10 418.44L145.60 418.59L146.10 418.74L146.60 418.89L147.10 419.03L147.60 419.18L148.10 419.32L148.60 419.46L149.10 419.60L149.60 419.74L150.10 419.87L150.60 420.01L151.10 420.14L151.60 420.27L152.10 420.40L152.60 420.53L153.10 420.66L153.60 420.78L154.10 420.90L154.60 421.03L155.10 421.15L155.60 421.27L156.10 421.39L156.60 421.50L157.10 421.62L157.60 421.73L158.10 421.85L158.60 421.96L159.10 422.07L159.60 422.18L160.10 422.29L160.60 422.40L161.10 422.50L161.60 422.61L162.10 422.71L162.60 422.82L163.10 422.92L163.60 423.02L164.10 423.12L164.60 423.22L165.10 423.32L165.60 423.42L166.10 423.51L166.60 423.61L167.10 423.70L167.60 423.79L168.10 423.88L168.60 423.97L169.10 424.06L169.60 424.15L170.10 424.23L170.60 424.32L171.10 424.40L171.60 424.48L172.10 424.56L172.60 424.64L173.10 424.71L173.60 424.79L174.10 424.86L174.60 424.93L175.10 425.00L175.60 425.08L176.10 425.15L176.60 425.22L177.10 425.28L177.60 425.35L178.10 425.42L178.60 425.49L179.10 425.56L179.60 425.62L180.10 425.69L180.60 425.76L181.10 425.83L181.60 425.89L182.10 425.96L182.60 426.03L183.10 426.10L183.60 426.17L184.10 426.24L184.60 426.31L185.10 426.38L185.60 426.45L186.10 426.52L186.60 426.59L187.10 426.66L187.60 426.73L188.10 426.78L188.60 426.74L189.10 426.69L189.60 426.65L190.10 426.61L190.60 426.57L191.10 426.52L191.60 426.48L192.10 426.44L192.60 426.39L193.10 426.35L193.60 426.30L194.10 426.26L194.60 426.21L195.10 426.17L195.60 426.12L196.10 426.07L196.60 426.03L197.10 425.98L197.60 425.93L198.10 425.88L198.60 425.83L199.10 425.78L199.60 425.72L200.10 425.67L200.60 425.62L201.10 425.56L201.60 425.51L202.10 425.46L202.60 425.41L203.10 425.36L203.60 425.31L204.10 425.27L204.60 425.23L205.10 425.19L205.60 425.16L206.10 425.12L206.60 425.08L207.10 425.04L207.60 425.00L208.10 424.96L208.60 424.93L209.10 424.90L209.60 424.87L210.10 424.85L210.60 424.83L211.10 424.81L211.60 424.80L212.10 424.80L212.60 424.80L213.10 424.80L213.60 424.81L214.10 424.81L214.60 424.82L215.10 424.83L215.60 424.84L216.10 424.85L216.60 424.86L217.10 424.87L217.60 424.89L218.10 424.90L218.60 424.93L219.10 424.98L219.60 425.05L220.10 425.12L220.60 425.21L221.10 425.31L221.60 425.41L222.10 425.52L222.60 425.65L223.10 425.81L223.60 425.99L224.10 426.19L224.60 426.41L225.10 426.65L225.60 426.94L226.10 427.27L226.60 427.64L227.10 428.04L227.60 428.46L228.10 428.89L228.60 429.33L229.10 429.80L229.60 430.29L230.10 430.81L230.60 431.34L231.10 431.89L231.60 432.46L232.10 433.05L232.60 433.67L233.10 434.31L233.60 434.96L234.10 435.62L234.60 436.28L235.10 436.93L235.60 437.58L236.10 438.22L236.60 438.87L237.10 439.52L237.60 440.18L238.10 440.84L238.60 441.51L239.10 442.20L239.60 442.89L240.10 443.60L240.60 444.33L241.10 445.08L241.60 445.85L242.10 446.63L242.60 447.42L243.10 448.22L243.60 449.01L244.10 449.80L244.60 450.58L245.10 451.35L245.60 452.11L246.10 452.87L246.60 453.63L247.10 454.39L247.60 455.14L248.10 455.89L248.60 456.64L249.10 457.39L249.60 458.13L250.10 458.88L250.60 459.63L251.10 460.37L251.60 461.12L252.10 461.86L252.60 462.61L253.10 463.35L253.60 464.10L254.10 464.85L254.60 465.60L255.10 466.35L255.60 467.10L256.10 467.86L256.60 468.62L257.10 469.38L257.60 470.15L258.10 470.92L258.60 471.68L259.10 472.45L259.60 473.22L260.10 473.98L260.60 474.75L261.10 475.51L261.60 476.27L262.10 477.03L262.60 477.78L263.10 478.53L263.60 479.27L264.10 480.00L264.60 480.73L265.10 481.46L265.60 482.17L266.10 482.89L266.60 483.60L267.10 484.31L267.60 485.01L268.10 485.71L268.60 486.41L269.10 487.11L269.60 487.80L270.10 488.49L270.60 489.17L271.10 489.85L271.60 490.53L272.10 491.20L272.60 491.87L273.10 492.54L273.60 493.20L274.10 493.85L274.60 494.50L275.10 495.14L275.60 495.78L276.10 496.42L276.60 497.05L277.10 497.68L277.60 498.30L278.10 498.92L278.60 499.53L279.10 500.14L279.60 500.75L280.10 501.36L280.60 501.96L281.10 502.56L281.60 503.16L282.10 503.75L282.60 504.34L283.10 504.93L283.60 505.52L284.10 506.10L284.60 506.69L285.10 507.27L285.60 507.85L286.10 508.43L286.60 509.00L287.10 509.58L287.60 510.16L288.10 510.73L288.60 511.30L289.10 511.87L289.60 512.44L290.10 513.01L290.60 513.58L291.10 514.14L291.60 514.71L292.10 515.27L292.60 515.83L293.10 516.39L293.60 516.94L294.10 517.50L294.60 518.05L295.10 518.60L295.60 519.15L296.10 519.69L296.60 520.24L297.10 520.78L297.60 521.32L298.10 521.86L298.60 522.39L299.10 522.92L299.60 523.45L300.10 523.98L300.60 524.50L301.10 525.03L301.60 525.54L302.10 526.05L302.60 526.56L303.10 527.06L303.60 527.56L304.10 528.06L304.60 528.56L305.10 529.05L305.60 529.55L306.10 530.04L306.60 530.53L307.10 531.02L307.60 531.51L308.10 532.00L308.60 532.49L309.10 532.99L309.60 533.48L310.10 533.98L310.60 534.48L311.10 534.99L311.60 535.50L312.10 536.01L312.60 536.53L313.10 537.05L313.60 537.57L314.10 538.10L314.60 538.63L315.10 539.16L315.60 539.69L316.10 540.22L316.60 540.74L317.10 541.27L317.60 541.78L318.10 542.30L318.60 542.80L319.10 543.30L319.60 543.79L320.10 544.28L320.60 544.77L321.10 545.26L321.60 545.75L322.10 546.23L322.60 546.71L323.10 547.19L323.60 547.66L324.10 548.13L324.60 548.61L325.10 549.08L325.60 549.55L326.10 550.01L326.60 550.48L327.10 550.94L327.60 551.40L328.10 551.87L328.60 552.33L329.10 552.79L329.60 553.25L330.10 553.70L330.60 554.16L331.10 554.62L331.60 555.07L332.10 555.53L332.60 555.98L333.10 556.43L333.60 556.88L334.10 557.32L334.60 557.76L335.10 558.21L335.60 558.65L336.10 559.09L336.60 559.53L337.10 559.96L337.60 560.40L338.10 560.84L338.60 561.27L339.10 561.71L339.60 562.14L340.10 562.58L340.60 563.01L341.10 563.45L341.60 563.88L342.10 564.31L342.60 564.74L343.10 565.18L343.60 565.61L344.10 566.04L344.60 566.47L345.10 566.90L345.60 567.33L346.10 567.76L346.60 568.18L347.10 568.61L347.60 569.04L348.10 569.46L348.60 569.89L349.10 570.31L349.60 570.73L350.10 571.16L350.60 571.58L351.10 572.00L351.60 572.42L352.10 572.84L352.60 573.25L353.10 573.67L353.60 574.09L354.10 574.50L354.60 574.92L355.10 575.33L355.60 575.74L356.10 576.15L356.60 576.56L357.10 576.97L357.60 577.38L358.10 577.79L358.60 578.20L359.10 578.61L359.60 579.01L360.10 579.41L360.60 579.81L361.10 580.21L361.60 580.61L362.10 581.00L362.60 581.40L363.10 581.78L363.60 582.17L364.10 582.55L364.60 582.93L365.10 583.30L365.60 583.68L366.10 584.05L366.60 584.42L367.10 584.79L367.60 585.16L368.10 585.52L368.60 585.89L369.10 586.25L369.60 586.61L370.10 586.97L370.60 587.33L371.10 587.69L371.60 588.05L372.10 588.40L372.60 588.76L373.10 589.11L373.60 589.46L374.10 589.81L374.60 590.16L375.10 590.51L375.60 590.86L376.10 591.21L376.60 591.56L377.10 591.90L377.60 592.25L378.10 592.59L378.60 592.93L379.10 593.27L379.60 593.62L380.10 593.96L380.60 594.30L381.10 594.64L381.60 594.98L382.10 595.31L382.60 595.65L383.10 595.99L383.60 596.33L384.10 596.66L384.60 597.00L385.10 597.34L385.60 597.67L386.10 598.00L386.60 598.34L387.10 598.67L387.60 599.00L388.10 599.33L388.60 599.66L389.10 599.99L389.60 600.31L390.10 600.64L390.60 600.96L391.10 601.28L391.60 601.60L392.10 601.91L392.60 602.23L393.10 602.54L393.60 602.85L394.10 603.16L394.60 603.47L395.10 603.77L395.60 604.08L396.10 604.38L396.60 604.68L397.10 604.98L397.60 605.28L398.10 605.58L398.60 605.87L399.10 606.17L399.60 606.46L400.10 606.75L400.60 607.03L401.10 607.32L401.60 607.60L402.10 607.88L402.60 608.16L403.10 608.44L403.60 608.71L404.10 608.98L404.60 609.25L405.10 609.51L405.60 609.78L406.10 610.04L406.60 610.30L407.10 610.56L407.60 610.81L408.10 611.07L408.60 611.32L409.10 611.58L409.60 611.83L410.10 612.08L410.60 612.33L411.10 612.57L411.60 612.82L412.10 613.07L412.60 613.32L413.10 613.57L413.60 613.81L414.10 614.06L414.60 614.31L415.10 614.55L415.60 614.80L416.10 615.05L416.60 615.30L417.10 615.54L417.60 615.79L418.10 616.03L418.60 616.28L419.10 616.52L419.60 616.76L420.10 617.01L420.60 617.25L421.10 617.50L421.60 617.74L422.10 617.99L422.60 618.24L423.10 618.49L423.60 618.74L424.10 618.99L424.60 619.23L425.10 619.48L425.60 619.73L426.10 619.97L426.60 620.21L427.10 620.45L427.60 620.68L428.10 620.92L428.60 621.16L429.10 621.39L429.60 621.62L430.10 621.85L430.60 622.09L431.10 622.32L431.60 622.55L432.10 622.77L432.60 623.00L433.10 623.23L433.60 623.45L434.10 623.67L434.60 623.90L435.10 624.12L435.60 624.34L436.10 624.56L436.20 624.60" fill="none" stroke="#000000" stroke-width="1.20" stroke-dasharray="2.5 5.8" stroke-dashoffset="0.00" stroke-linejoin="round" />
<path d="M97.60 388.70L98.10 388.70L98.60 388.71L99.10 388.73L99.60 388.76L100.10 388.79L100.60 388.83L101.10 388.87L101.60 388.93L102.10 389.10L102.60 389.38L103.10 389.72L103.60 390.12L104.10 390.52L104.60 390.95L105.10 391.47L105.60 392.06L106.10 392.68L106.60 393.31L107.10 393.92L107.60 394.53L108.10 395.15L108.60 395.79L109.10 396.06L109.60 396.88L110.10 397.66L110.60 398.40L111.10 399.11L111.60 399.79L112.10 400.46L112.60 401.10L113.10 401.71L113.60 402.30L114.10 402.86L114.60 403.39L115.10 403.90L115.60 404.39L116.10 404.86L116.60 405.32L117.10 405.76L117.60 406.19L118.10 406.60L118.60 407.00L119.10 407.37L119.60 407.73L120.10 408.08L120.60 408.40L121.10 408.71L121.60 409.00L122.10 409.27L122.60 409.54L123.10 409.79L123.60 410.04L124.10 410.28L124.60 410.51L125.10 410.74L125.60 410.97L126.10 411.20L126.60 411.43L127.10 411.65L127.60 411.87L128.10 412.09L128.60 412.30L129.10 412.51L129.60 412.72L130.10 412.93L130.60 413.13L131.10 413.33L131.60 413.53L132.10 413.73L132.60 413.92L133.10 414.12L133.60 414.31L134.10 414.51L134.60 414.70L135.10 414.89L135.60 415.09L136.10 415.28L136.60 415.47L137.10 415.66L137.60 415.85L138.10 416.03L138.60 416.22L139.10 416.40L139.60 416.59L140.10 416.77L140.60 416.94L141.10 417.12L141.60 417.29L142.10 417.47L142.60 417.64L143.10 417.80L143.60 417.97L144.10 418.13L144.60 418.28L145.10 418.44L145.60 418.59L146.10 418.74L146.60 418.89L147.10 419.03L147.60 419.18L148.10 419.32L148.60 419.46L149.10 419.60L149.60 419.74L150.10 419.87L150.60 420.01L151.10 420.14L151.60 420.27L152.10 420.40L152.60 420.53L153.10 420.66L153.60 420.78L154.10 420.90L154.60 421.03L155.10 421.15L155.60 421.27L156.10 421.39L156.60 421.50L157.10 421.62L157.60 421.73L158.10 421.85L158.60 421.96L159.10 422.07L159.60 422.18L160.10 422.29L160.60 422.40L161.10 422.50L161.60 422.61L162.10 422.71L162.60 422.82L163.10 422.92L163.60 423.02L164.10 423.12L164.60 423.22L165.10 423.32L165.60 423.42L166.10 423.51L166.60 423.61L167.10 423.70L167.60 423.79L168.10 423.88L168.60 423.97L169.10 424.06L169.60 424.15L170.10 424.23L170.60 424.32L171.10 424.40L171.60 424.48L172.10 424.56L172.60 424.64L173.10 424.71L173.60 424.79L174.10 424.86L174.60 424.93L175.10 425.00L175.60 425.08L176.10 425.15L176.60 425.22L177.10 425.28L177.60 425.35L178.10 425.42L178.60 425.49L179.10 425.56L179.60 425.62L180.10 425.69L180.60 425.76L181.10 425.83L181.60 425.89L182.10 425.96L182.60 426.03L183.10 426.10L183.60 426.17L184.10 426.24L184.60 426.31L185.10 426.38L185.60 426.45L186.10 426.52L186.60 426.59L187.10 426.66L187.60 426.73L188.10 426.80L188.60 426.87L189.10 426.94L189.60 427.01L190.10 427.08L190.60 427.15L191.10 427.21L191.60 427.28L192.10 427.35L192.60 427.41L193.10 427.48L193.60 427.54L194.10 427.60L194.60 427.67L195.10 427.73L195.60 427.79L196.10 427.85L196.60 427.91L197.10 427.96L197.60 428.02L198.10 428.07L198.60 428.13L199.10 428.18L199.60 428.23L200.10 428.29L200.60 428.34L201.10 428.39L201.60 428.44L202.10 428.49L202.60 428.55L203.10 428.60L203.60 428.65L204.10 428.70L204.60 428.76L205.10 428.81L205.60 428.87L206.10 428.92L206.60 428.97L207.10 429.03L207.60 429.09L208.10 429.14L208.60 429.20L209.10 429.25L209.60 429.31L210.10 429.37L210.60 429.42L211.10 429.48L211.60 429.53L212.10 429.59L212.60 429.65L213.10 429.71L213.60 429.76L214.10 429.82L214.60 429.88L215.10 429.93L215.60 429.99L216.10 430.05L216.60 430.10L217.10 430.16L217.60 430.22L218.10 430.27L218.60 430.33L219.10 430.39L219.60 430.44L220.10 430.50L220.60 430.56L221.10 430.61L221.60 430.67L222.10 430.72L222.60 430.78L223.10 430.83L223.60 430.89L224.10 430.94L224.60 430.99L225.10 431.05L225.60 431.10L226.10 431.15L226.60 431.21L227.10 431.26L227.60 431.31L228.10 431.36L228.60 431.41L229.10 431.46L229.60 431.51L230.10 431.56L230.60 431.61L231.10 431.66L231.60 431.71L232.10 431.76L232.60 431.80L233.10 431.85L233.60 431.90L234.10 431.94L234.60 431.99L235.10 432.04L235.60 432.08L236.10 432.13L236.60 432.17L237.10 432.21L237.60 432.26L238.10 432.30L238.60 432.35L239.10 432.39L239.60 432.43L240.10 432.47L240.60 432.52L241.10 432.56L241.60 432.60L242.10 432.64L242.60 432.69L243.10 432.73L243.60 432.77L244.10 432.81L244.60 432.85L245.10 432.89L245.60 432.94L246.10 432.98L246.60 433.02L247.10 433.06L247.60 433.10L248.10 433.14L248.60 433.18L249.10 433.23L249.60 433.27L250.10 433.31L250.60 433.35L251.10 433.39L251.60 433.43L252.10 433.47L252.60 433.52L253.10 433.56L253.60 433.60L254.10 433.64L254.60 433.68L255.10 433.72L255.60 433.76L256.10 433.80L256.60 433.84L257.10 433.89L257.60 433.93L258.10 433.97L258.60 434.01L259.10 434.05L259.60 434.09L260.10 434.13L260.60 434.17L261.10 434.21L261.60 434.25L262.10 434.29L262.60 434.33L263.10 434.37L263.60 434.41L264.10 434.45L264.60 434.49L265.10 434.52L265.60 434.56L266.10 434.60L266.60 434.64L267.10 434.68L267.60 434.72L268.10 434.76L268.60 434.79L269.10 434.83L269.60 434.87L270.10 434.91L270.60 434.94L271.10 434.98L271.60 435.02L272.10 435.06L272.60 435.09L273.10 435.13L273.60 435.17L274.10 435.20L274.60 435.21L275.10 435.23L275.60 435.25L276.10 435.26L276.60 435.28L277.10 435.30L277.60 435.32L278.10 435.34L278.60 435.36L279.10 435.38L279.60 435.40L280.10 435.42L280.60 435.44L281.10 435.46L281.60 435.49L282.10 435.51L282.60 435.53L283.10 435.56L283.60 435.59L284.10 435.62L284.60 435.65L285.10 435.68L285.60 435.71L286.10 435.74L286.60 435.78L287.10 435.81L287.60 435.84L288.10 435.86L288.60 435.89L289.10 435.91L289.60 435.94L290.10 435.95L290.60 435.97L291.10 435.99L291.60 436.00L292.10 436.02L292.60 436.03L293.10 436.04L293.60 436.06L294.10 436.07L294.60 436.08L295.10 436.09L295.60 436.10L296.10 436.11L296.60 436.12L297.10 436.13L297.60 436.15L298.10 436.16L298.60 436.17L299.10 436.18L299.60 436.19L300.10 436.20L300.60 436.21L301.10 436.23L301.60 436.24L302.10 436.25L302.60 436.27L303.10 436.28L303.60 436.29L304.10 436.31L304.60 436.32L305.10 436.33L305.60 436.34L306.10 436.35L306.60 436.36L307.10 436.38L307.60 436.39L308.10 436.39L308.60 436.40L309.10 436.41L309.60 436.42L310.10 436.43L310.60 436.44L311.10 436.44L311.60 436.45L312.10 436.46L312.60 436.46L313.10 436.47L313.60 436.48L314.10 436.48L314.60 436.49L315.10 436.50L315.60 436.50L316.10 436.51L316.60 436.52L317.10 436.52L317.60 436.53L318.10 436.53L318.60 436.54L319.10 436.54L319.60 436.55L320.10 436.56L320.60 436.56L321.10 436.57L321.60 436.57L322.10 436.58L322.60 436.58L323.10 436.59L323.60 436.60L324.10 436.60L324.60 436.61L325.10 436.61L325.60 436.62L326.10 436.63L326.60 436.63L327.10 436.64L327.60 436.65L328.10 436.66L328.60 436.66L329.10 436.67L329.60 436.68L330.10 436.69L330.60 436.69L331.10 436.70L331.60 436.71L332.10 436.71L332.60 436.72L333.10 436.73L333.60 436.73L334.10 436.74L334.60 436.75L335.10 436.75L335.60 436.76L336.10 436.77L336.60 436.77L337.10 436.78L337.60 436.78L338.10 436.78L338.60 436.79L339.10 436.79L339.60 436.79L340.10 436.80L340.60 436.80L341.10 436.80L341.60 436.80L342.10 436.80L342.60 436.80L343.10 436.80L343.60 436.80L344.10 436.80L344.60 436.80L345.10 436.80L345.60 436.80L346.10 436.80L346.60 436.80L347.10 436.80L347.60 436.80L348.10 436.80L348.60 436.80L349.10 436.80L349.60 436.80L350.10 436.80L350.60 436.80L351.10 436.80L351.60 436.80L352.10 436.80L352.60 436.80L353.10 436.80L353.60 436.80L354.10 436.80L354.60 436.80L355.10 436.80L355.60 436.80L356.10 436.80L356.60 436.80L357.10 436.80L357.60 436.80L358.10 436.80L358.60 436.80L359.10 436.80L359.60 436.80L360.10 436.80L360.60 436.81L361.10 436.81L361.60 436.81L362.10 436.81L362.60 436.82L363.10 436.82L363.60 436.82L364.10 436.83L364.60 436.83L365.10 436.84L365.60 436.84L366.10 436.85L366.60 436.85L367.10 436.86L367.60 436.86L368.10 436.87L368.60 436.88L369.10 436.89L369.60 436.89L370.10 436.90L370.60 436.92L371.10 436.94L371.60 436.97L372.10 437.00L372.60 437.04L373.10 437.09L373.60 437.15L374.10 437.21L374.60 437.27L375.10 437.35L375.60 437.49L376.10 437.67L376.60 437.89L377.10 438.11L377.60 438.34L378.10 438.56L378.60 438.76L379.10 438.96L379.60 439.16L380.10 439.36L380.60 439.56L381.10 439.77L381.60 439.98L382.10 440.20L382.60 440.42L383.10 440.65L383.60 440.87L384.10 441.10L384.60 441.33L385.10 441.56L385.60 441.79L386.10 442.04L386.60 442.29L387.10 442.56L387.60 442.85L388.10 443.15L388.60 443.47L389.10 443.82L389.60 444.21L390.10 444.63L390.60 445.08L391.10 445.55L391.60 446.04L392.10 446.55L392.60 447.07L393.10 447.59L393.60 448.11L394.10 448.63L394.60 449.14L395.10 449.64L395.60 450.13L396.10 450.59L396.60 451.04L397.10 451.49L397.60 451.93L398.10 452.37L398.60 452.80L399.10 453.23L399.60 453.66L400.10 454.09L400.60 454.52L401.10 454.95L401.60 455.39L402.10 455.83L402.60 456.27L403.10 456.71L403.60 457.17L404.10 457.63L404.60 458.09L405.10 458.58L405.60 459.07L406.10 459.57L406.60 460.08L407.10 460.60L407.60 461.11L408.10 461.63L408.60 462.14L409.10 462.65L409.60 463.15L410.10 463.64L410.60 464.11L411.10 464.57L411.60 465.02L412.10 465.47L412.60 465.91L413.10 466.34L413.60 466.77L414.10 467.20L414.60 467.62L415.10 468.04L415.60 468.45L416.10 468.86L416.60 469.27L417.10 469.68L417.60 470.08L418.10 470.48L418.60 470.88L419.10 471.28L419.60 471.67L420.10 472.06L420.60 472.45L421.10 472.83L421.60 473.21L422.10 473.59L422.60 473.96L423.10 474.34L423.60 474.71L424.10 475.07L424.60 475.44L425.10 475.80L425.60 476.15L426.10 476.50L426.60 476.85L427.10 477.20L427.60 477.55L428.10 477.89L428.60 478.24L429.10 478.58L429.60 478.93L430.10 479.28L430.60 479.63L431.10 479.97L431.60 480.32L432.10 480.67L432.60 481.02L433.10 481.36L433.60 481.71L434.10 482.05L434.60 482.40L435.10 482.74L435.60 483.09L436.10 483.43L436.20 483.50" fill="none" stroke="#000000" stroke-width="1.20" stroke-dasharray="2.5 5.8" stroke-dashoffset="0.00" stroke-linejoin="round" />
<path d="M97.60 379.00L98.10 379.03L98.60 379.13L99.10 379.29L99.60 379.49L100.10 379.75L100.60 380.05L101.10 380.39L101.60 380.76L102.10 381.20L102.60 381.97L103.10 383.02L103.60 384.21L104.10 385.38L104.60 386.51L105.10 387.72L105.60 388.98L106.10 390.21L106.60 391.37L107.10 392.40L107.60 393.37L108.10 394.31L108.60 395.21L109.10 396.06L109.60 396.88L110.10 397.66L110.60 398.40L111.10 399.11L111.60 399.79L112.10 400.46L112.60 401.10L113.10 401.71L113.60 402.30L114.10 402.86L114.60 403.39L115.10 403.90L115.60 404.39L116.10 404.86L116.60 405.32L117.10 405.76L117.60 406.19L118.10 406.60L118.60 407.00L119.10 407.37L119.60 407.73L120.10 408.08L120.60 408.40L121.10 408.71L121.60 409.00L122.10 409.27L122.60 409.54L123.10 409.79L123.60 410.04L124.10 410.28L124.60 410.51L125.10 410.74L125.60 410.97L126.10 411.20L126.60 411.43L127.10 411.65L127.60 411.87L128.10 412.09L128.60 412.30L129.10 412.51L129.60 412.72L130.10 412.93L130.60 413.13L131.10 413.33L131.60 413.53L132.10 413.73L132.60 413.92L133.10 414.12L133.60 414.31L134.10 414.51L134.60 414.70L135.10 414.89L135.60 415.09L136.10 415.28L136.60 415.47L137.10 415.66L137.60 415.85L138.10 416.03L138.60 416.22L139.10 416.40L139.60 416.59L140.10 416.77L140.60 416.94L141.10 417.12L141.60 417.29L142.10 417.47L142.60 417.64L143.10 417.80L143.60 417.97L144.10 418.13L144.60 418.28L145.10 418.44L145.60 418.59L146.10 418.74L146.60 418.89L147.10 419.03L147.60 419.18L148.10 419.32L148.60 419.46L149.10 419.60L149.60 419.74L150.10 419.87L150.60 420.01L151.10 420.14L151.60 420.27L152.10 420.40L152.60 420.53L153.10 420.66L153.60 420.78L154.10 420.90L154.60 421.03L155.10 421.15L155.60 421.27L156.10 421.39L156.60 421.50L157.10 421.62L157.60 421.73L158.10 421.85L158.60 421.96L159.10 422.07L159.60 422.18L160.10 422.29L160.60 422.40L161.10 422.50L161.60 422.61L162.10 422.71L162.60 422.82L163.10 422.92L163.60 423.02L164.10 423.12L164.60 423.22L165.10 423.32L165.60 423.42L166.10 423.51L166.60 423.61L167.10 423.70L167.60 423.79L168.10 423.88L168.60 423.97L169.10 424.06L169.60 424.15L170.10 424.23L170.60 424.32L171.10 424.40L171.60 424.48L172.10 424.56L172.60 424.64L173.10 424.71L173.60 424.79L174.10 424.86L174.60 424.93L175.10 425.00L175.60 425.08L176.10 425.15L176.60 425.22L177.10 425.28L177.60 425.35L178.10 425.42L178.60 425.49L179.10 425.56L179.60 425.62L180.10 425.69L180.60 425.76L181.10 425.83L181.60 425.89L182.10 425.96L182.60 426.03L183.10 426.10L183.60 426.17L184.10 426.24L184.60 426.31L185.10 426.38L185.60 426.45L186.10 426.52L186.60 426.59L187.10 426.66L187.60 426.73L188.10 426.80L188.60 426.87L189.10 426.94L189.60 427.01L190.10 427.08L190.60 427.15L191.10 427.21L191.60 427.28L192.10 427.35L192.60 427.41L193.10 427.48L193.60 427.54L194.10 427.60L194.60 427.67L195.10 427.73L195.60 427.79L196.10 427.85L196.60 427.91L197.10 427.96L197.60 428.02L198.10 428.07L198.60 428.13L199.10 428.18L199.60 428.23L200.10 428.29L200.60 428.34L201.10 428.39L201.60 428.44L202.10 428.49L202.60 428.55L203.10 428.60L203.60 428.65L204.10 428.70L204.60 428.76L205.10 428.81L205.60 428.87L206.10 428.92L206.60 428.97L207.10 429.03L207.60 429.09L208.10 429.14L208.60 429.20L209.10 429.25L209.60 429.31L210.10 429.37L210.60 429.42L211.10 429.48L211.60 429.53L212.10 429.59L212.60 429.65L213.10 429.71L213.60 429.76L214.10 429.82L214.60 429.88L215.10 429.93L215.60 429.99L216.10 430.05L216.60 430.10L217.10 430.16L217.60 430.22L218.10 430.27L218.60 430.33L219.10 430.39L219.60 430.44L220.10 430.50L220.60 430.56L221.10 430.61L221.60 430.67L222.10 430.72L222.60 430.78L223.10 430.83L223.60 430.89L224.10 430.94L224.60 430.99L225.10 431.05L225.60 431.10L226.10 431.15L226.60 431.21L227.10 431.26L227.60 431.31L228.10 431.36L228.60 431.41L229.10 431.46L229.60 431.51L230.10 431.56L230.60 431.61L231.10 431.66L231.60 431.71L232.10 431.76L232.60 431.80L233.10 431.85L233.60 431.90L234.10 431.94L234.60 431.99L235.10 432.04L235.60 432.08L236.10 432.13L236.60 432.17L237.10 432.21L237.60 432.26L238.10 432.30L238.60 432.35L239.10 432.39L239.60 432.43L240.10 432.47L240.60 432.52L241.10 432.56L241.60 432.60L242.10 432.64L242.60 432.69L243.10 432.73L243.60 432.77L244.10 432.81L244.60 432.85L245.10 432.89L245.60 432.94L246.10 432.98L246.60 433.02L247.10 433.06L247.60 433.10L248.10 433.14L248.60 433.18L249.10 433.23L249.60 433.27L250.10 433.31L250.60 433.35L251.10 433.39L251.60 433.43L252.10 433.47L252.60 433.52L253.10 433.56L253.60 433.60L254.10 433.64L254.60 433.68L255.10 433.72L255.60 433.76L256.10 433.80L256.60 433.84L257.10 433.89L257.60 433.93L258.10 433.97L258.60 434.01L259.10 434.05L259.60 434.09L260.10 434.13L260.60 434.17L261.10 434.21L261.60 434.25L262.10 434.29L262.60 434.33L263.10 434.37L263.60 434.41L264.10 434.45L264.60 434.49L265.10 434.52L265.60 434.56L266.10 434.60L266.60 434.64L267.10 434.68L267.60 434.72L268.10 434.76L268.60 434.79L269.10 434.83L269.60 434.87L270.10 434.91L270.60 434.94L271.10 434.98L271.60 435.02L272.10 435.06L272.60 435.09L273.10 435.13L273.60 435.17L274.10 435.20L274.60 435.24L275.10 435.27L275.60 435.31L276.10 435.34L276.60 435.38L277.10 435.41L277.60 435.45L278.10 435.48L278.60 435.52L279.10 435.55L279.60 435.59L280.10 435.62L280.60 435.66L281.10 435.69L281.60 435.73L282.10 435.76L282.60 435.80L283.10 435.83L283.60 435.86L284.10 435.90L284.60 435.93L285.10 435.97L285.60 436.00L286.10 436.04L286.60 436.07L287.10 436.10L287.60 436.14L288.10 436.17L288.60 436.21L289.10 436.24L289.60 436.27L290.10 436.31L290.60 436.34L291.10 436.38L291.60 436.41L292.10 436.44L292.60 436.48L293.10 436.51L293.60 436.55L294.10 436.58L294.60 436.62L295.10 436.65L295.60 436.69L296.10 436.72L296.60 436.76L297.10 436.79L297.60 436.83L298.10 436.86L298.60 436.90L299.10 436.94L299.60 436.97L300.10 437.01L300.60 437.04L301.10 437.08L301.60 437.12L302.10 437.15L302.60 437.19L303.10 437.23L303.60 437.26L304.10 437.30L304.60 437.34L305.10 437.38L305.60 437.41L306.10 437.45L306.60 437.49L307.10 437.53L307.60 437.57L308.10 437.60L308.60 437.64L309.10 437.68L309.60 437.72L310.10 437.76L310.60 437.80L311.10 437.83L311.60 437.87L312.10 437.91L312.60 437.95L313.10 437.99L313.60 438.03L314.10 438.07L314.60 438.11L315.10 438.14L315.60 438.18L316.10 438.22L316.60 438.26L317.10 438.30L317.60 438.34L318.10 438.38L318.60 438.42L319.10 438.46L319.60 438.49L320.10 438.53L320.60 438.57L321.10 438.61L321.60 438.65L322.10 438.69L322.60 438.73L323.10 438.77L323.60 438.80L324.10 438.84L324.60 438.88L325.10 438.92L325.60 438.96L326.10 439.00L326.60 439.03L327.10 439.07L327.60 439.11L328.10 439.15L328.60 439.18L329.10 439.22L329.60 439.26L330.10 439.30L330.60 439.33L331.10 439.37L331.60 439.41L332.10 439.44L332.60 439.48L333.10 439.52L333.60 439.55L334.10 439.59L334.60 439.62L335.10 439.66L335.60 439.70L336.10 439.73L336.60 439.77L337.10 439.80L337.60 439.84L338.10 439.87L338.60 439.91L339.10 439.94L339.60 439.97L340.10 440.01L340.60 440.04L341.10 440.07L341.60 440.11L342.10 440.14L342.60 440.17L343.10 440.21L343.60 440.24L344.10 440.28L344.60 440.31L345.10 440.34L345.60 440.38L346.10 440.41L346.60 440.44L347.10 440.48L347.60 440.51L348.10 440.54L348.60 440.58L349.10 440.61L349.60 440.64L350.10 440.68L350.60 440.71L351.10 440.74L351.60 440.78L352.10 440.81L352.60 440.84L353.10 440.87L353.60 440.91L354.10 440.94L354.60 440.97L355.10 441.00L355.60 441.04L356.10 441.07L356.60 441.10L357.10 441.13L357.60 441.17L358.10 441.20L358.60 441.23L359.10 441.26L359.60 441.29L360.10 441.33L360.60 441.36L361.10 441.39L361.60 441.42L362.10 441.45L362.60 441.48L363.10 441.51L363.60 441.54L364.10 441.57L364.60 441.60L365.10 441.64L365.60 441.67L366.10 441.70L366.60 441.73L367.10 441.76L367.60 441.78L368.10 441.81L368.60 441.84L369.10 441.87L369.60 441.90L370.10 441.93L370.60 441.96L371.10 441.99L371.60 442.02L372.10 442.04L372.60 442.07L373.10 442.10L373.60 442.13L374.10 442.16L374.60 442.18L375.10 442.21L375.60 442.24L376.10 442.26L376.60 442.29L377.10 442.32L377.60 442.34L378.10 442.37L378.60 442.39L379.10 442.42L379.60 442.44L380.10 442.47L380.60 442.49L381.10 442.52L381.60 442.54L382.10 442.57L382.60 442.59L383.10 442.61L383.60 442.64L384.10 442.66L384.60 442.68L385.10 442.71L385.60 442.73L386.10 442.75L386.60 442.77L387.10 442.80L387.60 442.82L388.10 442.84L388.60 442.86L389.10 442.89L389.60 442.91L390.10 442.93L390.60 442.95L391.10 442.97L391.60 442.99L392.10 443.01L392.60 443.03L393.10 443.06L393.60 443.08L394.10 443.10L394.60 443.12L395.10 443.14L395.60 443.16L396.10 443.18L396.60 443.20L397.10 443.22L397.60 443.24L398.10 443.26L398.60 443.28L399.10 443.30L399.60 443.31L400.10 443.33L400.60 443.35L401.10 443.37L401.60 443.39L402.10 443.41L402.60 443.43L403.10 443.45L403.60 443.47L404.10 443.48L404.60 443.50L405.10 443.52L405.60 443.54L406.10 443.56L406.60 443.58L407.10 443.59L407.60 443.61L408.10 443.63L408.60 443.65L409.10 443.66L409.60 443.68L410.10 443.70L410.60 443.72L411.10 443.73L411.60 443.75L412.10 443.77L412.60 443.79L413.10 443.80L413.60 443.82L414.10 443.84L414.60 443.85L415.10 443.87L415.60 443.89L416.10 443.90L416.60 443.92L417.10 443.94L417.60 443.95L418.10 443.97L418.60 443.99L419.10 444.00L419.60 444.02L420.10 444.03L420.60 444.05L421.10 444.07L421.60 444.08L422.10 444.10L422.60 444.11L423.10 444.13L423.60 444.14L424.10 444.16L424.60 444.17L425.10 444.19L425.60 444.20L426.10 444.22L426.60 444.23L427.10 444.25L427.60 444.26L428.10 444.28L428.60 444.29L429.10 444.31L429.60 444.32L430.10 444.33L430.60 444.35L431.10 444.36L431.60 444.38L432.10 444.39L432.60 444.40L433.10 444.42L433.60 444.43L434.10 444.44L434.60 444.46L435.10 444.47L435.60 444.48L436.10 444.50L436.20 444.50" fill="none" stroke="#000000" stroke-width="1.20" stroke-dasharray="2.5 5.8" stroke-dashoffset="0.00" stroke-linejoin="round" />
</g>
<rect x="97.60" y="1.50" width="338.60" height="677.50" fill="none" stroke="#000" stroke-width="1.25"/>
<path d="M97.60 340.50 L436.20 340.50M123.67 1.50 L123.67 6.80M123.67 335.20 L123.67 345.80M123.67 679.00 L123.67 673.70M149.74 1.50 L149.74 6.80M149.74 335.20 L149.74 345.80M149.74 679.00 L149.74 673.70M175.81 1.50 L175.81 6.80M175.81 335.20 L175.81 345.80M175.81 679.00 L175.81 673.70M201.88 1.50 L201.88 6.80M201.88 335.20 L201.88 345.80M201.88 679.00 L201.88 673.70M227.95 1.50 L227.95 11.80M227.95 330.20 L227.95 350.80M227.95 679.00 L227.95 668.70M254.02 1.50 L254.02 6.80M254.02 335.20 L254.02 345.80M254.02 679.00 L254.02 673.70M280.09 1.50 L280.09 6.80M280.09 335.20 L280.09 345.80M280.09 679.00 L280.09 673.70M306.16 1.50 L306.16 6.80M306.16 335.20 L306.16 345.80M306.16 679.00 L306.16 673.70M332.23 1.50 L332.23 6.80M332.23 335.20 L332.23 345.80M332.23 679.00 L332.23 673.70M358.30 1.50 L358.30 11.80M358.30 330.20 L358.30 350.80M358.30 679.00 L358.30 668.70M384.37 1.50 L384.37 6.80M384.37 335.20 L384.37 345.80M384.37 679.00 L384.37 673.70M410.44 1.50 L410.44 6.80M410.44 335.20 L410.44 345.80M410.44 679.00 L410.44 673.70M97.60 8.50 L107.90 8.50M436.20 8.50 L425.90 8.50M97.60 74.90 L107.90 74.90M436.20 74.90 L425.90 74.90M97.60 54.91 L102.90 54.91M436.20 54.91 L430.90 54.91M97.60 43.22 L102.90 43.22M436.20 43.22 L430.90 43.22M97.60 34.92 L102.90 34.92M436.20 34.92 L430.90 34.92M97.60 28.49 L102.90 28.49M436.20 28.49 L430.90 28.49M97.60 23.23 L102.90 23.23M436.20 23.23 L430.90 23.23M97.60 18.79 L102.90 18.79M436.20 18.79 L430.90 18.79M97.60 14.93 L102.90 14.93M436.20 14.93 L430.90 14.93M97.60 11.54 L102.90 11.54M436.20 11.54 L430.90 11.54M97.60 141.30 L107.90 141.30M436.20 141.30 L425.90 141.30M97.60 121.31 L102.90 121.31M436.20 121.31 L430.90 121.31M97.60 109.62 L102.90 109.62M436.20 109.62 L430.90 109.62M97.60 101.32 L102.90 101.32M436.20 101.32 L430.90 101.32M97.60 94.89 L102.90 94.89M436.20 94.89 L430.90 94.89M97.60 89.63 L102.90 89.63M436.20 89.63 L430.90 89.63M97.60 85.19 L102.90 85.19M436.20 85.19 L430.90 85.19M97.60 81.33 L102.90 81.33M436.20 81.33 L430.90 81.33M97.60 77.94 L102.90 77.94M436.20 77.94 L430.90 77.94M97.60 207.70 L107.90 207.70M436.20 207.70 L425.90 207.70M97.60 187.71 L102.90 187.71M436.20 187.71 L430.90 187.71M97.60 176.02 L102.90 176.02M436.20 176.02 L430.90 176.02M97.60 167.72 L102.90 167.72M436.20 167.72 L430.90 167.72M97.60 161.29 L102.90 161.29M436.20 161.29 L430.90 161.29M97.60 156.03 L102.90 156.03M436.20 156.03 L430.90 156.03M97.60 151.59 L102.90 151.59M436.20 151.59 L430.90 151.59M97.60 147.73 L102.90 147.73M436.20 147.73 L430.90 147.73M97.60 144.34 L102.90 144.34M436.20 144.34 L430.90 144.34M97.60 274.10 L107.90 274.10M436.20 274.10 L425.90 274.10M97.60 254.11 L102.90 254.11M436.20 254.11 L430.90 254.11M97.60 242.42 L102.90 242.42M436.20 242.42 L430.90 242.42M97.60 234.12 L102.90 234.12M436.20 234.12 L430.90 234.12M97.60 227.69 L102.90 227.69M436.20 227.69 L430.90 227.69M97.60 222.43 L102.90 222.43M436.20 222.43 L430.90 222.43M97.60 217.99 L102.90 217.99M436.20 217.99 L430.90 217.99M97.60 214.13 L102.90 214.13M436.20 214.13 L430.90 214.13M97.60 210.74 L102.90 210.74M436.20 210.74 L430.90 210.74M97.60 320.51 L102.90 320.51M436.20 320.51 L430.90 320.51M97.60 308.82 L102.90 308.82M436.20 308.82 L430.90 308.82M97.60 300.52 L102.90 300.52M436.20 300.52 L430.90 300.52M97.60 294.09 L102.90 294.09M436.20 294.09 L430.90 294.09M97.60 288.83 L102.90 288.83M436.20 288.83 L430.90 288.83M97.60 284.39 L102.90 284.39M436.20 284.39 L430.90 284.39M97.60 280.53 L102.90 280.53M436.20 280.53 L430.90 280.53M97.60 277.14 L102.90 277.14M436.20 277.14 L430.90 277.14M97.60 643.84 L102.90 643.84M436.20 643.84 L430.90 643.84M97.60 623.27 L102.90 623.27M436.20 623.27 L430.90 623.27M97.60 608.68 L102.90 608.68M436.20 608.68 L430.90 608.68M97.60 597.36 L102.90 597.36M436.20 597.36 L430.90 597.36M97.60 588.11 L102.90 588.11M436.20 588.11 L430.90 588.11M97.60 580.29 L102.90 580.29M436.20 580.29 L430.90 580.29M97.60 573.52 L102.90 573.52M436.20 573.52 L430.90 573.52M97.60 567.54 L102.90 567.54M436.20 567.54 L430.90 567.54M97.60 562.20 L107.90 562.20M436.20 562.20 L425.90 562.20M97.60 527.04 L102.90 527.04M436.20 527.04 L430.90 527.04M97.60 506.47 L102.90 506.47M436.20 506.47 L430.90 506.47M97.60 491.88 L102.90 491.88M436.20 491.88 L430.90 491.88M97.60 480.56 L102.90 480.56M436.20 480.56 L430.90 480.56M97.60 471.31 L102.90 471.31M436.20 471.31 L430.90 471.31M97.60 463.49 L102.90 463.49M436.20 463.49 L430.90 463.49M97.60 456.72 L102.90 456.72M436.20 456.72 L430.90 456.72M97.60 450.74 L102.90 450.74M436.20 450.74 L430.90 450.74M97.60 445.40 L107.90 445.40M436.20 445.40 L425.90 445.40M97.60 410.24 L102.90 410.24M436.20 410.24 L430.90 410.24M97.60 389.67 L102.90 389.67M436.20 389.67 L430.90 389.67M97.60 375.08 L102.90 375.08M436.20 375.08 L430.90 375.08M97.60 363.76 L102.90 363.76M436.20 363.76 L430.90 363.76M97.60 354.51 L102.90 354.51M436.20 354.51 L430.90 354.51M97.60 346.69 L102.90 346.69M436.20 346.69 L430.90 346.69" fill="none" stroke="#000" stroke-width="1.25"/>
<path d="M74.19 3.86L75.57 3.19L77.64 1.19L77.64 15.20M56.31 67.59L54.24 68.26L52.86 70.26L52.17 73.60L52.17 75.60L52.86 78.93L54.24 80.93L56.31 81.60L57.69 81.60L59.76 80.93L61.14 78.93L61.83 75.60L61.83 73.60L61.14 70.26L59.76 68.26L57.69 67.59L56.31 67.59M66.97 80.27L66.28 80.93L66.97 81.60L67.66 80.93L66.97 80.27M74.19 70.26L75.57 69.59L77.64 67.59L77.64 81.60M43.01 133.99L40.94 134.66L39.56 136.66L38.87 140.00L38.87 142.00L39.56 145.33L40.94 147.33L43.01 148.00L44.39 148.00L46.46 147.33L47.84 145.33L48.53 142.00L48.53 140.00L47.84 136.66L46.46 134.66L44.39 133.99L43.01 133.99M53.67 146.67L52.98 147.33L53.67 148.00L54.36 147.33L53.67 146.67M62.96 133.99L60.89 134.66L59.51 136.66L58.82 140.00L58.82 142.00L59.51 145.33L60.89 147.33L62.96 148.00L64.34 148.00L66.41 147.33L67.79 145.33L68.48 142.00L68.48 140.00L67.79 136.66L66.41 134.66L64.34 133.99L62.96 133.99M74.19 136.66L75.57 135.99L77.64 133.99L77.64 148.00M42.85 203.06L44.23 202.39L46.30 200.39L46.30 214.40M58.22 200.39L56.15 201.06L54.77 203.06L54.08 206.40L54.08 208.40L54.77 211.73L56.15 213.73L58.22 214.40L59.60 214.40L61.67 213.73L63.05 211.73L63.74 208.40L63.74 206.40L63.05 203.06L61.67 201.06L59.60 200.39L58.22 200.39M66.34 199.90L75.34 199.90M79.04 194.29L84.54 194.29L81.54 198.03L83.04 198.03L84.04 198.50L84.54 198.96L85.04 200.36L85.04 201.30L84.54 202.70L83.54 203.63L82.04 204.10L80.54 204.10L79.04 203.63L78.54 203.17L78.04 202.23M42.85 269.46L44.23 268.79L46.30 266.79L46.30 280.80M58.22 266.79L56.15 267.46L54.77 269.46L54.08 272.80L54.08 274.80L54.77 278.13L56.15 280.13L58.22 280.80L59.60 280.80L61.67 280.13L63.05 278.13L63.74 274.80L63.74 272.80L63.05 269.46L61.67 267.46L59.60 266.79L58.22 266.79M66.34 266.30L75.34 266.30M83.04 260.69L78.04 267.23L85.54 267.23M83.04 260.69L83.04 270.50M42.85 335.86L44.23 335.19L46.30 333.19L46.30 347.20M58.22 333.19L56.15 333.86L54.77 335.86L54.08 339.20L54.08 341.20L54.77 344.53L56.15 346.53L58.22 347.20L59.60 347.20L61.67 346.53L63.05 344.53L63.74 341.20L63.74 339.20L63.05 335.86L61.67 333.86L59.60 333.19L58.22 333.19M66.34 332.70L75.34 332.70M84.04 327.09L79.04 327.09L78.54 331.30L79.04 330.83L80.54 330.36L82.04 330.36L83.54 330.83L84.54 331.76L85.04 333.16L85.04 334.10L84.54 335.50L83.54 336.43L82.04 336.90L80.54 336.90L79.04 336.43L78.54 335.97L78.04 335.03M52.95 440.76L54.33 440.09L56.40 438.09L56.40 452.10M68.32 438.09L66.25 438.76L64.87 440.76L64.18 444.10L64.18 446.10L64.87 449.43L66.25 451.43L68.32 452.10L69.70 452.10L71.77 451.43L73.15 449.43L73.84 446.10L73.84 444.10L73.15 440.76L71.77 438.76L69.70 438.09L68.32 438.09M80.35 431.99L75.35 438.53L82.85 438.53M80.35 431.99L80.35 441.80M34.29 557.86L35.67 557.19L37.74 555.19L37.74 569.20M49.66 555.19L47.59 555.86L46.21 557.86L45.52 561.20L45.52 563.20L46.21 566.53L47.59 568.53L49.66 569.20L51.04 569.20L53.11 568.53L54.49 566.53L55.18 563.20L55.18 561.20L54.49 557.86L53.11 555.86L51.04 555.19L49.66 555.19M62.96 555.19L60.89 555.86L59.51 557.86L58.82 561.20L58.82 563.20L59.51 566.53L60.89 568.53L62.96 569.20L64.34 569.20L66.41 568.53L67.79 566.53L68.48 563.20L68.48 561.20L67.79 557.86L66.41 555.86L64.34 555.19L62.96 555.19M76.26 555.19L74.19 555.86L72.81 557.86L72.12 561.20L72.12 563.20L72.81 566.53L74.19 568.53L76.26 569.20L77.64 569.20L79.71 568.53L81.09 566.53L81.78 563.20L81.78 561.20L81.09 557.86L79.71 555.86L77.64 555.19L76.26 555.19M47.59 674.66L48.97 673.99L51.04 671.99L51.04 686.00M62.96 671.99L60.89 672.66L59.51 674.66L58.82 678.00L58.82 680.00L59.51 683.33L60.89 685.33L62.96 686.00L64.34 686.00L66.41 685.33L67.79 683.33L68.48 680.00L68.48 678.00L67.79 674.66L66.41 672.66L64.34 671.99L62.96 671.99M76.26 671.99L74.19 672.66L72.81 674.66L72.12 678.00L72.12 680.00L72.81 683.33L74.19 685.33L76.26 686.00L77.64 686.00L79.71 685.33L81.09 683.33L81.78 680.00L81.78 678.00L81.09 674.66L79.71 672.66L77.64 671.99L76.26 671.99M97.01 690.69L94.94 691.36L93.56 693.36L92.87 696.70L92.87 698.70L93.56 702.03L94.94 704.03L97.01 704.70L98.39 704.70L100.46 704.03L101.84 702.03L102.53 698.70L102.53 696.70L101.84 693.36L100.46 691.36L98.39 690.69L97.01 690.69M217.38 690.69L215.31 691.36L213.94 693.36L213.24 696.70L213.24 698.70L213.94 702.03L215.31 704.03L217.38 704.70L218.76 704.70L220.83 704.03L222.21 702.03L222.91 698.70L222.91 696.70L222.21 693.36L220.83 691.36L218.76 690.69L217.38 690.69M228.05 703.37L227.36 704.03L228.05 704.70L228.74 704.03L228.05 703.37M241.47 690.69L234.58 690.69L233.89 696.70L234.58 696.03L236.65 695.36L238.72 695.36L240.78 696.03L242.16 697.36L242.86 699.36L242.86 700.70L242.16 702.70L240.78 704.03L238.72 704.70L236.65 704.70L234.58 704.03L233.89 703.37L233.19 702.03M355.64 693.36L357.02 692.69L359.09 690.69L359.09 704.70M250.14 737.76L250.14 747.00M250.14 741.72L250.80 739.74L252.12 738.42L253.44 737.76L255.42 737.76M269.28 730.50L257.40 751.62M273.24 737.76L273.24 747.00M273.24 741.72L273.90 739.74L275.22 738.42L276.54 737.76L278.52 737.76M287.48 747.16L286.48 746.20L284.98 745.72L282.98 745.72L281.48 746.20L280.48 747.16L280.48 748.12L280.98 749.08L281.48 749.56L282.48 750.04L285.48 751.00L286.48 751.48L286.98 751.96L287.48 752.92L287.48 754.36L286.48 755.32L284.98 755.80L282.98 755.80L281.48 755.32L280.48 754.36" fill="none" stroke="#000" stroke-width="1.15" stroke-linecap="round" stroke-linejoin="round"/>
<path d="M3.67 531.10L16.90 531.10M3.67 535.65L3.67 526.55M1.15 508.35L2.41 509.65L4.30 510.95L6.82 512.25L9.97 512.90L12.49 512.90L15.64 512.25L18.16 510.95L20.05 509.65L21.31 508.35M3.67 503.80L16.90 503.80M3.67 494.70L12.49 503.80M9.34 500.55L16.90 494.70M1.15 490.80L2.41 489.50L4.30 488.20L6.82 486.90L9.97 486.25L12.49 486.25L15.64 486.90L18.16 488.20L20.05 489.50L21.31 490.80M3.87 203.44L17.10 194.76M3.87 194.76L17.10 203.44M14.71 190.88L24.90 190.88M14.71 184.16L24.90 184.16M19.57 190.88L19.57 184.16M14.71 180.32L24.90 180.32M16.47 174.48L17.10 175.10L16.47 175.72L15.84 175.10L16.47 174.48L17.73 174.48L18.99 175.10L19.62 175.72M3.87 159.04L17.10 150.36M3.87 150.36L17.10 159.04M14.71 146.48L24.90 146.48M14.71 139.76L24.90 139.76M19.57 146.48L19.57 139.76M14.71 135.92L24.90 135.92M14.71 132.08L24.90 132.08" fill="none" stroke="#000" stroke-width="1.25" stroke-linecap="round" stroke-linejoin="round"/>
<path d="M206.30 238.10L293.20 238.10" fill="none" stroke="#0000ff" stroke-width="2.4" stroke-dasharray="15 8.7 3.4 8.7"/>
<path d="M206.30 269.50L293.20 269.50" fill="none" stroke="#00ff00" stroke-width="2.4" stroke-dasharray="18.6 15.4"/>
<path d="M206.30 300.00L293.20 300.00" fill="none" stroke="#ff0000" stroke-width="2.4"/>
<path d="M302.66 233.72L304.18 233.08L306.46 231.15L306.46 244.65M317.94 231.15L315.66 231.79L314.14 233.72L313.38 236.93L313.38 238.86L314.14 242.08L315.66 244.01L317.94 244.65L319.46 244.65L321.74 244.01L323.26 242.08L324.02 238.86L324.02 236.93L323.26 233.72L321.74 231.79L319.46 231.15L317.94 231.15M337.32 231.15L337.32 244.65M337.32 231.15L343.40 244.65M349.48 231.15L343.40 244.65M349.48 231.15L349.48 244.65M351.84 235.65L356.40 244.65M360.96 235.65L356.40 244.65L354.88 247.22L353.36 248.51L351.84 249.15L351.08 249.15M363.93 235.65L363.93 244.65M363.93 239.51L364.69 237.58L366.20 236.29L367.72 235.65L370.00 235.65" fill="none" stroke="#0000ff" stroke-width="2.2" stroke-linecap="round" stroke-linejoin="round"/>
<path d="M302.66 265.12L304.18 264.48L306.46 262.55L306.46 276.05M317.94 262.55L315.66 263.19L314.14 265.12L313.38 268.33L313.38 270.26L314.14 273.48L315.66 275.41L317.94 276.05L319.46 276.05L321.74 275.41L323.26 273.48L324.02 270.26L324.02 268.33L323.26 265.12L321.74 263.19L319.46 262.55L317.94 262.55M330.94 262.55L328.66 263.19L327.14 265.12L326.38 268.33L326.38 270.26L327.14 273.48L328.66 275.41L330.94 276.05L332.46 276.05L334.74 275.41L336.26 273.48L337.02 270.26L337.02 268.33L336.26 265.12L334.74 263.19L332.46 262.55L330.94 262.55M350.32 262.55L350.32 276.05M350.32 262.55L356.40 276.05M362.48 262.55L356.40 276.05M362.48 262.55L362.48 276.05M364.84 267.05L369.40 276.05M373.96 267.05L369.40 276.05L367.88 278.62L366.36 279.91L364.84 280.55L364.08 280.55M376.93 267.05L376.93 276.05M376.93 270.91L377.69 268.98L379.20 267.69L380.72 267.05L383.00 267.05" fill="none" stroke="#00ff00" stroke-width="2.2" stroke-linecap="round" stroke-linejoin="round"/>
<path d="M309.50 293.05L301.90 293.05L301.14 298.83L301.90 298.19L304.18 297.55L306.46 297.55L308.74 298.19L310.26 299.48L311.02 301.41L311.02 302.69L310.26 304.62L308.74 305.91L306.46 306.55L304.18 306.55L301.90 305.91L301.14 305.26L300.38 303.98M317.94 293.05L315.66 293.69L314.14 295.62L313.38 298.83L313.38 300.76L314.14 303.98L315.66 305.91L317.94 306.55L319.46 306.55L321.74 305.91L323.26 303.98L324.02 300.76L324.02 298.83L323.26 295.62L321.74 293.69L319.46 293.05L317.94 293.05M330.94 293.05L328.66 293.69L327.14 295.62L326.38 298.83L326.38 300.76L327.14 303.98L328.66 305.91L330.94 306.55L332.46 306.55L334.74 305.91L336.26 303.98L337.02 300.76L337.02 298.83L336.26 295.62L334.74 293.69L332.46 293.05L330.94 293.05M350.32 293.05L350.32 306.55M350.32 293.05L356.40 306.55M362.48 293.05L356.40 306.55M362.48 293.05L362.48 306.55M364.84 297.55L369.40 306.55M373.96 297.55L369.40 306.55L367.88 309.12L366.36 310.41L364.84 311.05L364.08 311.05M376.93 297.55L376.93 306.55M376.93 301.41L377.69 299.48L379.20 298.19L380.72 297.55L383.00 297.55" fill="none" stroke="#ff0000" stroke-width="2.2" stroke-linecap="round" stroke-linejoin="round"/>
</svg>
</body></html>
